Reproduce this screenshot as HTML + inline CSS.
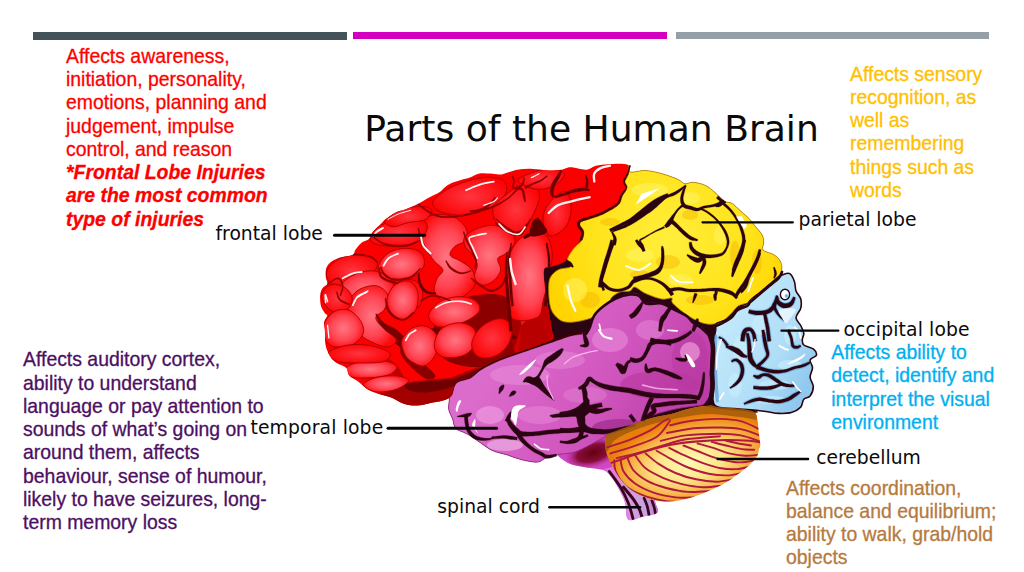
<!DOCTYPE html>
<html><head><meta charset="utf-8">
<style>
html,body{margin:0;padding:0;background:#fff;}
body{width:1024px;height:572px;position:relative;overflow:hidden;font-family:"Liberation Sans",sans-serif;}
.bar{position:absolute;}
.t{position:absolute;font-size:19.42px;line-height:23.25px;white-space:nowrap;-webkit-text-stroke:0.3px currentColor;}
.t div{height:23.25px;}
.lb{position:absolute;font-family:"DejaVu Sans","Liberation Sans",sans-serif;color:#0a0a0a;white-space:nowrap;font-size:18.75px;line-height:22px;}
#brain{position:absolute;left:0;top:0;}
</style></head><body>
<div class="bar" style="left:33px;top:32px;width:313.5px;height:8px;background:#44525a"></div>
<div class="bar" style="left:353px;top:32px;width:314px;height:7px;background:#d400c0"></div>
<div class="bar" style="left:675.5px;top:31.5px;width:313.5px;height:7.5px;background:#959fa8"></div>

<div class="t" id="red" style="left:66px;top:44.8px;color:#ff0000">
<div><span id="r1">Affects awareness,</span></div>
<div><span id="r2">initiation, personality,</span></div>
<div><span id="r3">emotions, planning and</span></div>
<div><span id="r4">judgement, impulse</span></div>
<div><span id="r5">control, and reason</span></div>
<div style="font-weight:bold;font-style:italic"><span id="r6">*Frontal Lobe Injuries</span></div>
<div style="font-weight:bold;font-style:italic"><span id="r7">are the most common</span></div>
<div style="font-weight:bold;font-style:italic"><span id="r8">type of injuries</span></div>
</div>

<div class="t" id="yel" style="left:850px;top:62.5px;color:#ffc000">
<div><span id="y1">Affects sensory</span></div>
<div><span id="y2">recognition, as</span></div>
<div><span id="y3">well as</span></div>
<div><span id="y4">remembering</span></div>
<div><span id="y5">things such as</span></div>
<div><span id="y6">words</span></div>
</div>

<div class="t" id="pur" style="left:23px;top:348.3px;color:#4d0f63">
<div><span id="p1">Affects auditory cortex,</span></div>
<div><span id="p2">ability to understand</span></div>
<div><span id="p3">language or pay attention to</span></div>
<div><span id="p4">sounds of what’s going on</span></div>
<div><span id="p5">around them, affects</span></div>
<div><span id="p6">behaviour, sense of humour,</span></div>
<div><span id="p7">likely to have seizures, long-</span></div>
<div><span id="p8">term memory loss</span></div>
</div>

<div class="t" id="blu" style="left:831.3px;top:341.2px;color:#00b0f0">
<div><span id="b1">Affects ability to</span></div>
<div><span id="b2">detect, identify and</span></div>
<div><span id="b3">interpret the visual</span></div>
<div><span id="b4">environment</span></div>
</div>

<div class="t" id="brn" style="left:786px;top:476.6px;color:#b67a3f">
<div><span id="n1">Affects coordination,</span></div>
<div><span id="n2">balance and equilibrium;</span></div>
<div><span id="n3">ability to walk, grab/hold</span></div>
<div><span id="n4">objects</span></div>
</div>

<div class="lb" id="title" style="left:364.2px;top:106.6px;font-size:36.1px;line-height:44px;">Parts of the Human Brain</div>
<div class="lb" id="lfront" style="left:215.5px;top:223.3px;">frontal lobe</div>
<div class="lb" id="lpar" style="left:798.5px;top:208.7px;">parietal lobe</div>
<div class="lb" id="locc" style="left:843.4px;top:318.7px;letter-spacing:0.13px">occipital lobe</div>
<div class="lb" id="ltemp" style="left:250.4px;top:417.2px;letter-spacing:0.15px">temporal lobe</div>
<div class="lb" id="lcer" style="left:816.2px;top:446.7px;">cerebellum</div>
<div class="lb" id="lsp" style="left:437.3px;top:495.9px;">spinal cord</div>

<svg id="brain" width="1024" height="572" viewBox="0 0 1024 572">
<defs>
<radialGradient id="gr" cx="0.5" cy="0.5" r="0.55"><stop offset="0" stop-color="#ff7682"/><stop offset="0.6" stop-color="#ff4352"/><stop offset="1" stop-color="#ff0a0a"/></radialGradient>
<radialGradient id="gr2" cx="0.5" cy="0.5" r="0.6"><stop offset="0" stop-color="#ff3540"/><stop offset="1" stop-color="#fa0000"/></radialGradient>
<radialGradient id="gy" cx="0.5" cy="0.45" r="0.6"><stop offset="0" stop-color="#fff45a"/><stop offset="0.6" stop-color="#ffe61e"/><stop offset="1" stop-color="#ffd200"/></radialGradient>
<radialGradient id="gp" cx="0.5" cy="0.45" r="0.6"><stop offset="0" stop-color="#e88ad8"/><stop offset="0.6" stop-color="#d460c4"/><stop offset="1" stop-color="#c548b4"/></radialGradient>
<radialGradient id="gb" cx="0.5" cy="0.45" r="0.6"><stop offset="0" stop-color="#cdeafa"/><stop offset="0.6" stop-color="#a4d6f2"/><stop offset="1" stop-color="#6fb6e4"/></radialGradient>
<radialGradient id="gc" gradientUnits="userSpaceOnUse" cx="690" cy="462" r="88" gradientTransform="translate(690 462) rotate(-14) scale(1 0.5) translate(-690 -462)"><stop offset="0" stop-color="#fffab4"/><stop offset="0.4" stop-color="#fde58a"/><stop offset="0.7" stop-color="#f7b447"/><stop offset="0.9" stop-color="#ef901a"/><stop offset="1" stop-color="#e87e0c"/></radialGradient>
<linearGradient id="gst" x1="0" y1="0" x2="1" y2="0"><stop offset="0" stop-color="#e050d0"/><stop offset="0.5" stop-color="#d8a0dc"/><stop offset="1" stop-color="#c070c8"/></linearGradient>
<radialGradient id="gsd" gradientUnits="userSpaceOnUse" cx="593" cy="453" r="30" gradientTransform="translate(593 453) rotate(-8) scale(1 0.5) translate(-593 -453)"><stop offset="0" stop-color="#640010" stop-opacity="1"/><stop offset="0.55" stop-color="#80062a" stop-opacity="0.9"/><stop offset="1" stop-color="#c030a8" stop-opacity="0"/></radialGradient>
<linearGradient id="gsl" gradientUnits="userSpaceOnUse" x1="612" y1="500" x2="655" y2="488"><stop offset="0" stop-color="#ea58dc"/><stop offset="0.35" stop-color="#d89ae0"/><stop offset="0.7" stop-color="#c4a4dc"/><stop offset="1" stop-color="#c060c4"/></linearGradient>
<clipPath id="scl"><path d="M556 452C556.5 455.8 563.3 460.4 567.9 462.9C572.5 465.4 578.4 465.8 583.6 466.9C588.8 467.9 595.5 468.4 599.3 469.2C603.1 470 603.8 469.6 606.3 471.5C608.8 473.4 611.8 477.5 614.2 480.9C616.6 484.3 618.7 488.2 620.5 491.9C622.3 495.6 623.9 498.3 625.2 502.9C626.5 507.5 625.3 517.2 628.3 519.5C631.3 521.8 638.1 517.7 643 516.5C647.9 515.3 655.4 514.9 657.4 512.4C659.4 509.9 656.2 506.8 655 501.4C653.8 496 652.5 488.6 650 480C647.5 471.4 645 458.3 640 450C635 441.7 628.3 433.3 620 430C611.7 426.7 599.2 428.3 590 430C580.8 431.7 570.7 436.3 565 440C559.3 443.7 555.5 448.2 556 452Z"/></clipPath>
<radialGradient id="gyl" gradientUnits="userSpaceOnUse" cx="670" cy="240" r="130"><stop offset="0" stop-color="#ffee3c"/><stop offset="0.6" stop-color="#ffe31a"/><stop offset="1" stop-color="#ffd400"/></radialGradient>
<linearGradient id="gpl" gradientUnits="userSpaceOnUse" x1="500" y1="340" x2="680" y2="440"><stop offset="0" stop-color="#dc6ccc"/><stop offset="0.5" stop-color="#d258c0"/><stop offset="1" stop-color="#bc3ca6"/></linearGradient>
<clipPath id="pcl"><path d="M450 396C451.1 393 453 385 456.3 381.9C459.6 378.8 466.1 379.3 470 377.2C473.9 375.1 475.5 371.9 479.4 369.3C483.3 366.7 488.6 363.9 493.6 361.5C498.6 359.1 504.1 357.2 509.3 355.2C514.5 353.2 519.9 351.5 525.1 349.7C530.4 347.9 535.6 346 540.8 344.2C546 342.4 551.5 340.4 556.5 338.7C561.5 337 566.8 334.9 570.7 333.9C574.6 332.8 577.6 332.5 580.1 332.4C582.6 332.2 584.4 333.7 586 333C587.6 332.3 588.2 330.9 589.6 328C591 325.1 591.9 319.1 594.3 315.5C596.6 311.9 600 309 603.7 306.1C607.4 303.2 611.9 300.3 616.3 298.2C620.7 296.1 626.1 294 630 293.5C633.9 293 636.8 293.4 639.4 295C642 296.6 642 301.6 645.7 302.9C649.4 304.2 656.8 301.8 661.5 302.9C666.2 303.9 669.8 307.1 674 309.2C678.2 311.3 683.5 313.4 686.6 315.5C689.8 317.6 690.7 320.1 692.9 321.8C695.1 323.6 697.4 323.9 700 326C702.6 328.1 706.7 331.4 708.7 334.7C710.7 338 711.4 341.2 711.8 345.7C712.2 350.2 711.3 356.8 711 361.5C710.7 366.2 710.2 370.1 710.2 374C710.2 377.9 711.2 381.1 711 385C710.8 388.9 709.9 394.5 708.7 397.7C707.5 400.9 705.6 402.7 704 404C702.4 405.3 703.7 404.7 699.2 405.5C694.7 406.3 684.8 407.1 677.2 408.7C669.6 410.3 659.8 412.8 653.6 415C647.4 417.2 647.8 418.5 640 422C632.2 425.5 615.3 432.2 607 436C598.7 439.8 595.3 442.3 590 445C584.7 447.7 580.1 450.4 575 452C569.9 453.6 562.7 453.8 559.6 454.3C556.5 454.8 558.8 454.5 556.4 455.1C554 455.8 548.5 457 545.4 458.2C542.2 459.4 541.4 461.8 537.5 462.1C533.6 462.4 526.8 461 521.8 459.8C516.8 458.6 512.7 456.7 507.7 455.1C502.7 453.5 496.9 452.7 491.9 450.3C486.9 447.9 482 443.6 477.8 440.9C473.6 438.1 470.4 435.9 466.7 433.8C463 431.7 458 430.8 455.7 428.3C453.4 425.8 453.8 422 452.6 418.9C451.4 415.8 449.2 412.5 448.7 409.4C448.2 406.2 449.2 402.2 449.4 400C449.6 397.8 448.9 399 450 396Z"/></clipPath>
<linearGradient id="gbl" gradientUnits="userSpaceOnUse" x1="720" y1="330" x2="810" y2="380"><stop offset="0" stop-color="#c2e8fb"/><stop offset="0.6" stop-color="#b0def7"/><stop offset="1" stop-color="#90c8ee"/></linearGradient>
<clipPath id="bcl"><path d="M781.8 275C782.3 274.7 780.5 275.2 781.8 275C783.1 274.8 787.6 272.5 789.7 273.6C791.8 274.7 793.4 278.6 794.4 281.5C795.4 284.4 795 288 796 290.9C797 293.8 799.9 295.9 800.7 298.8C801.5 301.7 801.5 305.1 800.7 308.2C799.9 311.3 796 314.8 796 317.7C796 320.6 799.4 322.9 800.7 325.5C802 328.1 803.5 331.1 803.8 333.4C804.1 335.7 802.3 337.5 802.3 339.4C802.3 341.3 802 343.4 803.8 345C805.6 346.6 811.2 347.2 813.3 348.9C815.4 350.6 816.9 353.4 816.4 355.2C815.9 357 810.8 357.8 810.1 359.9C809.5 362 812.5 364.9 812.5 367.8C812.5 370.7 810 374.1 810.1 377.2C810.2 380.3 813.3 383.5 813.3 386.6C813.3 389.8 811.7 394 810.1 396.1C808.5 398.2 805.4 397.4 803.8 399.2C802.2 401 802.8 404.9 800.7 407.1C798.6 409.3 795 411.6 791.3 412.6C787.6 413.7 782.6 413.5 778.7 413.4C774.8 413.3 771.4 412.3 767.7 411.8C764 411.3 761.2 410.7 756.6 410.2C752 409.7 746.4 409.5 740 409C733.6 408.5 722.5 408.5 718 407C713.5 405.5 713.7 403.7 713 400C712.3 396.3 713.9 390 714 385C714.1 380 713.4 375 713.5 370C713.6 365 714.4 360 714.5 355C714.6 350 713.8 344.2 714 340C714.2 335.8 715.4 332.7 715.7 330C716 327.3 714.7 325.5 716 324C717.3 322.5 721 322.1 723.6 320.8C726.2 319.5 729.1 318.1 731.5 316C733.9 313.9 735.2 310.1 737.8 308.2C740.4 306.2 745.1 305.6 747.2 304.3C749.3 303 748.2 302.3 750.3 300.3C752.4 298.3 756.6 295.1 759.8 292.5C762.9 289.9 766.1 287.2 769.2 284.6C772.4 282 776.6 278.3 778.7 276.7C780.8 275.1 781.3 275.3 781.8 275Z"/></clipPath>
<clipPath id="ccl"><path d="M607.2 434.6C610.1 432.7 617.6 430.4 622.9 428.3C628.1 426.2 633.5 423.8 638.7 422C644 420.2 649.2 418.6 654.4 417.3C659.6 416 664.9 415.5 670.1 414.2C675.4 412.9 680.6 410.7 685.9 409.4C691.1 408.1 697.4 406.9 701.6 406.3C705.8 405.7 708.3 405.4 711 405.5C713.7 405.6 713.2 406.5 718 407C722.8 407.5 734 407.9 740 408.7C746 409.5 751.1 409.9 754 411.8C756.9 413.7 756.6 416.6 757.4 420C758.2 423.4 758.2 428 758.7 432.2C759.2 436.4 760.3 442.1 760.3 445C760.3 447.9 759.4 447.6 758.9 449.4C758.4 451.2 758.6 453.3 757.3 455.7C756 458.1 753.6 461 751 463.6C748.4 466.2 745.8 468.4 741.6 471.5C737.4 474.6 731.1 479.4 725.9 482.5C720.6 485.6 715.4 487.9 710.1 490.3C704.9 492.7 699.6 494.9 694.4 496.6C689.2 498.3 684 499.8 678.7 500.6C673.5 501.4 668.1 501.8 662.9 501.4C657.6 501 652.4 500 647.2 498.2C642 496.4 636 493.4 631.5 490.3C627 487.2 623.6 483.2 620.5 479.3C617.4 475.4 615 471.1 612.6 466.7C610.2 462.2 607.5 457.1 606.3 452.6C605.1 448.2 605.4 443 605.5 440C605.6 437 604.3 436.6 607.2 434.6Z"/></clipPath>
<clipPath id="rcl"><path d="M628.9 165.7C627.9 164.1 624.4 164.1 621 163.8C617.6 163.6 612.7 163.9 608.5 164.2C604.3 164.5 599.6 164.8 595.9 165.7C592.2 166.6 590.6 169.4 586.4 169.7C582.2 170 574.9 167.3 570.7 167.3C566.5 167.3 565 169.2 561.3 169.7C557.6 170.2 553.4 170.6 548.7 170.5C544 170.4 538.1 169 532.9 168.9C527.6 168.8 522.4 168.8 517.2 169.7C512 170.6 505.9 173.8 501.5 174.4C497.1 175.1 494.2 173.7 490.5 173.6C486.8 173.5 482.8 172.9 479.4 173.6C476 174.2 473.1 176.4 470 177.5C466.9 178.6 464.1 179 461 179.9C457.9 180.8 454.2 181.8 451.6 183C449 184.2 447.4 185.4 445.3 187C443.2 188.6 441.6 190.8 439 192.5C436.4 194.2 432.8 195.5 429.6 197.2C426.5 198.9 423 201.1 420.1 202.7C417.2 204.3 414.9 205.4 412.3 206.6C409.7 207.8 407.3 208.8 404.4 209.8C401.5 210.9 398.1 211.3 395 212.9C391.9 214.5 388.1 217.1 385.5 219.2C382.9 221.3 381.3 223.4 379.2 225.5C377.1 227.6 374.6 229.6 372.9 231.8C371.2 234.1 370.8 237.2 369 239C367.2 240.8 364.1 240.7 361.9 242.4C359.7 244.1 357.2 247.3 355.6 249.4C354 251.5 354.9 253.6 352.5 254.9C350.1 256.2 344.9 256.2 341.5 257.3C338.1 258.4 334.5 259.5 332 261.2C329.5 262.9 327.6 265 326.5 267.5C325.4 270 325.6 273.4 325.7 276.2C325.8 279 327.8 282.1 327.3 284.1C326.8 286.1 323.8 286.2 322.6 288C321.4 289.8 320.5 292.1 320.2 295.1C319.9 298.1 320.2 303.1 321 306.1C321.8 309.1 323.8 311.6 324.9 313.2C325.9 314.8 327.4 314.1 327.3 315.5C327.2 316.9 324.6 319.4 324.2 321.8C323.8 324.2 324.6 326 324.9 330C325.1 334 324.8 341.2 325.7 345.7C326.6 350.1 328.7 353.8 330.5 356.7C332.3 359.6 334.1 361.1 336.7 363C339.3 364.9 344.1 365.7 346.2 367.8C348.3 369.9 347.2 373.2 349.3 375.6C351.4 378 355.7 379.5 358.8 381.9C361.9 384.3 364.5 387.7 368.2 389.8C371.9 391.9 376.9 393.2 380.8 394.5C384.7 395.8 387.9 396.1 391.8 397.7C395.7 399.3 400.2 402.6 404.4 403.9C408.6 405.2 412.8 405.6 417 405.5C421.2 405.4 425.4 404 429.6 403.2C433.8 402.4 438.5 402 442.2 400.8C445.9 399.6 449.2 399.2 451.6 396.1C454 393 453.2 385 456.3 381.9C459.4 378.8 466.1 379.3 470 377.2C473.9 375.1 475.5 371.9 479.4 369.3C483.3 366.7 488.6 363.9 493.6 361.5C498.6 359.1 504.1 357.2 509.3 355.2C514.5 353.2 519.9 351.5 525.1 349.7C530.4 347.9 536.1 346 540.8 344.2C545.4 342.4 551.2 341.1 553 338.7C554.8 336.3 552.5 334.6 551.8 330C551.1 325.4 549.8 317.2 548.7 310.8C547.7 304.4 546.3 298.7 545.5 291.9C544.7 285.1 542.9 274.1 543.9 269.9C544.9 265.7 548.4 268 551.8 266.7C555.2 265.4 560.7 264.4 564.4 262C568.1 259.6 571.2 256.3 573.8 252.6C576.4 248.9 578.5 243.5 580.1 240C581.7 236.5 583.5 234.2 583.3 231.8C583 229.4 579.1 227.3 578.6 225.5C578.1 223.7 578.3 222.1 580.1 220.8C581.9 219.5 586.5 218.8 589.6 217.7C592.8 216.6 595.9 215.8 599 214.5C602.1 213.2 605.4 211.6 608.5 209.8C611.6 208 615.8 205.9 617.9 203.5C620 201.1 619.7 198.2 621 195.6C622.3 193 625.4 190.2 625.8 187.8C626.2 185.5 623.1 183.9 623.4 181.5C623.6 179.1 626.4 176.2 627.3 173.6C628.2 171 629.9 167.3 628.9 165.7Z"/></clipPath>
</defs>
<path d="M628.9 165.7C633.9 163.5 627.2 171.2 630 172C632.8 172.8 640.5 170.2 645.7 170.5C651 170.8 656.2 172.2 661.5 173.6C666.8 175 673.3 177.4 677.2 179.1C681.1 180.8 682.5 183.3 685.1 183.8C687.7 184.3 689.5 182 692.9 182.3C696.3 182.6 701.8 183.7 705.5 185.4C709.2 187.1 711.9 189.9 715 192.5C718.1 195.1 721.5 199.3 724.4 201.1C727.3 202.9 729.7 201.9 732.3 203.5C734.9 205.1 737.2 208 740.1 210.6C743 213.2 747 216.4 749.6 219.2C752.2 221.9 753.8 224.5 755.9 227.1C758 229.7 760.9 232.3 762.2 235C763.5 237.7 763.6 240.5 763.7 243C763.8 245.5 761.2 248.1 762.9 250C764.6 251.9 771 252.9 773.9 254.7C776.8 256.5 778.9 258.6 780.2 261C781.5 263.4 781.5 266.6 781.8 268.9C782.1 271.2 780.5 274.2 781.8 275C783.1 275.8 787.6 272.5 789.7 273.6C791.8 274.7 793.4 278.6 794.4 281.5C795.4 284.4 795 288 796 290.9C797 293.8 799.9 295.9 800.7 298.8C801.5 301.7 801.5 305.1 800.7 308.2C799.9 311.3 796 314.8 796 317.7C796 320.6 799.4 322.9 800.7 325.5C802 328.1 803.5 331.1 803.8 333.4C804.1 335.7 802.3 337.5 802.3 339.4C802.3 341.3 802 343.4 803.8 345C805.6 346.6 811.2 347.2 813.3 348.9C815.4 350.6 816.9 353.4 816.4 355.2C815.9 357 810.8 357.8 810.1 359.9C809.5 362 812.5 364.9 812.5 367.8C812.5 370.7 810 374.1 810.1 377.2C810.2 380.3 813.3 383.5 813.3 386.6C813.3 389.8 811.7 394 810.1 396.1C808.5 398.2 805.4 397.4 803.8 399.2C802.2 401 802.8 404.9 800.7 407.1C798.6 409.3 795 411.6 791.3 412.6C787.6 413.7 782.6 413.5 778.7 413.4C774.8 413.3 771.4 412.3 767.7 411.8C764 411.3 762.9 408.8 756.6 410.2C750.3 411.6 739.4 416.7 730 420C720.6 423.3 715 426.7 700 430C685 433.3 656.7 436.7 640 440C623.3 443.3 613.4 447.6 600 450C586.6 452.4 566.9 453.4 559.6 454.3C552.3 455.2 558.8 454.5 556.4 455.1C554 455.8 548.5 457 545.4 458.2C542.2 459.4 541.4 461.8 537.5 462.1C533.6 462.4 526.8 461 521.8 459.8C516.8 458.6 512.7 456.7 507.7 455.1C502.7 453.5 496.9 452.7 491.9 450.3C486.9 447.9 482 443.6 477.8 440.9C473.6 438.1 470.4 435.9 466.7 433.8C463 431.7 458 430.8 455.7 428.3C453.4 425.8 453.8 422 452.6 418.9C451.4 415.8 449.2 412.5 448.7 409.4C448.2 406.2 449.2 402.2 449.4 400C449.6 397.8 448.9 399 450 396C451.1 393 453 385 456.3 381.9C459.6 378.8 464.4 380.8 470 377.2C475.6 373.6 481.7 372.9 490 360C498.3 347.1 511.7 318.3 520 300C528.3 281.7 531.7 265 540 250C548.3 235 560 220.8 570 210C580 199.2 590.2 192.4 600 185C609.8 177.6 623.9 167.9 628.9 165.7Z" fill="#2a0410"/>
<path d="M628.9 165.7C627.9 164.1 624.4 164.1 621 163.8C617.6 163.6 612.7 163.9 608.5 164.2C604.3 164.5 599.6 164.8 595.9 165.7C592.2 166.6 590.6 169.4 586.4 169.7C582.2 170 574.9 167.3 570.7 167.3C566.5 167.3 565 169.2 561.3 169.7C557.6 170.2 553.4 170.6 548.7 170.5C544 170.4 538.1 169 532.9 168.9C527.6 168.8 522.4 168.8 517.2 169.7C512 170.6 505.9 173.8 501.5 174.4C497.1 175.1 494.2 173.7 490.5 173.6C486.8 173.5 482.8 172.9 479.4 173.6C476 174.2 473.1 176.4 470 177.5C466.9 178.6 464.1 179 461 179.9C457.9 180.8 454.2 181.8 451.6 183C449 184.2 447.4 185.4 445.3 187C443.2 188.6 441.6 190.8 439 192.5C436.4 194.2 432.8 195.5 429.6 197.2C426.5 198.9 423 201.1 420.1 202.7C417.2 204.3 414.9 205.4 412.3 206.6C409.7 207.8 407.3 208.8 404.4 209.8C401.5 210.9 398.1 211.3 395 212.9C391.9 214.5 388.1 217.1 385.5 219.2C382.9 221.3 381.3 223.4 379.2 225.5C377.1 227.6 374.6 229.6 372.9 231.8C371.2 234.1 370.8 237.2 369 239C367.2 240.8 364.1 240.7 361.9 242.4C359.7 244.1 357.2 247.3 355.6 249.4C354 251.5 354.9 253.6 352.5 254.9C350.1 256.2 344.9 256.2 341.5 257.3C338.1 258.4 334.5 259.5 332 261.2C329.5 262.9 327.6 265 326.5 267.5C325.4 270 325.6 273.4 325.7 276.2C325.8 279 327.8 282.1 327.3 284.1C326.8 286.1 323.8 286.2 322.6 288C321.4 289.8 320.5 292.1 320.2 295.1C319.9 298.1 320.2 303.1 321 306.1C321.8 309.1 323.8 311.6 324.9 313.2C325.9 314.8 327.4 314.1 327.3 315.5C327.2 316.9 324.6 319.4 324.2 321.8C323.8 324.2 324.6 326 324.9 330C325.1 334 324.8 341.2 325.7 345.7C326.6 350.1 328.7 353.8 330.5 356.7C332.3 359.6 334.1 361.1 336.7 363C339.3 364.9 344.1 365.7 346.2 367.8C348.3 369.9 347.2 373.2 349.3 375.6C351.4 378 355.7 379.5 358.8 381.9C361.9 384.3 364.5 387.7 368.2 389.8C371.9 391.9 376.9 393.2 380.8 394.5C384.7 395.8 387.9 396.1 391.8 397.7C395.7 399.3 400.2 402.6 404.4 403.9C408.6 405.2 412.8 405.6 417 405.5C421.2 405.4 425.4 404 429.6 403.2C433.8 402.4 438.5 402 442.2 400.8C445.9 399.6 449.2 399.2 451.6 396.1C454 393 453.2 385 456.3 381.9C459.4 378.8 466.1 379.3 470 377.2C473.9 375.1 475.5 371.9 479.4 369.3C483.3 366.7 488.6 363.9 493.6 361.5C498.6 359.1 504.1 357.2 509.3 355.2C514.5 353.2 519.9 351.5 525.1 349.7C530.4 347.9 536.1 346 540.8 344.2C545.4 342.4 551.2 341.1 553 338.7C554.8 336.3 552.5 334.6 551.8 330C551.1 325.4 549.8 317.2 548.7 310.8C547.7 304.4 546.3 298.7 545.5 291.9C544.7 285.1 542.9 274.1 543.9 269.9C544.9 265.7 548.4 268 551.8 266.7C555.2 265.4 560.7 264.4 564.4 262C568.1 259.6 571.2 256.3 573.8 252.6C576.4 248.9 578.5 243.5 580.1 240C581.7 236.5 583.5 234.2 583.3 231.8C583 229.4 579.1 227.3 578.6 225.5C578.1 223.7 578.3 222.1 580.1 220.8C581.9 219.5 586.5 218.8 589.6 217.7C592.8 216.6 595.9 215.8 599 214.5C602.1 213.2 605.4 211.6 608.5 209.8C611.6 208 615.8 205.9 617.9 203.5C620 201.1 619.7 198.2 621 195.6C622.3 193 625.4 190.2 625.8 187.8C626.2 185.5 623.1 183.9 623.4 181.5C623.6 179.1 626.4 176.2 627.3 173.6C628.2 171 629.9 167.3 628.9 165.7Z" fill="#fb0000"/>
<path d="M556 452C556.5 455.8 563.3 460.4 567.9 462.9C572.5 465.4 578.4 465.8 583.6 466.9C588.8 467.9 595.5 468.4 599.3 469.2C603.1 470 603.8 469.6 606.3 471.5C608.8 473.4 611.8 477.5 614.2 480.9C616.6 484.3 618.7 488.2 620.5 491.9C622.3 495.6 623.9 498.3 625.2 502.9C626.5 507.5 625.3 517.2 628.3 519.5C631.3 521.8 638.1 517.7 643 516.5C647.9 515.3 655.4 514.9 657.4 512.4C659.4 509.9 656.2 506.8 655 501.4C653.8 496 652.5 488.6 650 480C647.5 471.4 645 458.3 640 450C635 441.7 628.3 433.3 620 430C611.7 426.7 599.2 428.3 590 430C580.8 431.7 570.7 436.3 565 440C559.3 443.7 555.5 448.2 556 452Z" fill="#d048c4"/>
<g clip-path="url(#scl)">
<path d="M600 470L660 455L665 520L620 525Z" fill="url(#gsl)"/>
<ellipse cx="593" cy="453" rx="32" ry="17" transform="rotate(-8 593 453)" fill="url(#gsd)"/>
<path d="M609.4 471.5C611.3 474.1 617.3 482 620.5 487.2C623.6 492.4 626.2 497.7 628.3 502.9C630.4 508.2 632.3 516 633 518.7" fill="none" stroke="#3a0420" stroke-width="2.8" stroke-linecap="round" stroke-linejoin="round" />
<path d="M623.6 487.2C625.3 489.3 631.2 496.1 633.8 499.8C636.4 503.5 637.9 506.2 639.3 509.2C640.7 512.2 641.7 516.4 642.2 517.9" fill="none" stroke="#3a0420" stroke-width="3" stroke-linecap="round" stroke-linejoin="round" />
<path d="M644.1 498.2C644.6 499.5 646.4 503.2 647.2 506.1C648 509 648.8 513.9 649.1 515.5" fill="none" stroke="#3a0420" stroke-width="2.8" stroke-linecap="round" stroke-linejoin="round" />
<path d="M651.9 500.6C652.3 501.8 653.7 505.4 654.3 507.6C654.9 509.9 655.2 512.9 655.4 513.9" fill="none" stroke="#3a0420" stroke-width="2.6" stroke-linecap="round" stroke-linejoin="round" />
</g>
<path id="cerpath" d="M607.2 434.6C610.1 432.7 617.6 430.4 622.9 428.3C628.1 426.2 633.5 423.8 638.7 422C644 420.2 649.2 418.6 654.4 417.3C659.6 416 664.9 415.5 670.1 414.2C675.4 412.9 680.6 410.7 685.9 409.4C691.1 408.1 697.4 406.9 701.6 406.3C705.8 405.7 708.3 405.4 711 405.5C713.7 405.6 713.2 406.5 718 407C722.8 407.5 734 407.9 740 408.7C746 409.5 751.1 409.9 754 411.8C756.9 413.7 756.6 416.6 757.4 420C758.2 423.4 758.2 428 758.7 432.2C759.2 436.4 760.3 442.1 760.3 445C760.3 447.9 759.4 447.6 758.9 449.4C758.4 451.2 758.6 453.3 757.3 455.7C756 458.1 753.6 461 751 463.6C748.4 466.2 745.8 468.4 741.6 471.5C737.4 474.6 731.1 479.4 725.9 482.5C720.6 485.6 715.4 487.9 710.1 490.3C704.9 492.7 699.6 494.9 694.4 496.6C689.2 498.3 684 499.8 678.7 500.6C673.5 501.4 668.1 501.8 662.9 501.4C657.6 501 652.4 500 647.2 498.2C642 496.4 636 493.4 631.5 490.3C627 487.2 623.6 483.2 620.5 479.3C617.4 475.4 615 471.1 612.6 466.7C610.2 462.2 607.5 457.1 606.3 452.6C605.1 448.2 605.4 443 605.5 440C605.6 437 604.3 436.6 607.2 434.6Z" fill="url(#gc)"/>
<path d="M628.9 165.7C629.4 165.4 627.2 171.2 630 172C632.8 172.8 640.5 170.2 645.7 170.5C651 170.8 656.2 172.2 661.5 173.6C666.8 175 673.3 177.4 677.2 179.1C681.1 180.8 682.5 183.3 685.1 183.8C687.7 184.3 689.5 182 692.9 182.3C696.3 182.6 701.8 183.7 705.5 185.4C709.2 187.1 711.9 189.9 715 192.5C718.1 195.1 721.5 199.3 724.4 201.1C727.3 202.9 729.7 201.9 732.3 203.5C734.9 205.1 737.2 208 740.1 210.6C743 213.2 747 216.4 749.6 219.2C752.2 221.9 753.8 224.5 755.9 227.1C758 229.7 760.9 232.3 762.2 235C763.5 237.7 763.6 240.5 763.7 243C763.8 245.5 761.2 248.1 762.9 250C764.6 251.9 771 252.9 773.9 254.7C776.8 256.5 778.9 258.6 780.2 261C781.5 263.4 782 266.3 781.8 268.9C781.5 271.5 780.8 274.1 778.7 276.7C776.6 279.3 772.4 282 769.2 284.6C766.1 287.2 762.9 289.9 759.8 292.5C756.6 295.1 752.4 298.6 750.3 300.3C748.2 302.1 749 302.1 747 303C745 303.9 740.7 304.2 738 306C735.3 307.8 733.5 311.4 730.7 314C727.9 316.6 725 320.1 721.3 321.8C717.6 323.5 712.9 324.5 708.7 324.2C704.5 323.9 700.3 322.2 696.1 320.2C691.9 318.2 687.4 315.3 683.5 312.4C679.6 309.5 674.5 305.3 672.5 302.9C670.5 300.5 673.5 298.6 671.7 298C669.9 297.4 665.8 299.8 661.5 299C657.2 298.2 650.2 295.5 645.7 293.5C641.2 291.5 637.3 287.4 634.7 287C632.1 286.6 632.5 290.2 630 291C627.5 291.8 623 291 620 292C617 293 613.9 295.2 612 297C610.1 298.8 611.2 299.9 608.5 303C605.8 306.1 600.6 312.5 595.9 315.5C591.2 318.5 585.4 319.9 580.1 321C574.9 322.1 568.6 322.7 564.4 321.8C560.2 320.9 557.4 318.1 555 315.5C552.6 312.9 551.2 310.2 550.2 306C549.2 301.8 548.7 295 548.7 290.3C548.7 285.6 548.6 281.2 550.2 277.8C551.8 274.4 554.7 271.8 558.1 269.9C561.5 268 569.2 268.3 570.7 266.7C572.2 265.1 566.6 263.4 567 260.5C567.4 257.6 570.5 252.8 573 249.4C575.5 246 580.3 242.9 582 240C583.7 237.1 583.9 234.2 583.3 231.8C582.7 229.4 579.1 227.3 578.6 225.5C578.1 223.7 578.3 222.1 580.1 220.8C581.9 219.5 586.5 218.8 589.6 217.7C592.8 216.6 595.9 215.8 599 214.5C602.1 213.2 605.4 211.6 608.5 209.8C611.6 208 615.8 205.9 617.9 203.5C620 201.1 619.7 198.2 621 195.6C622.3 193 625.4 190.2 625.8 187.8C626.2 185.5 623.1 183.9 623.4 181.5C623.6 179.1 626.4 176.2 627.3 173.6C628.2 171 628.4 166 628.9 165.7Z" fill="url(#gyl)" stroke="#b88400" stroke-width="0.8"/>
<ellipse cx="668" cy="262" rx="12" ry="7" fill="#f6b400" opacity="0.45"/>
<ellipse cx="700" cy="300" rx="14" ry="5" fill="#f6b400" opacity="0.45"/>
<ellipse cx="640" cy="275" rx="10" ry="5" fill="#f6b400" opacity="0.45"/>
<ellipse cx="735" cy="255" rx="5" ry="14" fill="#f6b400" opacity="0.45"/>
<ellipse cx="590" cy="300" rx="10" ry="8" fill="#f6b400" opacity="0.45"/>
<ellipse cx="610" cy="222" rx="10" ry="4" fill="#f6b400" opacity="0.45"/>
<ellipse cx="690" cy="215" rx="8" ry="5" fill="#f6b400" opacity="0.45"/>
<ellipse cx="757" cy="262" rx="5" ry="12" fill="#f6b400" opacity="0.45"/>
<ellipse cx="650" cy="190" rx="18" ry="7" fill="#fff66a" opacity="0.5"/>
<ellipse cx="690" cy="198" rx="10" ry="6" fill="#fff66a" opacity="0.5"/>
<ellipse cx="640" cy="255" rx="14" ry="7" fill="#fff66a" opacity="0.5"/>
<ellipse cx="680" cy="280" rx="12" ry="6" fill="#fff66a" opacity="0.5"/>
<ellipse cx="575" cy="290" rx="12" ry="12" fill="#fff66a" opacity="0.5"/>
<ellipse cx="720" cy="235" rx="6" ry="10" fill="#fff66a" opacity="0.5"/>
<path d="M685.4 184.8L684.8 185.3L683.9 185.9L682.9 186.7L681.7 187.5L680.6 188.3L679.5 189L678.5 189.6L677.5 190.2L676.5 190.8L675.5 191.4L674.4 192L673.3 192.5L672.2 193.1L670.9 193.6L669.6 194.2L668.2 194.7L666.8 195.3L665.5 195.8L664.3 196.3L663.1 196.8L662 197.3L660.9 197.8L659.7 198.4L658.4 199L657.1 199.9L655.7 200.8L654.3 201.8L652.8 202.9L651.4 203.9L650.1 205L648.8 206L647.6 207.1L646.4 208.2L645.2 209.4L644 210.5L642.6 211.7L641.2 212.9L639.7 214.2L638.2 215.5L636.7 216.8L635.2 218L633.7 219.1L632.1 220.2L630.6 221.2L629 222.2L627.5 223.1L626 224L624.5 224.8L623.2 225.5L621.8 226.1L620.5 226.6L619.2 227.1L618 227.6L616.9 228.2L615.8 228.7L614.9 229.3L614.1 229.8L613.3 230.4L612.8 230.8L612.3 231.1L612.9 232.1L613.4 231.9L614 231.6L614.8 231.3L615.8 231L616.7 230.7L617.8 230.3L618.9 229.9L620.1 229.5L621.4 229.1L622.8 228.6L624.3 228L625.8 227.4L627.3 226.6L628.9 225.8L630.6 224.9L632.2 224L633.9 223L635.6 222L637.2 220.9L638.9 219.8L640.6 218.7L642.3 217.5L643.9 216.4L645.5 215.3L646.9 214.3L648.4 213.3L649.8 212.4L651.1 211.4L652.4 210.5L653.7 209.4L655 208.3L656.4 207.2L657.6 206L658.9 204.8L660 203.7L661.1 202.8L662.1 201.9L663 201L663.9 200.2L664.7 199.5L665.6 198.8L666.6 198.1L667.8 197.5L669.1 197.1L670.5 196.6L671.9 196.2L673.3 195.7L674.6 195.1L675.8 194.5L676.9 193.8L678 193.1L679 192.4L680 191.6L680.9 190.8L681.9 189.9L682.9 188.9L683.9 187.9L684.8 186.9L685.5 186.1L686 185.5Z" fill="#2a0410" stroke="#2a0410" stroke-width="0.3" stroke-linejoin="round" />
<path d="M685.2 185.7L684.9 186.3L684.4 187L683.9 187.9L683.3 188.9L682.8 190L682.3 191.1L681.9 192.3L681.4 193.6L681 195.1L680.7 196.5L680.4 198L680.4 199.4L680.4 200.7L680.6 202L680.9 203.3L681.4 204.6L682.1 205.8L683 206.9L684.3 207.8L685.6 208.4L687 208.8L688.4 209.1L689.7 209.4L690.8 209.6L691.8 209.9L692.9 210.3L694 210.6L695.1 210.9L696.4 211L697.6 211L698.9 210.7L700 210.3L701 209.7L702 209.2L703 208.7L704.1 208.3L705.5 208L707 207.8L708.7 207.5L710.4 207.3L712 207L713.5 206.7L714.9 206.4L716.1 206.1L717.2 205.8L718.3 205.4L719.3 205L720.3 204.5L721.2 203.9L722 203.2L722.7 202.4L723.3 201.7L723.7 201.2L724.1 200.8L722.9 199.5L722.5 199.8L721.9 200.2L721.2 200.7L720.4 201.1L719.6 201.6L718.9 202L718.1 202.4L717.2 202.9L716.3 203.3L715.3 203.7L714.2 204.1L713 204.5L711.6 204.8L710.1 205.1L708.4 205.3L706.7 205.5L705.1 205.8L703.5 206.1L702.2 206.5L701 207L699.9 207.4L699 207.8L698.2 208L697.4 208.1L696.6 208.1L695.8 207.8L694.9 207.5L693.9 207.2L692.9 206.7L691.7 206.3L690.5 206L689.2 205.7L687.9 205.4L686.8 205.1L685.9 204.7L685.3 204.3L684.8 203.8L684.4 203.1L684 202.3L683.6 201.3L683.4 200.3L683.2 199.3L683.2 198.2L683.3 197L683.6 195.6L683.9 194.3L684.2 193L684.5 191.8L684.8 190.7L685.1 189.6L685.4 188.6L685.8 187.6L686.1 186.8L686.3 186.2Z" fill="#2a0410" stroke="#2a0410" stroke-width="0.3" stroke-linejoin="round" />
<path d="M681.9 204.7L681.5 205L681 205.5L680.3 206L679.6 206.7L678.8 207.4L678 208.2L677.3 209.1L676.5 210L675.6 211.1L674.8 212.2L673.9 213.3L673 214.4L672 215.6L671 216.9L670 218.3L669 219.5L668.1 220.6L667.4 221.6L666.8 222.4L666.2 223.2L665.6 224L665.1 224.7L664.7 225.3L664.3 225.8L666.3 227.9L666.7 227.6L667.4 227.3L668.3 226.8L669.2 226.2L670.2 225.3L671.1 224.3L671.8 223L672.5 221.6L673.1 220L673.7 218.5L674.3 217L674.9 215.7L675.6 214.5L676.3 213.3L677.1 212.2L677.8 211.1L678.6 210.2L679.3 209.4L680 208.7L680.8 208.1L681.5 207.6L682.2 207.2L682.8 206.8L683.3 206.6Z" fill="#2a0410" stroke="#2a0410" stroke-width="0.3" stroke-linejoin="round" />
<path d="M669.5 222.1L670.2 222.7L671.2 223.4L672.3 224.3L673.6 225.3L674.8 226.4L675.9 227.3L676.9 228.3L677.9 229.3L679 230.4L680 231.5L681.1 232.6L682.2 233.7L683.4 234.7L684.5 235.7L685.8 236.8L687 237.7L688.3 238.6L689.6 239.4L691.1 240L692.6 240.4L694.1 240.6L695.4 240.8L696.5 240.9L697.3 241.1L697.8 239.4L697 239.1L696 238.7L694.8 238.2L693.6 237.6L692.4 237L691.3 236.4L690.2 235.7L689.1 234.9L688 234L686.8 233L685.7 232.1L684.5 231.1L683.5 230.1L682.4 229.1L681.4 228L680.4 227L679.3 225.9L678.3 224.8L677.1 223.7L676 222.6L674.8 221.5L673.7 220.5L672.8 219.7L672.1 219Z" fill="#2a0410" stroke="#2a0410" stroke-width="0.3" stroke-linejoin="round" />
<path d="M716.3 198L716.9 198.6L717.8 199.4L718.9 200.3L720 201.2L721.1 202L722.1 202.7L723 203L723.8 203.2L724.5 203.2L725.1 203.2L725.5 203.1L725.8 203L725.9 201.9L725.6 201.8L725.2 201.7L724.7 201.5L724.3 201.3L723.8 201.1L723.3 200.7L722.6 200.1L721.7 199.3L720.6 198.3L719.6 197.3L718.8 196.5L718.2 195.9Z" fill="#2a0410" stroke="#2a0410" stroke-width="0.3" stroke-linejoin="round" />
<path d="M611.3 231.8L611.6 232.7L612 233.8L612.5 235.2L613 236.6L613.4 237.9L613.5 238.9L613.5 239.8L613.5 240.9L613.3 242L613.1 243L612.9 244L612.7 244.7L615.6 245.2L615.7 244.6L615.9 243.7L616.2 242.5L616.4 241.2L616.5 239.8L616.4 238.4L615.9 237L615.2 235.6L614.3 234.3L613.5 233.1L612.8 232.1L612.3 231.3Z" fill="#2a0410" stroke="#2a0410" stroke-width="0.3" stroke-linejoin="round" />
<path d="M636.8 242.5L637.4 243.3L638.1 244.3L639 245.5L639.9 246.8L640.7 248L641.3 248.9L641.7 249.6L642 250.2L642.2 250.7L642.4 251.1L642.6 251.5L642.7 251.8L645.4 250.7L645.2 250.4L645.1 250L644.9 249.5L644.6 248.8L644.2 248.1L643.7 247.3L643 246.3L642 245.2L641 244L640.1 242.8L639.2 241.8L638.7 241.1Z" fill="#2a0410" stroke="#2a0410" stroke-width="0.3" stroke-linejoin="round" />
<path d="M610.7 239.7L610.4 240.7L610 242.1L609.6 243.7L609.1 245.5L608.6 247.3L608.1 249.1L607.5 250.8L607 252.6L606.4 254.4L605.8 256.3L605.2 258.1L604.6 260L604.1 261.8L603.5 263.7L603 265.6L602.5 267.4L602 269.3L601.5 271L601 272.7L600.6 274.4L600.1 276.1L599.8 277.6L599.4 279.2L599.1 280.6L598.9 281.9L598.7 283.3L598.5 284.5L598.4 285.5L598.4 286.4L598.3 287L601.7 287.4L601.8 286.7L601.9 285.8L602 284.8L602.1 283.7L602.3 282.5L602.5 281.2L602.8 279.9L603.1 278.5L603.5 276.9L603.9 275.3L604.4 273.6L604.8 271.9L605.3 270.2L605.8 268.4L606.3 266.5L606.9 264.7L607.4 262.8L608 260.9L608.5 259.1L609 257.2L609.5 255.3L609.9 253.4L610.4 251.6L610.8 249.8L611.2 248L611.7 246.2L612.1 244.3L612.4 242.7L612.7 241.3L612.9 240.3Z" fill="#2a0410" stroke="#2a0410" stroke-width="0.3" stroke-linejoin="round" />
<path d="M600.4 283.8L601.3 284.5L602.4 285.5L603.9 286.7L605.5 288L607.1 289.2L608.8 290.1L610.5 290.7L612.1 291.2L613.8 291.5L615.6 291.8L617.3 291.8L619 291.8L620.7 291.5L622.5 291.1L624.3 290.6L626 290L627.6 289.2L629.1 288.4L630.5 287.4L631.6 286.2L632.5 285L633.3 283.9L634.1 282.9L634.9 282.3L635.8 281.7L636.8 281.2L637.8 280.7L638.9 280.3L640.1 279.9L641.4 279.4L642.8 279L644.3 278.6L645.9 278.2L647.6 277.7L649.2 277.3L650.8 276.8L652.3 276.3L653.8 275.8L655.3 275.2L656.7 274.6L658.2 273.7L659.4 272.7L660.5 271.5L661.4 270.1L662.1 268.7L662.7 267.2L663.1 265.6L663.5 263.9L663.8 262.1L664 260.1L664.1 258.1L664.1 256.1L664.1 254.2L664.1 252.6L664 251.1L663.8 249.8L663.6 248.6L663.3 247.6L663.1 246.8L663 246.2L661.3 246.4L661.4 247.1L661.5 247.9L661.6 248.9L661.7 250L661.8 251.3L661.8 252.6L661.7 254.2L661.7 256L661.5 257.9L661.4 259.9L661.1 261.7L660.7 263.3L660.3 264.7L659.8 266L659.2 267.3L658.5 268.4L657.8 269.4L657 270.2L656.1 271L655.1 271.7L654 272.3L652.7 272.9L651.3 273.5L649.9 274L648.4 274.5L646.9 274.8L645.3 275.1L643.6 275.4L641.9 275.7L640.4 276.1L639 276.5L637.7 277L636.4 277.5L635.2 278L634 278.7L632.7 279.6L631.6 280.7L630.7 281.9L629.9 283.1L629.2 284.3L628.4 285.2L627.5 286L626.3 286.7L624.9 287.3L623.4 287.9L621.8 288.4L620.2 288.7L618.8 288.9L617.3 289L615.8 288.9L614.3 288.7L612.8 288.4L611.4 288L610.1 287.5L608.8 286.7L607.4 285.6L606 284.3L604.7 283.1L603.5 282L602.7 281.2Z" fill="#2a0410" stroke="#2a0410" stroke-width="0.3" stroke-linejoin="round" />
<path d="M635.2 240.6L635.5 241.2L635.9 241.9L636.4 242.8L636.9 243.8L637.5 244.8L638.2 245.6L639 246.4L639.9 247.1L640.8 247.7L641.6 248.3L642.4 248.7L642.9 249.1L643.7 248.2L643.3 247.7L642.8 247L642.2 246.2L641.6 245.4L641 244.6L640.4 243.8L639.9 243.1L639.3 242.2L638.6 241.4L638 240.6L637.5 239.9L637.2 239.4Z" fill="#2a0410" stroke="#2a0410" stroke-width="0.3" stroke-linejoin="round" />
<path d="M634.3 283L635.4 282.6L637 282L638.8 281.3L640.7 280.6L642.5 280L644.2 279.7L645.7 279.5L647.2 279.5L648.7 279.6L650.2 279.7L651.7 280L653.2 280.4L654.7 281L656.3 281.7L657.8 282.5L659.4 283.4L660.8 284.3L662.1 285.2L663.2 286.2L664.3 287.2L665.3 288.3L666.2 289.4L667.1 290.5L667.9 291.4L668.6 292.3L669.2 293.2L669.7 294L670.2 294.8L670.6 295.5L670.9 296L673.8 294.2L673.5 293.7L673.2 293L672.7 292.2L672.1 291.2L671.4 290.2L670.6 289.2L669.7 288.3L668.7 287.2L667.6 286.1L666.4 285L665.2 283.9L663.8 282.9L662.3 282L660.7 281.1L659 280.2L657.3 279.4L655.5 278.8L653.8 278.2L652.2 277.8L650.5 277.5L648.9 277.3L647.3 277.3L645.6 277.3L643.9 277.4L642 277.7L640 278.2L637.9 278.8L636 279.5L634.5 280L633.4 280.3Z" fill="#2a0410" stroke="#2a0410" stroke-width="0.3" stroke-linejoin="round" />
<path d="M669.6 292L670.6 291.8L672 291.4L673.7 291L675.4 290.6L677.1 290.3L678.7 290.2L680 290.3L681.4 290.5L682.9 290.8L684.4 291.2L686.1 291.6L688 291.8L690 291.9L692 291.9L694.2 291.9L696.4 291.9L698.6 291.8L700.7 291.8L702.9 291.7L705.1 291.5L707.3 291.3L709.4 291.1L711.4 291L713.3 291L715 291L716.6 291.1L718.1 291.3L719.5 291.5L720.9 291.7L722.4 292L723.9 292.4L725.6 292.9L727.2 293.4L728.7 293.9L730.1 294.5L731.3 295L732.3 295.5L733.2 296.2L734 297L734.8 297.8L735.5 298.5L736 299L737.7 297.5L737.4 296.9L736.9 296.1L736.2 295.1L735.3 294L734.3 292.9L733 292L731.6 291.2L730 290.6L728.3 290L726.5 289.5L724.8 289L723.1 288.7L721.4 288.4L719.9 288.2L718.3 288.1L716.7 288.1L715.1 288.1L713.3 288.1L711.3 288.2L709.2 288.3L707.1 288.5L704.9 288.7L702.7 288.8L700.6 288.9L698.5 289L696.3 289L694.2 289.1L692.1 289.1L690.1 289L688.2 288.9L686.6 288.7L685 288.4L683.5 288.1L682 287.7L680.4 287.5L678.7 287.3L676.8 287.4L674.9 287.6L673 287.9L671.3 288.2L669.9 288.5L668.9 288.7Z" fill="#2a0410" stroke="#2a0410" stroke-width="0.3" stroke-linejoin="round" />
<path d="M743.6 239.7L743.3 241.1L742.8 243L742.2 245.3L741.6 247.7L740.9 250.1L740.2 252.1L739.5 254L738.7 255.9L737.9 257.8L737.1 259.6L736.3 261.4L735.6 263L734.9 264.6L734.4 266.1L733.9 267.4L733.4 268.7L733 269.9L732.6 271.1L732.4 272.1L732.2 273.2L732 274.1L731.9 274.9L731.8 275.5L731.7 276L732.6 276.3L732.8 275.9L733.1 275.3L733.5 274.6L733.9 273.7L734.3 272.8L734.8 271.9L735.3 270.8L735.8 269.7L736.3 268.4L736.9 267.1L737.5 265.7L738.2 264.2L738.9 262.6L739.7 260.8L740.6 259L741.4 257.1L742.2 255.1L743 253L743.6 250.8L744.2 248.4L744.7 245.9L745.2 243.6L745.6 241.7L745.9 240.3Z" fill="#2a0410" stroke="#2a0410" stroke-width="0.3" stroke-linejoin="round" />
<path d="M758.9 249.2L758.6 250.2L758.2 251.5L757.8 253.1L757.3 254.8L756.7 256.6L756 258.3L755.2 260.2L754.2 262.3L753.1 264.4L752 266.6L750.9 268.7L749.8 270.8L748.7 272.7L747.7 274.6L746.7 276.5L745.6 278.3L744.6 280L743.5 281.7L742.4 283.4L741.2 285L740.1 286.6L738.9 288.2L737.9 289.6L737 291L736.3 292.3L735.7 293.5L735.2 294.6L734.8 295.5L734.5 296.3L734.3 296.9L736.3 298L736.7 297.5L737.2 296.8L737.8 296L738.4 295L739.1 294L739.9 292.8L740.7 291.5L741.7 290.1L742.7 288.5L743.8 286.7L744.9 285L746 283.2L747 281.5L748.1 279.7L749.1 277.9L750.2 276L751.2 274.1L752.3 272.1L753.4 270.1L754.5 267.9L755.7 265.7L756.8 263.5L757.8 261.4L758.7 259.4L759.3 257.5L759.9 255.5L760.3 253.7L760.6 252.1L760.9 250.7L761.1 249.7Z" fill="#2a0410" stroke="#2a0410" stroke-width="0.3" stroke-linejoin="round" />
<path d="M693.1 303L693.4 302.5L693.7 301.9L694.2 301.1L694.6 300.2L695.1 299.4L695.5 298.6L695.8 297.8L696.2 296.9L696.6 296L696.9 295.2L697.1 294.5L697.3 293.9L694.6 293L694.5 293.6L694.2 294.3L694 295.1L693.7 296.1L693.5 297L693.3 297.8L693.1 298.7L693 299.7L692.8 300.6L692.7 301.5L692.6 302.3L692.5 302.8Z" fill="#2a0410" stroke="#2a0410" stroke-width="0.3" stroke-linejoin="round" />
<path d="M715.1 300.6L715.3 300L715.6 299.2L715.9 298.2L716.2 297.1L716.5 296.1L716.8 295.3L717 294.5L717.2 293.7L717.4 293L717.6 292.4L717.7 291.8L717.8 291.4L715 290.8L715 291.2L714.9 291.8L714.8 292.5L714.7 293.2L714.6 294L714.5 294.9L714.5 295.8L714.5 296.9L714.5 298L714.5 299L714.5 299.9L714.6 300.5Z" fill="#2a0410" stroke="#2a0410" stroke-width="0.3" stroke-linejoin="round" />
<path d="M699.4 209L700.2 209.4L701.4 209.9L702.7 210.6L704.1 211.3L705.6 212.1L707.1 213L708.5 214.1L710.1 215.2L711.7 216.5L713.3 217.8L714.9 219.2L716.3 220.8L717.7 222.4L719.1 224.2L720.5 226.2L721.7 228.1L722.9 230L723.8 231.7L724.6 233.4L725.3 235L725.8 236.6L726.3 238.1L726.6 239.5L726.9 240.8L727 241.9L726.9 243.1L726.8 244.2L726.6 245.2L726.5 246.1L726.4 246.7L728.1 247.1L728.2 246.5L728.5 245.6L728.8 244.6L729.1 243.3L729.2 241.9L729.1 240.5L728.9 239L728.6 237.5L728.1 235.8L727.5 234.1L726.8 232.4L725.9 230.6L724.8 228.8L723.5 226.9L722.1 225L720.6 223.1L719.1 221.3L717.6 219.6L716.1 218L714.5 216.5L712.8 215.1L711.2 213.8L709.5 212.6L708 211.6L706.5 210.6L704.9 209.8L703.3 209.1L702 208.6L700.8 208.1L700 207.7Z" fill="#2a0410" stroke="#2a0410" stroke-width="0.3" stroke-linejoin="round" />
<path d="M719.4 202.2L720.5 203L721.9 204.1L723.6 205.4L725.4 206.9L727.2 208.4L728.7 209.9L730.1 211.5L731.5 213.3L732.9 215.1L734.2 217L735.4 218.9L736.4 220.7L737.4 222.6L738.2 224.4L739 226.3L739.7 228.1L740.3 229.9L740.8 231.6L741.3 233.2L741.7 234.7L742 236.2L742.2 237.6L742.3 239L742.3 240.5L742.1 242.1L741.7 243.8L741.2 245.6L740.6 247.4L739.9 249.3L739.2 251.1L738.5 253L737.7 254.8L736.9 256.7L736 258.6L735.2 260.4L734.5 262.1L733.9 263.7L733.4 265.3L732.9 266.8L732.5 268.2L732.2 269.4L731.9 270.2L733.5 270.8L733.9 270L734.4 269L735.1 267.7L735.8 266.3L736.5 264.8L737.2 263.2L737.9 261.6L738.7 259.8L739.6 257.9L740.4 256L741.2 254L741.9 252.1L742.6 250.3L743.3 248.4L743.9 246.5L744.5 244.5L744.9 242.6L745.2 240.7L745.2 239L745.1 237.3L744.9 235.6L744.5 234L744 232.4L743.5 230.8L742.9 229L742.2 227.1L741.4 225.3L740.5 223.4L739.5 221.5L738.4 219.6L737.3 217.7L736 215.8L734.7 213.8L733.3 211.9L731.9 210.1L730.4 208.4L728.8 206.7L726.9 205.1L725.1 203.6L723.3 202.3L721.9 201.2L720.8 200.4Z" fill="#2a0410" stroke="#2a0410" stroke-width="0.3" stroke-linejoin="round" />
<path d="M686.8 255.3L687.2 255.7L687.7 256.4L688.4 257.1L689.2 257.9L690.1 258.8L691 259.5L692 260.1L693 260.8L694.1 261.4L695.4 262L696.7 262.4L698.2 262.6L699.8 262.2L701.1 261.4L702 260.6L702.6 260L702.8 259.7L702.3 259.6L702.1 259.4L702.2 259.7L702.4 260.3L702.6 261L702.7 261.8L702.7 262.5L702.6 263.2L702.3 264.1L702 265.2L701.5 266.3L701.1 267.3L700.7 268.4L700.4 269.3L700.1 270.3L699.8 271.2L699.5 272.1L699.2 272.8L699.1 273.3L700.3 274L700.6 273.5L701.1 272.9L701.6 272.2L702.2 271.3L702.8 270.4L703.3 269.5L703.9 268.6L704.4 267.6L705 266.4L705.5 265.2L705.9 264L706.1 262.8L706.1 261.6L706 260.4L705.7 259.2L705.2 258.2L704.6 257.1L703.3 256.3L701.7 256.3L700.5 256.8L699.5 257.3L698.7 257.8L698.2 258L698 258L697.6 257.9L696.8 257.8L695.8 257.5L694.7 257.1L693.6 256.8L692.6 256.4L691.7 256.1L690.7 255.7L689.7 255.3L688.8 254.9L688 254.6L687.4 254.3Z" fill="#2a0410" stroke="#2a0410" stroke-width="0.3" stroke-linejoin="round" />
<path d="M661.3 248.6L661.4 249.6L661.5 251.1L661.6 252.8L661.6 254.6L661.6 256.4L661.6 257.9L661.4 259.3L661.3 260.6L661.1 261.9L660.8 263.2L660.5 264.3L660.1 265.3L659.6 266.2L659.1 266.9L658.5 267.6L657.8 268.2L657.1 268.8L656.3 269.4L655.5 269.9L654.7 270.4L653.8 270.9L652.7 271.3L651.6 271.8L650.4 272.3L649 272.9L647.5 273.4L645.8 274L644.2 274.5L642.6 275L641.1 275.4L639.6 275.8L638.2 276.1L636.7 276.4L635.3 276.6L634.2 276.8L633.3 277L633.9 279.8L634.7 279.6L635.8 279.4L637.2 279.2L638.7 278.9L640.3 278.6L641.8 278.2L643.4 277.8L645 277.2L646.7 276.7L648.4 276.1L650 275.6L651.4 275L652.7 274.5L653.9 274L655 273.5L656.1 273L657.1 272.4L658.1 271.7L658.9 270.9L659.7 270.1L660.4 269.3L661.1 268.4L661.7 267.4L662.2 266.3L662.6 265.1L663 263.8L663.4 262.4L663.6 261L663.8 259.5L663.9 258L663.8 256.3L663.6 254.5L663.3 252.6L662.9 250.9L662.7 249.5L662.5 248.4Z" fill="#2a0410" stroke="#2a0410" stroke-width="0.3" stroke-linejoin="round" />
<path d="M689.1 242.4L689.1 243.1L689.2 244L689.2 245.2L689.4 246.6L689.7 248L690.3 249.4L691.2 250.6L692.1 251.8L693.2 252.9L694.4 254L695.8 255L697.2 255.8L698.8 256.5L700.4 257L702.2 257.4L703.9 257.7L705.7 257.9L707.4 258.1L709.1 258.1L710.9 258L712.6 257.8L714.3 257.6L715.8 257.3L717.3 257L718.5 256.7L719.7 256.3L720.9 256L722 255.5L723 254.9L724 254.1L725 253L725.8 251.7L726.5 250.4L727.1 249.1L727.6 248.1L728 247.3L726.5 246.5L726 247.2L725.4 248.3L724.8 249.4L724 250.6L723.3 251.6L722.5 252.4L721.8 252.8L720.9 253.2L720.1 253.5L719.1 253.7L717.9 254L716.7 254.2L715.3 254.4L713.9 254.5L712.3 254.7L710.7 254.8L709.2 254.7L707.7 254.6L706.2 254.4L704.6 254.1L703.1 253.7L701.6 253.3L700.2 252.7L699 252.2L697.9 251.6L696.8 250.9L695.7 250.1L694.8 249.2L693.9 248.4L693.3 247.6L692.8 246.8L692.4 245.8L692 244.8L691.8 243.7L691.6 242.7L691.4 242Z" fill="#2a0410" stroke="#2a0410" stroke-width="0.3" stroke-linejoin="round" />
<path d="M663.9 226.5L662.8 227L661.3 227.7L659.5 228.6L657.5 229.6L655.6 230.5L653.8 231.5L652.1 232.4L650.4 233.4L648.7 234.4L647.1 235.3L645.6 236.2L644.3 237L643.2 237.6L642.1 238.1L641.2 238.5L640.3 238.9L639.6 239.5L639.1 240.4L639 241.5L639.3 242.6L639.8 243.6L640.3 244.5L640.9 245.3L641.2 245.9L641.6 246.5L642 247.1L642.4 247.6L642.8 248L643.2 248.4L643.4 248.7L644.2 248.3L644.2 247.9L644.1 247.4L643.9 246.8L643.8 246.2L643.5 245.5L643.3 244.8L642.8 244L642.2 243.2L641.6 242.4L641.1 241.7L640.8 241.2L640.7 240.8L640.8 240.5L641.2 240.2L641.8 239.7L642.7 239.2L643.8 238.7L644.9 238L646.2 237.2L647.7 236.3L649.3 235.3L650.9 234.3L652.6 233.4L654.3 232.5L656.1 231.6L658.1 230.8L660 229.9L661.9 229.2L663.5 228.5L664.6 228Z" fill="#2a0410" stroke="#2a0410" stroke-width="0.3" stroke-linejoin="round" />
<path d="M610.6 231.7L611.7 231.2L613 230.5L614.7 229.7L616.5 228.8L618.3 227.8L620.1 227L621.8 226.2L623.6 225.3L625.5 224.5L627.4 223.6L629.4 222.7L631.3 221.6L633.3 220.5L635.2 219.3L637.1 218L639 216.7L640.9 215.4L642.8 214.2L644.7 212.9L646.7 211.7L648.7 210.4L650.6 209.1L652.5 207.9L654.1 206.8L655.6 205.7L657 204.6L658.2 203.6L659.3 202.6L660.4 201.8L661.5 200.9L662.8 200.1L664.2 199.2L665.6 198.4L667 197.7L668.1 197L669 196.6L667.5 193.4L666.6 193.8L665.4 194.3L663.9 194.8L662.3 195.5L660.7 196.2L659.2 197L657.8 197.7L656.4 198.5L655.1 199.3L653.7 200.1L652.3 201.1L650.8 202.1L649.2 203.3L647.4 204.6L645.6 206.1L643.8 207.5L641.9 209L640.1 210.4L638.3 211.9L636.5 213.3L634.8 214.8L633 216.2L631.3 217.5L629.6 218.7L627.8 219.8L626 220.8L624.2 221.7L622.4 222.6L620.6 223.5L618.8 224.4L617 225.3L615.2 226.2L613.4 227.1L611.8 227.9L610.4 228.6L609.4 229.1Z" fill="#2a0410" stroke="#2a0410" stroke-width="0.3" stroke-linejoin="round" />
<path d="M741.5 249.5L740.9 250.5L740.1 251.8L739.2 253.4L738.2 255.2L737.3 257.1L736.4 258.9L735.7 260.7L734.9 262.7L734.2 264.6L733.5 266.6L732.9 268.4L732.5 270L732.1 271.5L731.9 272.8L731.8 274L731.7 275.1L731.6 275.9L731.6 276.6L732.9 276.9L733.2 276.3L733.5 275.5L733.8 274.5L734.2 273.4L734.7 272.2L735.2 270.9L735.7 269.3L736.4 267.6L737 265.6L737.7 263.7L738.4 261.8L739.1 260L739.8 258.3L740.7 256.4L741.5 254.6L742.3 253L743 251.6L743.5 250.5Z" fill="#2a0410" stroke="#2a0410" stroke-width="0.3" stroke-linejoin="round" />
<path d="M758.7 252.7L758.2 253.9L757.5 255.5L756.6 257.4L755.7 259.4L754.7 261.5L753.8 263.5L752.8 265.6L751.7 267.7L750.5 269.9L749.4 272.1L748.4 274.2L747.4 276.2L746.7 278.1L746.2 279.8L745.7 281.5L745.3 283L744.8 284.3L744.3 285.5L743.7 286.7L742.9 287.9L742.1 289.1L741.2 290.2L740.5 291.1L740 291.7L741.8 293.2L742.3 292.6L743.1 291.8L744.1 290.7L745.1 289.6L746.1 288.2L746.9 286.8L747.6 285.3L748.1 283.8L748.5 282.2L748.9 280.7L749.4 279L750.1 277.3L751 275.4L752 273.4L753.1 271.2L754.3 269L755.4 266.9L756.4 264.8L757.3 262.7L758.2 260.5L759 258.4L759.8 256.4L760.4 254.8L760.8 253.6Z" fill="#2a0410" stroke="#2a0410" stroke-width="0.3" stroke-linejoin="round" />
<path d="M773.4 267.5L773.5 268.2L773.7 269.2L774 270.4L774.2 271.6L774.3 272.7L774.4 273.6L774.3 274.3L774.2 275.2L774.1 276L773.8 276.9L773.6 277.6L773.5 278.1L774.4 278.5L774.7 278L775.1 277.4L775.6 276.7L776.1 275.8L776.5 274.7L776.7 273.6L776.5 272.4L776.2 271.1L775.7 269.9L775.2 268.8L774.8 267.8L774.5 267.1Z" fill="#2a0410" stroke="#2a0410" stroke-width="0.3" stroke-linejoin="round" />
<path d="M713.7 294.2L713.7 294.5L713.6 295.1L713.5 295.7L713.5 296.3L713.5 297L713.6 297.5L713.7 298.1L714 298.7L714.4 299.2L714.7 299.7L715 300.2L715.2 300.5L716.3 300.2L716.3 299.8L716.4 299.3L716.4 298.7L716.5 298.1L716.4 297.4L716.3 296.8L716.1 296.3L715.8 295.7L715.5 295.2L715.1 294.7L714.8 294.3L714.6 293.9Z" fill="#2a0410" stroke="#2a0410" stroke-width="0.3" stroke-linejoin="round" />
<path d="M723.8 200.5L723.2 200.9L722.4 201.5L721.5 202.2L720.5 202.8L719.7 203.4L719 203.8L718.5 204L717.9 204.2L717.3 204.4L716.6 204.5L716.1 204.6L715.6 204.7L715.9 207L716.3 207L716.8 207L717.6 207L718.4 207L719.4 206.7L720.4 206.3L721.3 205.7L722.2 204.8L723.1 203.9L723.8 203L724.5 202.3L725 201.8Z" fill="#2a0410" stroke="#2a0410" stroke-width="0.3" stroke-linejoin="round" />
<path d="M613.7 239.6L613.2 240.5L612.6 241.9L611.8 243.5L611 245.3L610.2 247.1L609.5 248.9L608.7 250.7L608 252.5L607.3 254.3L606.5 256.2L605.9 258.1L605.2 259.9L604.7 261.8L604.1 263.7L603.6 265.6L603.2 267.5L602.8 269.3L602.3 271.1L601.9 272.7L601.4 274.3L601 275.9L600.6 277.5L600.3 279.2L600.2 280.9L600.4 282.8L600.8 284.7L601.3 286.5L601.9 288.3L602.3 289.7L602.6 290.7L604.8 290L604.5 289L604 287.5L603.5 285.9L603 284.1L602.6 282.4L602.5 280.9L602.6 279.5L603 278.1L603.4 276.7L604 275.1L604.6 273.5L605.1 271.9L605.6 270.1L606.2 268.3L606.8 266.5L607.3 264.6L607.9 262.8L608.5 261L609.1 259.1L609.7 257.3L610.3 255.4L610.9 253.5L611.5 251.7L612.1 250L612.8 248.2L613.5 246.3L614.2 244.5L614.8 242.9L615.4 241.5L615.8 240.4Z" fill="#2a0410" stroke="#2a0410" stroke-width="0.3" stroke-linejoin="round" />
<path d="M565.8 259.9L566.1 260.4L566.5 261.2L567 262.2L567.5 263.2L568.1 264.1L568.7 264.8L569.3 265.4L570 265.9L570.8 266.4L571.5 266.8L572.2 267.2L572.6 267.4L573.5 266.7L573.3 266.2L573 265.5L572.6 264.7L572.2 263.9L571.7 263.1L571.1 262.4L570.4 261.8L569.5 261.2L568.5 260.7L567.5 260.2L566.7 259.8L566.2 259.5Z" fill="#2a0410" stroke="#2a0410" stroke-width="0.3" stroke-linejoin="round" />
<path d="M635.4 204.8L641.7 193.8L659.8 188.3L651.9 193.8L644.1 199.3Z" fill="#fff"/>
<path d="M736.1 216.6L741.6 215.9L747.1 226.1L744 229.2L740 222.9Z" fill="#fff"/>
<path d="M626 266C628.2 266.6 635.3 270.3 639.3 269.9C643.4 269.5 648.5 264.6 650.3 263.6" fill="none" stroke="#ffffff" stroke-width="2" stroke-linecap="round" stroke-linejoin="round" />
<path d="M670.8 275.4C672.1 276.4 675 280.5 678.7 281.7C682.3 282.9 690.5 282.3 692.8 282.5" fill="none" stroke="#ffffff" stroke-width="1.8" stroke-linecap="round" stroke-linejoin="round" />
<path d="M747.9 291.9C748.5 290.1 750.9 283.3 751.8 280.9C752.7 278.5 753.1 278.3 753.4 277.8" fill="none" stroke="#ffffff" stroke-width="1.4" stroke-linecap="round" stroke-linejoin="round" />
<path d="M752.7 278.3C752 280.4 749.4 288.8 748.8 290.9" fill="none" stroke="#ffffff" stroke-width="1.4" stroke-linecap="round" stroke-linejoin="round" />
<path d="M567.5 285.6C568.1 288 569.4 295.6 570.7 299.8C572 304 574.6 309 575.4 310.8" fill="none" stroke="#ffffff" stroke-width="2.2" stroke-linecap="round" stroke-linejoin="round" />
<path d="M450 396C451.1 393 453 385 456.3 381.9C459.6 378.8 466.1 379.3 470 377.2C473.9 375.1 475.5 371.9 479.4 369.3C483.3 366.7 488.6 363.9 493.6 361.5C498.6 359.1 504.1 357.2 509.3 355.2C514.5 353.2 519.9 351.5 525.1 349.7C530.4 347.9 535.6 346 540.8 344.2C546 342.4 551.5 340.4 556.5 338.7C561.5 337 566.8 334.9 570.7 333.9C574.6 332.8 577.6 332.5 580.1 332.4C582.6 332.2 584.4 333.7 586 333C587.6 332.3 588.2 330.9 589.6 328C591 325.1 591.9 319.1 594.3 315.5C596.6 311.9 600 309 603.7 306.1C607.4 303.2 611.9 300.3 616.3 298.2C620.7 296.1 626.1 294 630 293.5C633.9 293 636.8 293.4 639.4 295C642 296.6 642 301.6 645.7 302.9C649.4 304.2 656.8 301.8 661.5 302.9C666.2 303.9 669.8 307.1 674 309.2C678.2 311.3 683.5 313.4 686.6 315.5C689.8 317.6 690.7 320.1 692.9 321.8C695.1 323.6 697.4 323.9 700 326C702.6 328.1 706.7 331.4 708.7 334.7C710.7 338 711.4 341.2 711.8 345.7C712.2 350.2 711.3 356.8 711 361.5C710.7 366.2 710.2 370.1 710.2 374C710.2 377.9 711.2 381.1 711 385C710.8 388.9 709.9 394.5 708.7 397.7C707.5 400.9 705.6 402.7 704 404C702.4 405.3 703.7 404.7 699.2 405.5C694.7 406.3 684.8 407.1 677.2 408.7C669.6 410.3 659.8 412.8 653.6 415C647.4 417.2 647.8 418.5 640 422C632.2 425.5 615.3 432.2 607 436C598.7 439.8 595.3 442.3 590 445C584.7 447.7 580.1 450.4 575 452C569.9 453.6 562.7 453.8 559.6 454.3C556.5 454.8 558.8 454.5 556.4 455.1C554 455.8 548.5 457 545.4 458.2C542.2 459.4 541.4 461.8 537.5 462.1C533.6 462.4 526.8 461 521.8 459.8C516.8 458.6 512.7 456.7 507.7 455.1C502.7 453.5 496.9 452.7 491.9 450.3C486.9 447.9 482 443.6 477.8 440.9C473.6 438.1 470.4 435.9 466.7 433.8C463 431.7 458 430.8 455.7 428.3C453.4 425.8 453.8 422 452.6 418.9C451.4 415.8 449.2 412.5 448.7 409.4C448.2 406.2 449.2 402.2 449.4 400C449.6 397.8 448.9 399 450 396Z" fill="url(#gpl)" stroke="#8c2080" stroke-width="0.8"/>
<g clip-path="url(#pcl)">
<ellipse cx="620" cy="428" rx="28" ry="9" fill="#9c2c8c" opacity="0.7"/>
<ellipse cx="660" cy="385" rx="40" ry="14" fill="#b8389f" opacity="0.6"/>
<ellipse cx="690" cy="360" rx="18" ry="30" fill="#b8389f" opacity="0.5"/>
<ellipse cx="505" cy="445" rx="18" ry="6" fill="#eaa6de" opacity="0.8"/>
<ellipse cx="520" cy="375" rx="30" ry="10" fill="#e88ad8" opacity="0.6"/>
<ellipse cx="560" cy="360" rx="25" ry="9" fill="#e88ad8" opacity="0.5"/>
<ellipse cx="490" cy="415" rx="14" ry="9" fill="#ee9ae0" opacity="0.7"/>
<ellipse cx="540" cy="415" rx="22" ry="9" fill="#e484d4" opacity="0.6"/>
<ellipse cx="610" cy="340" rx="18" ry="12" fill="#e88ad8" opacity="0.6"/>
<ellipse cx="650" cy="330" rx="14" ry="10" fill="#e88ad8" opacity="0.5"/>
<ellipse cx="585" cy="395" rx="22" ry="8" fill="#e080d0" opacity="0.5"/>
<ellipse cx="690" cy="352" rx="10" ry="10" fill="#f09ad8" opacity="0.7"/>
</g>
<path d="M499.4 393.8L499.9 393.3L500.5 392.5L501.3 391.6L502.1 390.7L502.8 389.9L503.2 389.2L503.5 388.6L503.7 387.9L503.9 387.2L504 386.5L504.1 385.9L504.2 385.4L503.4 384.7L503 384.9L502.4 385.1L501.7 385.4L501 385.9L500.3 386.5L499.7 387.2L499.3 388.2L499.1 389.4L499 390.7L498.9 391.9L498.8 392.9L498.8 393.6Z" fill="#2a0410" stroke="#2a0410" stroke-width="0.3" stroke-linejoin="round" />
<path d="M509.6 396.6L510.2 396.4L511 396.1L512 395.7L513 395.3L513.8 394.9L514.4 394.6L514.7 394.3L515 393.9L515.3 393.5L515.6 393L515.9 392.6L516.1 392.3L515.8 391.3L515.4 391.2L515 391L514.4 390.8L513.7 390.8L512.9 390.9L512.1 391.3L511.4 391.9L510.8 392.8L510.3 393.8L509.8 394.8L509.4 395.6L509.1 396.1Z" fill="#2a0410" stroke="#2a0410" stroke-width="0.3" stroke-linejoin="round" />
<path d="M523.9 382.5L524.6 382.2L525.5 381.8L526.5 381.4L527.5 381.1L528.3 381L528.6 381.1L528.5 381.3L528.7 381.5L529.2 381.9L530.2 382.5L531.5 383L533.2 383L534.5 382.6L535.5 381.9L536.4 381.1L537.2 380.1L537.9 379.1L538.7 378.1L539.5 376.8L540.3 375.3L541.1 373.8L541.9 372.3L542.7 370.9L543.3 369.8L543.7 369L544 368.4L544.2 368L544.5 367.6L544.7 367.3L545.1 366.9L545.7 366.2L546.3 365.6L547 364.9L547.7 364.3L548.4 363.8L549 363.4L549.5 363.1L550.1 362.8L550.8 362.5L551.6 362L552.5 361.5L553.5 360.8L554.5 360.1L555.6 359.3L556.7 358.5L557.8 357.6L558.9 356.6L559.9 355.6L560.7 354.6L561.5 353.4L562.2 352.2L562.7 351.1L563.2 350.2L563.6 349.6L562.1 348.2L561.4 348.6L560.6 349.1L559.5 349.7L558.4 350.3L557.3 351L556.3 351.6L555.4 352.2L554.3 352.9L553.2 353.6L552.1 354.4L551 355.2L550.1 355.8L549.3 356.4L548.5 356.8L547.7 357.3L546.9 357.9L546 358.7L545.2 359.6L544.5 360.6L544 361.7L543.6 362.8L543.3 363.8L543 364.7L542.8 365.5L542.5 366.2L542.4 366.7L542.3 367.1L542.1 367.6L541.9 368.1L541.5 368.8L540.9 369.9L540.1 371.3L539.3 372.7L538.4 374.2L537.5 375.4L536.6 376.3L535.8 377L534.9 377.4L534.1 377.6L533.5 377.7L532.9 377.7L532.7 377.7L532.7 377.6L532.5 377.5L531.9 377.2L530.9 376.7L529.5 376.4L527.9 376.4L526.5 377.1L525.5 378L524.6 379.1L524 380L523.5 380.8L523.1 381.4Z" fill="#2a0410" stroke="#2a0410" stroke-width="0.3" stroke-linejoin="round" />
<path d="M524.3 381.1C524.8 380.2 530.4 378.6 532.9 378C535.4 377.3 537.4 376 539.2 377.2C541.1 378.4 542.4 382.6 543.9 385.1C545.5 387.6 547 389.7 548.7 392.1C550.4 394.6 553.6 398.8 554.2 400C554.7 401.2 553.5 400.4 551.8 399.2C550.1 398 546.6 395 543.9 392.9C541.3 390.8 538.4 388.2 536.1 386.6C533.7 385.1 531.8 384.4 529.8 383.5C527.8 382.6 523.8 382 524.3 381.1Z" fill="#2a0410"/>
<path d="M582.6 332.6L582.8 333.4L582.9 334.6L583.1 336L583.3 337.4L583.5 338.8L583.7 340L583.9 341.1L584.2 342.2L584.4 343.1L584.6 343.7L584.6 343.9L585 343.5L585.1 343.6L584.4 344L583.3 344.4L582 344.7L580.9 345L580.1 345.2L580.1 346.3L580.9 346.4L582 346.7L583.4 347L584.8 347.2L586.3 347.1L587.9 346.4L588.8 344.8L588.9 343.3L588.7 342.1L588.4 340.9L588 339.9L587.6 338.9L587.1 337.7L586.4 336.4L585.7 335.1L585 333.9L584.3 332.9L583.9 332.1Z" fill="#2a0410" stroke="#2a0410" stroke-width="0.3" stroke-linejoin="round" />
<path d="M615.5 364.9L615.9 365.5L616.5 366.3L617.1 367.3L617.8 368.3L618.4 369.2L618.7 369.7L618.8 369.9L619.1 370.6L619.6 371.5L620.2 372.6L621.9 374.1L624.9 373.5L625.9 372L626.5 370.3L627 368.4L627.6 366.5L628.1 364.8L628.5 363.7L628.8 363.3L629.1 363L629.3 362.9L629.6 362.9L630 362.9L630.4 362.7L629.6 360.2L629.4 360.2L629.1 360.3L628.5 360.5L627.7 360.8L627 361.4L626.2 362.3L625.4 363.6L624.5 365.3L623.7 367L622.8 368.7L622.1 369.8L621.9 369.9L624 369.5L625 370L625 369.5L624.8 368.5L624.3 367.2L623.4 365.8L622.3 364.9L621.1 364.3L619.9 363.8L618.8 363.4L617.8 363L617.2 362.8Z" fill="#2a0410" stroke="#2a0410" stroke-width="0.3" stroke-linejoin="round" />
<path d="M578.9 389.5L579.5 389.4L580.3 389.3L581.2 389.2L582.3 389L583.4 388.8L584.3 388.4L585.2 387.9L585.9 387.3L586.5 386.7L587 386.1L587.5 385.4L588.1 384.7L588.7 383.7L589.2 382.6L589.7 381.7L590.1 380.9L590.3 380.6L590 380.7L589.6 380.7L589.9 380.8L590.5 381.2L591.4 381.9L592.4 382.7L593.4 383.3L594.4 383.9L595.4 384.5L596.4 385.2L597.5 385.8L598.6 386.4L599.8 386.9L601.1 387.5L602.4 388L603.7 388.5L605 388.9L606.5 389.3L607.9 389.7L609.4 390.1L611 390.4L612.5 390.6L614.1 390.9L615.8 391.1L617.6 391.3L619.6 391.6L621.9 391.9L624.2 392.2L626.5 392.5L628.4 392.7L629.7 392.9L630.3 388.2L628.9 388.1L627.1 387.8L624.8 387.5L622.5 387.2L620.2 386.9L618.2 386.7L616.5 386.4L614.8 386.2L613.3 385.9L611.8 385.7L610.4 385.4L609 385.1L607.6 384.8L606.3 384.5L605 384.2L603.7 383.9L602.5 383.5L601.3 383.2L600.2 382.8L599.1 382.4L598.1 381.9L597 381.5L596.1 381L595.2 380.5L594.4 379.9L593.7 379.2L592.9 378.5L592 377.7L590.9 377L589.1 376.8L587.6 377.6L586.7 378.7L586.1 379.8L585.6 380.8L585.2 381.7L584.8 382.3L584.3 382.8L583.9 383.4L583.4 383.8L583 384.2L582.6 384.6L582.2 384.9L581.7 385.3L581 385.8L580.2 386.3L579.4 386.8L578.7 387.3L578.2 387.6Z" fill="#2a0410" stroke="#2a0410" stroke-width="0.3" stroke-linejoin="round" />
<path d="M581.3 387.2L581.5 387.9L581.7 388.8L581.9 389.9L582.1 391L582.3 392.2L582.5 393.3L582.7 394.3L582.8 395.5L582.9 396.9L583.1 398.3L583.3 399.8L583.7 401.3L584.1 402.8L584.7 404.4L585.3 406L586 407.5L586.8 409L587.8 410.3L589 411.3L590.2 412.2L591.5 412.8L592.8 413.3L594.2 413.6L595.6 413.8L597.2 413.8L598.8 413.4L600.4 413L601.8 412.5L603 412.1L603.8 411.8L603.6 410.2L602.7 410.2L601.4 410.2L600 410.2L598.5 410.2L597.2 410L596.1 409.8L595.2 409.5L594.3 409.1L593.5 408.7L592.7 408.2L592 407.7L591.3 407.1L590.6 406.3L589.9 405.3L589.2 404.1L588.6 402.8L588 401.5L587.6 400.3L587.3 399.1L587.3 397.9L587.3 396.7L587.3 395.3L587.3 394L587.2 392.6L586.9 391.2L586.5 389.9L586.2 388.7L585.8 387.6L585.4 386.7L585.2 386.1Z" fill="#2a0410" stroke="#2a0410" stroke-width="0.3" stroke-linejoin="round" />
<path d="M579.7 422L580.2 421.4L581 420.5L581.9 419.4L582.8 418.3L583.8 417.3L584.8 416.3L585.8 415.5L586.9 414.5L588.2 413.5L589.3 412.6L590.3 411.8L591.1 411.3L588 407.6L587.4 408.2L586.4 409.1L585.3 410.1L584.1 411.2L582.9 412.4L581.8 413.6L580.9 414.8L580 416.1L579.2 417.5L578.5 418.7L577.9 419.7L577.5 420.5Z" fill="#2a0410" stroke="#2a0410" stroke-width="0.3" stroke-linejoin="round" />
<path d="M551.9 417.5L553.2 417.5L555.1 417.4L557.4 417.3L559.8 417.3L562.2 417.2L564.5 417.1L566.7 417L569.1 416.8L571.4 416.6L573.6 416.5L575.4 416.5L576.7 416.6L577.4 416.8L577.7 417.1L577.9 417.4L578.1 417.8L578.4 418.5L578.7 419L581.6 417.2L581.4 417L581.2 416.4L580.8 415.6L580 414.6L578.8 413.7L577.3 413.3L575.4 413.2L573.4 413.3L571.1 413.6L568.8 413.9L566.5 414.2L564.3 414.4L562.1 414.6L559.7 414.8L557.2 415L555 415.2L553.1 415.4L551.7 415.5Z" fill="#2a0410" stroke="#2a0410" stroke-width="0.3" stroke-linejoin="round" />
<path d="M507.4 421.9L507.8 421.3L508.3 420.5L509 419.5L509.7 418.5L510.4 417.5L510.8 416.5L511.1 415.6L511.3 414.7L511.4 413.8L511.4 413.1L511.4 412.5L511.4 412L510.4 411.6L510.1 412L509.7 412.5L509.3 413L508.8 413.7L508.3 414.3L507.8 415L507.4 415.8L506.8 416.8L506.3 417.9L505.8 419L505.3 419.9L505 420.6Z" fill="#2a0410" stroke="#2a0410" stroke-width="0.3" stroke-linejoin="round" />
<path d="M629.4 361L630 361.2L631 361.6L632.1 362L633.5 362.4L634.9 362.7L636.3 362.7L637.6 362.5L638.9 362.3L640.1 361.8L641.4 361.3L642.6 360.5L643.8 359.5L644.8 358.3L645.7 356.9L646.6 355.4L647.4 353.9L648.1 352.5L648.8 351.2L649.5 350L650 348.7L650.5 347.7L651 346.8L651.4 346.1L651.9 345.6L652.4 345.2L653.1 344.8L653.9 344.5L654.8 344.2L655.8 344L656.9 343.8L658.2 343.7L659.7 343.7L661.4 343.8L663 343.9L664.6 344.1L665.8 344.2L666.8 344.4L667.6 344.7L668.5 345L669.2 345.3L669.9 345.6L670.4 345.8L671.4 344.1L671 343.8L670.5 343.3L669.8 342.7L668.9 342L667.8 341.4L666.6 340.9L665.1 340.6L663.5 340.3L661.7 340L659.9 339.8L658.2 339.7L656.6 339.8L655.1 339.9L653.8 340.2L652.5 340.6L651.3 341.1L650.1 341.8L649 342.7L648.1 343.8L647.5 345.1L647.1 346.3L646.7 347.4L646.3 348.6L645.8 349.7L645.1 351L644.4 352.4L643.7 353.8L642.9 355.2L642.2 356.3L641.4 357.1L640.7 357.6L639.8 358.1L638.9 358.3L638 358.5L637.1 358.6L636.2 358.7L635.4 358.6L634.4 358.4L633.4 358.1L632.3 357.7L631.3 357.4L630.6 357.2Z" fill="#2a0410" stroke="#2a0410" stroke-width="0.3" stroke-linejoin="round" />
<path d="M650 341.1L651.2 341.4L652.8 341.9L654.7 342.5L656.9 343L659.1 343.5L661.3 343.8L663.4 343.9L665.6 344L667.9 343.9L670.1 343.7L672.4 343.4L674.5 343L676.6 342.3L678.7 341.5L680.7 340.6L682.6 339.6L684.3 338.7L685.9 337.8L687.3 336.8L688.7 335.8L689.8 334.8L690.8 333.9L691.6 333.1L692.2 332.6L690.5 330.5L689.8 331L689 331.7L688 332.5L686.8 333.3L685.6 334.1L684.2 334.8L682.7 335.6L681 336.4L679.2 337.2L677.3 337.9L675.4 338.6L673.6 339L671.7 339.4L669.7 339.6L667.6 339.8L665.6 339.9L663.5 339.8L661.6 339.8L659.7 339.6L657.7 339.3L655.6 338.9L653.7 338.4L652.1 338.1L650.9 337.8Z" fill="#2a0410" stroke="#2a0410" stroke-width="0.3" stroke-linejoin="round" />
<path d="M645.1 363.9L645 364.8L644.8 366.1L644.7 367.6L644.7 369.3L645 371L646.3 372.6L648.3 373.1L649.9 372.8L651.3 372.2L652.6 371.6L653.9 371.1L655.1 371L656.5 371.3L658.2 371.7L660 372.3L661.9 373L663.8 373.7L665.5 374.4L667.1 375L668.8 375.7L670.4 376.4L671.9 377.1L673.4 377.8L674.9 378.3L676.3 378.7L677.6 379L678.9 379.2L680 379.3L680.9 379.4L681.6 379.5L682.2 378L681.6 377.6L680.8 377.1L679.9 376.5L678.8 375.8L677.6 375.2L676.4 374.5L675.1 373.9L673.6 373.2L672 372.5L670.4 371.9L668.6 371.2L666.9 370.6L665.1 370L663.1 369.4L661.1 368.8L659.1 368.3L657.2 367.9L655.3 367.6L653.3 367.7L651.5 368.1L650 368.6L648.8 368.9L648.2 369L648.4 369.2L648.3 369.3L647.9 368.5L647.4 367.3L647 365.9L646.7 364.6L646.4 363.7Z" fill="#2a0410" stroke="#2a0410" stroke-width="0.3" stroke-linejoin="round" />
<path d="M675.4 359L676.1 359.3L677 359.8L678.2 360.3L679.4 360.9L680.6 361.3L681.8 361.6L682.8 361.6L683.9 361.6L685 361.5L686 361.2L686.9 360.7L687.8 359.8L687.9 358.5L687.5 357.5L687 356.7L686.4 355.9L685.9 355.3L685.5 354.9L684.6 355.4L684.8 355.9L685 356.7L685.3 357.5L685.5 358.3L685.5 358.7L685.5 358.4L685.5 358.2L685.2 358.2L684.6 358.2L683.8 358.2L682.9 358.2L682.1 358.2L681.2 358.2L680 358.1L678.8 358L677.6 357.9L676.6 357.7L675.8 357.7Z" fill="#2a0410" stroke="#2a0410" stroke-width="0.3" stroke-linejoin="round" />
<path d="M629.4 392.9L630.4 393.1L631.7 393.5L633.3 393.9L635.1 394.3L637 394.8L638.9 395.2L640.8 395.7L642.9 396.1L645 396.5L647.2 397L649.4 397.3L651.7 397.6L654.1 397.8L656.5 398L658.9 398L661.3 398.1L663.7 398.1L666.1 398.1L668.6 398.1L671 398.1L673.4 398.1L675.8 398.1L678.1 398.1L680.3 398.1L682.5 398.2L684.8 398.3L687 398.4L689.1 398.6L691 398.7L692.7 398.9L694.1 399L695.3 399.3L696.3 399.5L697.3 399.7L698.1 399.9L698.7 400.1L699.7 396.8L699.1 396.6L698.4 396.3L697.4 395.9L696.2 395.5L694.8 395.1L693.2 394.9L691.4 394.6L689.4 394.5L687.3 394.3L685 394.2L682.7 394.1L680.4 394.1L678.1 394L675.7 394L673.3 394.1L670.9 394.1L668.6 394.1L666.2 394.1L663.9 393.9L661.5 393.8L659.1 393.6L656.8 393.4L654.5 393.2L652.3 392.9L650.2 392.6L648 392.3L645.9 391.9L643.8 391.5L641.8 391L639.9 390.6L638.1 390.2L636.3 389.8L634.5 389.3L632.9 388.9L631.6 388.5L630.6 388.3Z" fill="#2a0410" stroke="#2a0410" stroke-width="0.3" stroke-linejoin="round" />
<path d="M650.2 396.7L649.9 397.4L649.4 398.3L648.8 399.4L648.2 400.6L647.6 401.9L647 403.1L646.5 404.3L646 405.6L645.4 406.9L644.9 408.3L644.4 409.7L643.8 411.1L643.3 412.7L642.6 414.5L642 416.4L641.5 418.1L641 419.6L640.7 420.6L644.5 421.9L644.9 420.8L645.3 419.4L645.9 417.7L646.5 415.8L647.1 414.1L647.6 412.5L648.2 411.1L648.7 409.7L649.2 408.4L649.7 407.2L650.2 405.9L650.7 404.8L651.3 403.6L651.9 402.4L652.5 401.2L653 400.2L653.5 399.2L653.8 398.6Z" fill="#2a0410" stroke="#2a0410" stroke-width="0.3" stroke-linejoin="round" />
<path d="M703.1 372.4L703 373.4L702.8 374.8L702.6 376.4L702.4 378.2L702.1 380L701.8 381.7L701.5 383.5L701.1 385.4L700.6 387.3L700.1 389.2L699.7 390.9L699.2 392.4L698.7 393.7L698.2 394.9L697.6 395.9L697 396.9L696.5 397.7L696.2 398.4L699.1 400L699.5 399.4L700 398.6L700.6 397.6L701.2 396.4L701.9 395L702.4 393.5L702.9 391.8L703.3 389.9L703.6 387.9L704 385.9L704.3 384L704.5 382.1L704.6 380.3L704.7 378.4L704.8 376.6L704.8 374.9L704.7 373.5L704.8 372.5Z" fill="#2a0410" stroke="#2a0410" stroke-width="0.3" stroke-linejoin="round" />
<path d="M628.6 416L629.2 416.7L630 417.8L631 419.1L632 420.4L632.8 421.5L633.4 422.3L636.1 420.2L635.5 419.5L634.7 418.4L633.7 417.1L632.7 415.8L631.9 414.7L631.4 413.9Z" fill="#2a0410" stroke="#2a0410" stroke-width="0.3" stroke-linejoin="round" />
<path d="M457.3 416.9L458.1 416.9L459.1 416.9L460.3 417L461.5 417L462.7 417.1L463.8 417.1L464.7 417.1L465.6 417.1L466.4 417L467.2 416.9L468 416.8L468.8 416.6L469.6 416.2L470.2 415.7L470.7 415.1L471.2 414.6L471.5 414.1L471.7 413.8L471.2 412.9L470.8 413L470.3 413L469.6 413.1L469 413.2L468.4 413.3L467.8 413.3L467.3 413.4L466.6 413.6L465.9 413.8L465.1 413.9L464.3 414.2L463.4 414.4L462.4 414.7L461.3 415L460.1 415.4L458.9 415.7L458 416L457.3 416.2Z" fill="#2a0410" stroke="#2a0410" stroke-width="0.3" stroke-linejoin="round" />
<path d="M464.3 415.9L464.3 416.7L464.4 417.9L464.5 419.3L464.7 420.9L464.8 422.4L465.1 423.9L465.3 425.2L465.6 426.6L465.9 428L466.3 429.5L466.9 431L467.7 432.4L468.6 433.7L469.7 435L470.9 436.3L472.3 437.5L473.8 438.5L475.5 439.3L477.4 439.9L479.5 440.2L481.6 440.4L483.6 440.5L485.6 440.4L487.2 440.3L488.7 440.1L490.1 439.8L491.3 439.3L492.3 438.9L493.1 438.5L493.7 438.3L493.3 437.2L492.7 437.4L491.8 437.7L490.8 437.9L489.7 438.2L488.5 438.3L487.2 438.3L485.6 438.2L483.8 438L481.9 437.7L480 437.3L478.3 436.8L476.8 436.2L475.6 435.5L474.4 434.7L473.3 433.7L472.2 432.7L471.3 431.6L470.5 430.6L469.9 429.5L469.5 428.4L469.2 427.2L468.9 425.9L468.7 424.6L468.4 423.3L468.2 422L468 420.5L467.9 419L467.8 417.7L467.7 416.5L467.6 415.6Z" fill="#2a0410" stroke="#2a0410" stroke-width="0.3" stroke-linejoin="round" />
<path d="M507.8 417.4L507.7 417.9L507.5 418.6L507.3 419.5L507.2 420.5L507.2 421.7L507.3 422.8L507.7 423.8L508.1 424.7L508.7 425.7L509.3 426.5L509.9 427.4L510.6 428.3L511.2 429.2L512 430.1L512.8 431.1L513.6 432L514.5 432.9L515.4 433.6L516.1 434.1L516.7 434.6L517.6 435.1L518.7 435.6L520 436L521.5 436.2L523.3 436.3L525.4 436.3L527.6 436.2L530 436.1L532.3 436L534.5 435.8L536.7 435.6L539 435.4L541.2 435.1L543.3 434.8L545.3 434.5L547.2 434.3L548.9 434.1L550.5 433.9L552.1 433.8L553.5 433.7L555 433.6L556.6 433.5L558.1 433.4L559.6 433.2L561.1 433.1L562.6 433L564.3 432.8L566 432.7L568 432.6L570.1 432.4L572.4 432.2L574.6 432.1L576.7 432L578.5 431.9L580.1 431.9L581.5 431.9L582.8 431.9L583.9 432L585 432.1L586 432.2L586.9 432.4L587.7 432.7L588.6 433L589.7 433.3L590.9 433.6L592.4 433.8L594 433.9L595.9 433.8L597.8 433.8L599.5 433.6L601 433.5L602.1 433.5L602 429.4L600.9 429.4L599.4 429.4L597.7 429.4L595.9 429.3L594.2 429.2L592.8 429.1L591.9 428.9L591 428.7L590.1 428.4L589.1 428.1L587.9 427.8L586.6 427.5L585.3 427.5L584 427.5L582.7 427.6L581.4 427.7L580 427.8L578.4 427.9L576.5 428L574.4 428.1L572.1 428.2L569.9 428.4L567.7 428.5L565.7 428.7L563.9 428.8L562.3 428.9L560.8 429.1L559.3 429.2L557.8 429.3L556.3 429.4L554.7 429.6L553.2 429.7L551.7 429.8L550.2 429.9L548.5 430.1L546.8 430.2L544.8 430.5L542.7 430.8L540.6 431.1L538.5 431.4L536.3 431.6L534.3 431.8L532.1 431.9L529.9 431.9L527.6 431.9L525.5 431.8L523.6 431.7L522.1 431.5L521.1 431.2L520.6 431L520.3 430.7L520 430.4L519.5 429.9L518.8 429.4L518 428.8L517.3 428.1L516.5 427.4L515.7 426.7L514.9 426L514.2 425.2L513.5 424.5L512.9 423.8L512.4 423.1L511.9 422.4L511.5 421.8L511.1 421.3L510.7 420.7L510.3 420L510 419.2L509.6 418.4L509.3 417.7L509.1 417.2Z" fill="#2a0410" stroke="#2a0410" stroke-width="0.3" stroke-linejoin="round" />
<path d="M515.3 432.5L515.8 433.3L516.5 434.5L517.3 436L518.2 437.6L519.2 439.2L520.2 440.6L521.3 441.8L522.4 442.9L523.6 444L524.7 445L525.9 446L527 446.9L528.1 447.8L529.2 448.7L530.2 449.5L531.3 450.3L532.4 451.1L533.5 451.8L534.6 452.4L535.7 453L536.8 453.5L537.9 454L538.9 454.5L539.9 455L540.8 455.5L541.7 456.1L542.7 456.8L543.9 457.5L545.3 458L546.8 458.3L548.6 458.2L550.5 457.9L552.4 457.4L554.1 456.8L555.6 456.4L556.6 456.1L556.2 454.1L555.1 454.2L553.6 454.5L551.8 454.7L550 454.9L548.4 455L547.1 455L546.2 454.7L545.4 454.4L544.5 453.9L543.6 453.3L542.6 452.6L541.5 452L540.4 451.5L539.3 451L538.3 450.5L537.3 450L536.3 449.5L535.3 448.9L534.3 448.3L533.3 447.6L532.2 446.8L531.2 446.1L530.2 445.2L529.2 444.3L528.2 443.4L527.2 442.4L526.2 441.3L525.2 440.3L524.3 439.2L523.4 438.1L522.6 436.9L521.7 435.5L520.8 434L520 432.6L519.4 431.4L518.9 430.5Z" fill="#2a0410" stroke="#2a0410" stroke-width="0.3" stroke-linejoin="round" />
<path d="M550.2 416.4L551.2 416.4L552.6 416.4L554.3 416.4L556.2 416.4L558 416.3L559.7 416.3L561.3 416.2L562.9 416.2L564.5 416.1L566.1 416.1L567.7 416L569.3 415.8L570.8 415.6L572.3 415.2L573.7 414.9L574.9 414.6L575.9 414.5L576.7 414.6L577.3 414.8L577.9 415.2L578.4 415.6L578.7 416L579 416.4L579.2 416.9L579.3 417.5L579.5 418.4L579.6 419.6L579.6 421L579.7 422.3L579.7 423.5L579.7 424.6L579.6 425.7L579.5 426.9L579.4 427.9L579.3 428.8L579.3 429.5L583.9 430.3L584.1 429.6L584.3 428.7L584.5 427.6L584.8 426.4L585 425L585.1 423.7L585.1 422.3L585.1 420.9L585.1 419.3L584.9 417.7L584.6 416.1L584 414.6L583.2 413.3L582.1 412.3L581 411.6L579.7 411.1L578.4 410.7L577.1 410.6L575.6 410.6L574.1 410.9L572.8 411.4L571.4 411.8L570.1 412.2L568.8 412.5L567.4 412.7L565.8 412.9L564.3 413.1L562.7 413.2L561.1 413.4L559.5 413.6L557.8 413.8L556 414.1L554.2 414.4L552.5 414.7L551.1 414.9L550.1 415.1Z" fill="#2a0410" stroke="#2a0410" stroke-width="0.3" stroke-linejoin="round" />
<path d="M583.5 417.1L584.1 416.3L584.8 415.3L585.6 414.1L586.5 412.9L587.3 411.9L588 411.1L588.5 410.6L588.9 410.3L589.2 410L589.7 409.7L590.5 409.4L591.6 409L593.1 408.6L595.1 408.2L597.2 407.7L599.3 407.3L601.2 407L602.4 406.7L601.6 402.7L600.4 403L598.6 403.4L596.4 403.8L594.2 404.3L592.2 404.7L590.5 405.1L589.3 405.5L588.3 405.7L587.3 406L586.4 406.5L585.6 407L584.7 407.7L583.7 408.8L582.7 410L581.7 411.4L580.9 412.6L580.2 413.7L579.7 414.4Z" fill="#2a0410" stroke="#2a0410" stroke-width="0.3" stroke-linejoin="round" />
<path d="M492 438.8L493.2 438.7L495 438.6L497 438.5L499.2 438.4L501.2 438.3L502.9 438.3L504.4 438.4L505.7 438.6L507 438.8L508.2 439L509.4 439.3L510.6 439.4L511.8 439.6L513 439.6L514.2 439.7L515.3 439.8L516.2 439.8L516.9 439.9L517.3 437.2L516.6 437.1L515.7 436.9L514.6 436.7L513.4 436.4L512.2 436.2L511 436.1L509.8 436L508.6 435.8L507.4 435.7L506 435.6L504.5 435.6L502.9 435.6L501.1 435.7L499 435.9L496.8 436.2L494.8 436.4L493.1 436.6L491.8 436.7Z" fill="#2a0410" stroke="#2a0410" stroke-width="0.3" stroke-linejoin="round" />
<path d="M566.1 443.1L566.9 442.9L568.2 442.7L569.6 442.4L571.1 442.1L572.7 441.8L574.1 441.4L575.4 441.1L576.8 440.7L578.2 440.3L579.5 439.9L580.8 439.5L582 439L583.2 438.5L584.5 438L585.6 437.4L586.7 436.9L587.5 436.5L588.2 436.2L587.6 434.6L586.9 434.8L586 435.1L584.8 435.4L583.6 435.8L582.4 436.1L581.2 436.5L580 436.8L578.7 437.2L577.4 437.6L576 438L574.7 438.4L573.3 438.8L572 439.3L570.5 439.9L569 440.5L567.6 441L566.5 441.5L565.7 441.8Z" fill="#2a0410" stroke="#2a0410" stroke-width="0.3" stroke-linejoin="round" />
<path d="M560.3 416.2L561.3 416L562.8 415.8L564.5 415.5L566.4 415.2L568.2 414.9L569.9 414.6L571.3 414.3L572.8 414L574.2 413.8L575.6 413.5L577 413.1L578.4 412.7L579.7 412.2L581.1 411.7L582.4 411.1L583.6 410.4L584.8 409.6L585.9 408.8L586.8 407.8L587.6 406.7L588.3 405.6L588.8 404.5L589.2 403.3L589.4 402L589.3 400.5L588.7 399.2L588.1 398.4L587.5 397.8L587.1 397.5L586.8 397.3L583.5 399.6L583.7 400L584 400.6L584.2 401L584.3 401.3L584.2 401.4L584.1 401.2L583.9 401.2L583.5 401.6L583.1 402.2L582.5 402.7L581.9 403.3L581.3 403.8L580.7 404.4L579.9 405.1L579.1 405.8L578.2 406.5L577.2 407.1L576.2 407.8L575.2 408.3L574.1 408.8L572.9 409.3L571.7 409.8L570.4 410.2L569 410.6L567.5 411L565.7 411.3L563.9 411.6L562.2 411.8L560.7 412L559.7 412.2Z" fill="#2a0410" stroke="#2a0410" stroke-width="0.3" stroke-linejoin="round" />
<path d="M582.4 409.1L583.3 409.5L584.4 410L585.8 410.6L587.4 411.3L589 411.9L590.5 412.3L592 412.6L593.4 412.9L594.8 413L596.3 413.1L597.8 413.1L599.4 413L600.9 412.8L602.4 412.4L603.9 412L605.2 411.5L606.4 411.1L607.5 410.8L608.4 410.4L609.4 410.1L610.2 409.8L610.9 409.6L611.5 409.4L612 409.2L611.8 408.1L611.3 408.1L610.7 408.1L609.9 408.1L609 408L608 408.1L606.9 408.1L605.7 408.3L604.4 408.5L603.1 408.7L601.7 408.9L600.5 409L599.3 409L598.2 408.8L597.1 408.4L596 408L594.8 407.5L593.6 407L592.4 406.5L591.1 406.1L589.7 405.5L588.2 404.9L586.9 404.3L585.7 403.9L584.8 403.5Z" fill="#2a0410" stroke="#2a0410" stroke-width="0.3" stroke-linejoin="round" />
<path d="M574.7 411.1L575 411.9L575.3 412.9L575.6 414.2L576 415.5L576.4 416.9L576.8 418.2L577 419.3L577.2 420.6L577.4 422.1L577.8 423.7L578.3 425.4L579.2 427L580.3 428.4L581.6 429.5L582.9 430.4L584.3 431.2L585.8 431.8L587.3 432.4L589 432.9L590.7 433.2L592.5 433.5L594.2 433.6L595.9 433.7L597.6 433.8L599.2 433.9L600.8 433.9L602.5 433.9L604.1 433.8L605.7 433.7L607.4 433.5L609 433.3L610.6 433L612.2 432.7L613.8 432.3L615.4 431.9L617 431.5L618.6 431.1L620.2 430.7L621.7 430.2L623.3 429.8L624.9 429.3L626.4 428.8L628.1 428.3L629.9 427.8L631.6 427.2L633.3 426.7L634.7 426.3L635.7 426L635.3 424.4L634.3 424.6L632.8 424.9L631.1 425.2L629.3 425.5L627.5 425.9L625.7 426.2L624.1 426.6L622.6 426.9L621 427.3L619.4 427.6L617.8 428L616.3 428.2L614.7 428.5L613.1 428.8L611.6 429L610.1 429.2L608.5 429.3L607 429.4L605.5 429.5L604 429.5L602.5 429.5L601 429.4L599.5 429.3L597.9 429.1L596.4 428.9L594.8 428.7L593.2 428.5L591.7 428.2L590.4 427.8L589.3 427.4L588.3 426.8L587.4 426.2L586.6 425.4L585.9 424.7L585.3 424L584.8 423.3L584.5 422.7L584.1 421.8L583.8 420.6L583.4 419.3L583 417.9L582.6 416.4L582.1 415.1L581.6 413.7L581 412.4L580.6 411.1L580.2 410.1L579.9 409.4Z" fill="#2a0410" stroke="#2a0410" stroke-width="0.3" stroke-linejoin="round" />
<path d="M559.8 431.9L560.7 432L562.1 432.2L563.7 432.4L565.6 432.5L567.5 432.7L569.5 432.7L571.7 432.6L574.1 432.5L576.7 432.3L579 432.1L581 431.9L582.4 431.8L581.6 426.4L580.2 426.7L578.3 427.1L576 427.6L573.6 428.1L571.3 428.4L569.4 428.7L567.6 428.7L565.9 428.6L564.2 428.4L562.6 428.2L561.2 428L560.2 427.9Z" fill="#2a0410" stroke="#2a0410" stroke-width="0.3" stroke-linejoin="round" />
<path d="M580 428.8L579.9 429.6L579.7 430.7L579.5 432L579.3 433.3L579 434.4L578.6 435.3L578.2 436.1L577.7 436.8L577.1 437.6L576.5 438.3L575.8 438.9L575 439.4L574.1 439.8L573 440.2L571.7 440.5L570.4 440.8L569.1 441L567.8 441.1L566.5 441.2L565.1 441.1L563.6 441L562.2 440.9L561 440.8L560.1 440.7L559.9 442.7L560.7 442.8L561.9 443.1L563.3 443.3L564.8 443.6L566.4 443.8L567.9 443.8L569.3 443.8L570.8 443.7L572.3 443.5L573.7 443.3L575.1 442.9L576.5 442.4L577.7 441.8L578.8 441.1L579.8 440.2L580.7 439.3L581.5 438.2L582.3 437.1L582.9 435.7L583.3 434.2L583.6 432.7L583.8 431.3L583.9 430.2L584 429.4Z" fill="#2a0410" stroke="#2a0410" stroke-width="0.3" stroke-linejoin="round" />
<path d="M645.7 419.2L646.2 419L647 418.6L647.9 418.2L648.9 417.7L649.9 417.1L650.8 416.6L651.7 416.1L652.6 415.4L653.6 414.8L654.6 414L655.6 413L656.3 411.6L656.4 409.7L655.8 408.4L655.1 407.4L654.7 406.8L654.6 406.8L654.3 407.6L654.3 407.7L655 407.5L656.2 407.3L657.6 407.1L659.2 407L661 406.7L662.8 406.5L664.8 406.2L666.9 405.9L669.1 405.6L671.3 405.4L673.5 405.2L675.5 404.9L677.6 404.7L679.8 404.6L681.9 404.4L684 404.2L686 404L688 403.9L690.2 403.7L692.3 403.6L694.2 403.4L695.8 403.3L697 403.3L696.8 399.9L695.6 400L694 400.1L692 400.3L689.9 400.4L687.8 400.6L685.8 400.7L683.8 400.8L681.7 400.8L679.6 400.9L677.4 400.9L675.2 401L673.1 401.1L670.9 401.3L668.7 401.6L666.4 401.9L664.3 402.1L662.2 402.4L660.4 402.7L658.7 402.9L657.1 403.1L655.6 403.3L654.1 403.6L652.7 404L651.3 405L650.6 407L651.1 408.6L651.7 409.6L652.2 410.4L652.4 410.7L652.4 410.5L652.4 410.5L651.9 410.9L651.2 411.4L650.3 412L649.4 412.6L648.5 413.3L647.7 414L646.9 414.7L646.1 415.4L645.3 416L644.7 416.6L644.2 417Z" fill="#2a0410" stroke="#2a0410" stroke-width="0.3" stroke-linejoin="round" />
<path d="M642 301.8L641.5 302.3L640.9 303L640.1 303.9L639.3 304.8L638.5 305.7L637.7 306.5L637 307.5L636.1 308.5L635.3 309.6L634.5 310.6L633.7 311.5L633.1 312.3L632.4 312.9L631.7 313.4L630.9 314L630.2 314.5L629.5 315L629 315.3L631 318.8L631.5 318.6L632.3 318.3L633.2 317.8L634.3 317.2L635.3 316.5L636.4 315.6L637.3 314.6L638.2 313.5L639 312.3L639.8 311.1L640.5 309.9L641.1 308.8L641.7 307.6L642.1 306.3L642.5 305.1L642.8 304L643 303.1L643.2 302.5Z" fill="#2a0410" stroke="#2a0410" stroke-width="0.3" stroke-linejoin="round" />
<path d="M661.2 331.4L661.5 330.4L661.8 328.8L662.2 327.1L662.6 325.3L663 323.6L663.4 322.3L663.8 321.4L664.2 320.7L664.6 320.2L665 319.6L665.4 319.1L665.7 318.5L666 317.9L666.3 317.2L666.6 316.4L667 315.7L667.3 315L667.5 314.5L666.4 313.3L666 313.5L665.3 313.7L664.5 314L663.6 314.5L662.7 315L661.9 315.7L661.4 316.4L660.9 317.1L660.5 317.9L660.1 318.9L659.8 320L659.5 321.3L659.3 322.8L659 324.7L658.9 326.6L658.7 328.4L658.6 330L658.6 331Z" fill="#2a0410" stroke="#2a0410" stroke-width="0.3" stroke-linejoin="round" />
<path d="M665.6 318.9L666.1 317.9L667 316.4L667.9 314.7L668.9 313L669.9 311.5L670.6 310.3L671.2 309.5L671.9 308.7L672.6 308.1L673.2 307.5L673.9 307L674.3 306.5L673.8 305.6L673.2 305.8L672.5 305.9L671.5 306.2L670.4 306.6L669.2 307.2L668.1 308.1L666.9 309.4L665.8 311L664.6 312.7L663.6 314.4L662.7 315.8L662.1 316.8Z" fill="#2a0410" stroke="#2a0410" stroke-width="0.3" stroke-linejoin="round" />
<path d="M694.2 331.8L694.6 330.9L695.3 329.7L696 328.3L696.8 326.8L697.5 325.3L698 324.1L698.3 323L698.4 321.9L698.4 321L698.4 320.1L698.4 319.4L698.4 318.9L696.9 318.4L696.6 318.8L696.2 319.4L695.7 320.1L695.1 320.9L694.6 321.7L694.2 322.7L693.7 323.9L693.2 325.4L692.8 327L692.3 328.5L692 329.8L691.7 330.7Z" fill="#2a0410" stroke="#2a0410" stroke-width="0.3" stroke-linejoin="round" />
<path d="M519.6 374.1C520.6 372.5 527 366.2 529.8 363.8C532.5 361.4 535.7 359.3 536.1 359.6C536.5 359.8 534.2 363.1 532.1 365.4C530 367.7 525.6 371.8 523.5 373.3C521.4 374.7 518.5 375.6 519.6 374.1Z" fill="#fff"/>
<path d="M511.2 418.9C510.6 417 511.5 410.9 512.5 408.7C513.5 406.4 515.2 405.9 517.2 405.5C519.2 405.1 524 405.5 524.3 406.3C524.5 407.1 520.1 408 518.8 410.2C517.5 412.5 517.7 418.5 516.4 420C515.2 421.4 511.9 420.8 511.2 418.9Z" fill="#fff"/>
<path d="M599 330C599.8 331 601.6 334.9 603.7 336.3C605.8 337.7 610.3 338.3 611.6 338.7" fill="none" stroke="#fff" stroke-width="2.2" stroke-linecap="round" stroke-linejoin="round" />
<path d="M564.4 363.8C565.7 362.8 568.6 359.4 572.3 357.5C575.9 355.7 582.2 354 586.4 352.8C590.6 351.6 595.6 350.8 597.4 350.5" fill="none" stroke="#f6b8ea" stroke-width="1.2" stroke-linecap="round" stroke-linejoin="round" />
<path d="M547.1 375.6C547.2 377.5 546.8 382.7 547.9 386.6C548.9 390.6 552.5 397.1 553.4 399.2" fill="none" stroke="#f6b8ea" stroke-width="1.1" stroke-linecap="round" stroke-linejoin="round" />
<path d="M685.9 353.6C686.2 353.1 689 355.6 690.6 357.5C692.1 359.5 695 363.8 695.3 365.4C695.6 367 693.3 367.8 692.1 367C691 366.2 689.3 362.9 688.2 360.7C687.2 358.4 685.5 354.1 685.9 353.6Z" fill="#fff"/>
<path d="M667.8 330.3C669.3 330.4 675.6 330.8 677.2 330.9" fill="none" stroke="#fff" stroke-width="1.6" stroke-linecap="round" stroke-linejoin="round" />
<path d="M455.7 409.4C455.9 407.7 457.2 403 458.1 401.6C459 400.1 461.1 400 461.2 400.8C461.4 401.6 459.5 404.5 458.9 406.3C458.2 408.1 457.8 411.3 457.3 411.8C456.8 412.3 455.6 411.1 455.7 409.4Z" fill="#fff"/>
<path d="M511.6 415.7C511.3 413 512.2 410.4 513.9 408.7C515.6 406.9 519.8 405.9 521.8 405.5C523.8 405.1 526.3 405.4 525.7 406.3C525.2 407.2 520.1 408.9 518.7 411C517.2 413.1 517.6 416.5 517.1 418.9C516.6 421.2 516.4 425.7 515.5 425.2C514.6 424.6 511.8 418.5 511.6 415.7Z" fill="#fff"/>
<path d="M472.3 426C471.5 423.7 473.3 421.5 473.8 420.5C474.3 419.4 475.1 418.4 475.4 419.7C475.7 421 474.9 426 475.4 428.3C475.9 430.7 479.1 434.2 478.5 433.8C478 433.4 473 428.2 472.3 426Z" fill="#fff"/>
<path d="M534.4 444.1C535.4 444.8 538.3 447.9 540.7 448.8C543 449.7 547.2 449.4 548.6 449.6" fill="none" stroke="#fff" stroke-width="1.6" stroke-linecap="round" stroke-linejoin="round" />
<path d="M599.3 324.2C599.5 325.1 600.4 329 600.6 330" fill="none" stroke="#fff" stroke-width="1.6" stroke-linecap="round" stroke-linejoin="round" />
<path d="M642.6 385.1C645.2 385.6 652.5 387.7 658.3 388.5C664.1 389.3 674.1 389.6 677.2 389.8" fill="none" stroke="#f0a0e0" stroke-width="1.6" stroke-linecap="round" stroke-linejoin="round" />
<path d="M781.8 275C782.3 274.7 780.5 275.2 781.8 275C783.1 274.8 787.6 272.5 789.7 273.6C791.8 274.7 793.4 278.6 794.4 281.5C795.4 284.4 795 288 796 290.9C797 293.8 799.9 295.9 800.7 298.8C801.5 301.7 801.5 305.1 800.7 308.2C799.9 311.3 796 314.8 796 317.7C796 320.6 799.4 322.9 800.7 325.5C802 328.1 803.5 331.1 803.8 333.4C804.1 335.7 802.3 337.5 802.3 339.4C802.3 341.3 802 343.4 803.8 345C805.6 346.6 811.2 347.2 813.3 348.9C815.4 350.6 816.9 353.4 816.4 355.2C815.9 357 810.8 357.8 810.1 359.9C809.5 362 812.5 364.9 812.5 367.8C812.5 370.7 810 374.1 810.1 377.2C810.2 380.3 813.3 383.5 813.3 386.6C813.3 389.8 811.7 394 810.1 396.1C808.5 398.2 805.4 397.4 803.8 399.2C802.2 401 802.8 404.9 800.7 407.1C798.6 409.3 795 411.6 791.3 412.6C787.6 413.7 782.6 413.5 778.7 413.4C774.8 413.3 771.4 412.3 767.7 411.8C764 411.3 761.2 410.7 756.6 410.2C752 409.7 746.4 409.5 740 409C733.6 408.5 722.5 408.5 718 407C713.5 405.5 713.7 403.7 713 400C712.3 396.3 713.9 390 714 385C714.1 380 713.4 375 713.5 370C713.6 365 714.4 360 714.5 355C714.6 350 713.8 344.2 714 340C714.2 335.8 715.4 332.7 715.7 330C716 327.3 714.7 325.5 716 324C717.3 322.5 721 322.1 723.6 320.8C726.2 319.5 729.1 318.1 731.5 316C733.9 313.9 735.2 310.1 737.8 308.2C740.4 306.2 745.1 305.6 747.2 304.3C749.3 303 748.2 302.3 750.3 300.3C752.4 298.3 756.6 295.1 759.8 292.5C762.9 289.9 766.1 287.2 769.2 284.6C772.4 282 776.6 278.3 778.7 276.7C780.8 275.1 781.3 275.3 781.8 275Z" fill="url(#gbl)" stroke="#2a0410" stroke-width="1.6"/>
<g clip-path="url(#bcl)">
<path d="M715.7 336.3C715.6 339.2 714.9 346.8 714.9 353.6C714.9 360.4 715.3 369.3 715.7 377.2C716.1 385.1 717 396.9 717.3 400.8" fill="none" stroke="#5a9edc" stroke-width="3.5" stroke-linecap="round" stroke-linejoin="round" opacity="0.7"/>
<path d="M725.5 348.3L726.1 348.5L726.9 348.9L727.7 349.3L728.7 349.8L729.6 350.2L730.5 350.7L731.3 351.2L732.3 351.8L733.3 352.3L734.2 352.9L735.1 353.5L735.9 354L736.6 354.4L737.3 355L738.1 355.6L738.9 356.3L739.9 357L741.1 357.6L742.3 358L743.4 358.3L744.5 358.4L745.4 358.5L746.2 358.5L746.7 358.6L747.7 354.9L747.2 354.7L746.5 354.3L745.8 354L745 353.6L744.4 353.1L743.9 352.8L743.5 352.3L743 351.7L742.4 351L741.6 350.2L740.7 349.3L739.6 348.5L738.4 347.8L737.3 347.2L736.1 346.7L734.8 346.2L733.6 345.8L732.5 345.5L731.3 345.2L730.1 345L728.9 344.9L727.9 344.9L727 344.8L726.4 344.8Z" fill="#5c9fdc" stroke="#5c9fdc" stroke-width="0.3" stroke-linejoin="round" opacity="0.6"/>
<path d="M744.9 333.6L745.1 334.5L745.3 335.6L745.6 337L745.8 338.5L746.1 339.9L746.2 341.4L746.4 342.8L746.5 344.3L746.5 345.9L746.6 347.6L746.7 349.2L746.8 350.7L746.8 352.1L746.8 353.4L746.9 354.8L746.9 356.3L747.1 357.7L747.4 359.2L747.9 360.6L748.5 361.8L749.2 362.9L749.9 363.9L750.6 364.8L751.3 365.5L752 366.3L752.8 367L753.6 367.5L754.3 367.9L754.9 368.3L755.2 368.5L758 365.5L757.7 365.1L757.3 364.5L756.9 364L756.5 363.4L756.1 362.8L755.7 362.1L755.3 361.4L754.8 360.6L754.3 359.8L753.9 359L753.5 358.2L753.3 357.5L753.1 356.6L752.9 355.6L752.8 354.4L752.6 353.1L752.5 351.7L752.3 350.2L752.2 348.7L752 347.2L751.9 345.5L751.7 343.9L751.5 342.2L751.3 340.7L751 339.1L750.7 337.5L750.3 336L749.9 334.6L749.7 333.5L749.4 332.7Z" fill="#5c9fdc" stroke="#5c9fdc" stroke-width="0.3" stroke-linejoin="round" opacity="0.6"/>
<path d="M732.2 363.1L732.8 362.9L733.6 362.6L734.4 362.3L735.1 362.1L735.6 362.1L735.7 362.1L736 362.3L736.6 362.7L737.2 363.2L737.8 363.8L738.3 364.5L738.7 365.1L739 365.8L739.4 366.7L739.6 367.7L739.8 368.7L739.9 369.8L739.9 370.8L739.8 371.8L739.6 373L739.2 374.2L738.8 375.4L738.4 376.5L737.9 377.6L737.4 378.4L736.8 379.3L736.1 380.1L735.4 380.9L734.6 381.8L733.9 382.6L733.1 383.3L732.2 384.1L731.2 384.9L730.3 385.7L729.5 386.3L728.9 386.8L730.8 389.6L731.5 389.3L732.4 388.8L733.5 388.2L734.6 387.6L735.8 386.8L736.9 386L737.9 385.2L738.8 384.4L739.8 383.4L740.7 382.4L741.6 381.2L742.4 380L743 378.6L743.6 377.2L744.1 375.7L744.6 374.1L744.9 372.6L745 371L745 369.5L744.9 368L744.6 366.6L744.3 365.1L743.7 363.8L743.1 362.5L742.3 361.4L741.4 360.3L740.3 359.4L739.2 358.7L738 358.1L736.6 357.6L735.1 357.6L733.8 358L732.7 358.6L731.8 359.1L731.1 359.6L730.7 359.8Z" fill="#5c9fdc" stroke="#5c9fdc" stroke-width="0.3" stroke-linejoin="round" opacity="0.6"/>
<path d="M760.7 330.4L760.8 331.4L761 332.9L761.2 334.6L761.5 336.5L761.7 338.3L762 339.9L762.2 341.3L762.5 342.7L762.8 344L763 345.3L763.3 346.5L763.6 347.9L764 349.3L764.5 350.7L764.9 352L765.3 353.1L765.4 354L765.4 354.7L765.2 355.4L764.7 356.1L764 357L763.2 357.9L762.2 358.9L761.3 359.9L760.3 360.8L759.1 361.8L757.9 362.8L756.8 363.7L755.7 364.4L755 365L758.3 368.9L758.9 368.3L759.9 367.5L761.1 366.5L762.3 365.3L763.5 364.2L764.6 363.1L765.5 362.1L766.5 361L767.5 359.9L768.5 358.7L769.3 357.3L769.9 355.7L770.1 353.9L769.9 352.2L769.6 350.7L769.2 349.2L768.8 347.9L768.6 346.7L768.3 345.5L768.1 344.2L767.8 343L767.6 341.7L767.3 340.4L767 339L766.7 337.4L766.4 335.7L766 333.8L765.7 332.1L765.4 330.7L765.2 329.6Z" fill="#5c9fdc" stroke="#5c9fdc" stroke-width="0.3" stroke-linejoin="round" opacity="0.6"/>
<path d="M755.7 369.6L756.7 369.9L758.2 370.4L759.9 371L761.8 371.6L763.7 372.1L765.4 372.6L767.1 373L768.7 373.3L770.4 373.7L772 373.9L773.7 374.1L775.4 374.2L777.1 374.2L778.8 374.2L780.4 374L782.1 373.8L783.8 373.5L785.4 373.2L787.2 372.7L788.8 372.2L790.5 371.6L792 371L793.6 370.4L795 370L796.6 369.6L798.2 369.2L799.8 368.8L801.5 368.5L803.1 368.1L804.6 367.6L806 367L807.4 366.2L808.6 365.5L809.6 364.9L810.4 364.3L811 363.9L809.2 360.6L808.5 360.9L807.6 361.3L806.6 361.8L805.4 362.3L804.2 362.8L803.1 363.2L801.8 363.6L800.4 363.9L798.8 364.3L797.1 364.7L795.4 365.1L793.7 365.6L792.1 366.1L790.5 366.7L788.9 367.3L787.4 367.8L785.9 368.3L784.5 368.7L783 368.9L781.5 369.1L780 369.2L778.6 369.2L777.1 369.2L775.6 369.1L774.2 369L772.7 368.9L771.2 368.6L769.7 368.4L768.2 368L766.7 367.7L765.1 367.2L763.4 366.6L761.7 365.9L760 365.3L758.6 364.7L757.6 364.3Z" fill="#5c9fdc" stroke="#5c9fdc" stroke-width="0.3" stroke-linejoin="round" opacity="0.6"/>
<path d="M752.8 377.3L753.2 377.6L753.9 378L754.7 378.6L755.7 379.1L757 379.6L758.4 379.7L759.9 379.4L761.1 378.7L761.9 378.1L762.5 377.6L762.9 377.2L763.4 377.1L764.1 377L764.8 377L765.6 377.1L766.3 377.3L767.2 377.5L768.1 377.9L769.3 378.6L770.8 379.6L772.5 380.7L774.1 381.9L775.8 383.1L777.3 384.1L778.5 384.8L779.5 385.5L780.6 386.1L781.7 386.7L782.9 387.2L784.4 387.5L786.1 387.8L788 387.9L789.9 388L791.7 387.9L793.2 387.9L794.3 387.9L794.5 383.8L793.4 383.7L791.9 383.5L790.2 383.4L788.4 383.1L786.8 382.9L785.5 382.6L784.6 382.3L783.8 381.9L783 381.6L782.2 381.1L781.2 380.5L780 379.8L778.7 378.9L777.1 377.8L775.4 376.5L773.7 375.3L772 374.2L770.3 373.3L768.8 372.7L767.3 372.4L766 372.3L764.8 372.3L763.6 372.4L762.5 372.6L761.2 372.9L760 373.5L759.1 374L758.4 374.4L758 374.6L758 374.7L757.8 374.7L757.2 374.7L756.4 374.5L755.6 374.3L754.8 374.1L754.2 374Z" fill="#5c9fdc" stroke="#5c9fdc" stroke-width="0.3" stroke-linejoin="round" opacity="0.6"/>
<path d="M753.3 389.7L754.3 389.8L755.7 390L757.4 390.3L759.2 390.5L761.1 390.7L762.9 390.8L764.6 390.8L766.2 390.7L767.8 390.7L769.5 390.5L771.2 390.3L772.9 389.9L774.7 389.4L776.6 388.7L778.5 388L780.1 387.2L781.5 386.6L782.5 386.2L781.1 382.3L780.1 382.7L778.6 383.1L776.9 383.6L775.1 384.2L773.4 384.6L771.8 384.9L770.4 385.2L768.9 385.3L767.5 385.5L766 385.6L764.5 385.6L763 385.7L761.4 385.6L759.6 385.6L757.9 385.5L756.2 385.3L754.8 385.2L753.7 385.1Z" fill="#5c9fdc" stroke="#5c9fdc" stroke-width="0.3" stroke-linejoin="round" opacity="0.6"/>
<path d="M744.7 405.6L745.6 405.3L746.9 404.8L748.3 404.3L749.8 403.8L751.3 403.4L752.6 403L753.9 402.7L755.1 402.4L756.3 402.1L757.4 401.9L758.6 401.8L759.8 401.8L761 401.9L762.4 402.1L763.9 402.4L765.5 402.7L767.2 403.1L768.9 403.3L770.4 403.5L772 403.8L773.7 404L775.3 404.1L777.1 404.2L778.9 404.1L780.7 403.9L782.4 403.6L784.2 403.2L785.9 402.7L787.6 402.2L789.1 401.6L790.5 400.9L791.8 400.2L792.9 399.5L793.9 398.8L794.9 398.1L795.8 397.4L796.8 396.7L798 395.8L799.1 395L800.2 394.2L801.1 393.5L801.7 393L799.7 389.7L799 390.1L797.9 390.6L796.8 391.2L795.5 391.8L794.2 392.5L793 393.1L791.9 393.8L790.9 394.5L790 395.2L789.1 395.8L788.2 396.4L787.1 396.9L785.9 397.3L784.4 397.8L782.9 398.2L781.4 398.6L779.9 398.9L778.5 399L777.1 399.1L775.7 399L774.2 398.9L772.7 398.7L771.1 398.5L769.6 398.3L768.1 398L766.5 397.7L764.9 397.4L763.3 397L761.5 396.8L759.8 396.7L758.2 396.8L756.6 397L755.2 397.3L753.8 397.7L752.5 398.1L751.2 398.6L749.8 399.2L748.2 399.9L746.7 400.6L745.3 401.3L744.2 401.9L743.4 402.3Z" fill="#5c9fdc" stroke="#5c9fdc" stroke-width="0.3" stroke-linejoin="round" opacity="0.6"/>
<path d="M786 330.9L786.3 331.8L786.9 332.9L787.5 334.3L788.1 335.8L788.6 337.2L789 338.5L789.3 339.7L789.5 341L789.7 342.5L789.9 344L790.2 345.4L790.8 346.9L791.7 348L792.8 348.9L794 349.3L795.1 349.6L796 349.6L796.9 349.6L798 349.4L799 349L799.9 348.5L800.6 348L801.2 347.7L801.5 347.4L799.9 344L799.4 344.2L798.7 344.5L798.1 344.7L797.4 344.9L796.9 345L796.6 345L796.2 345L795.7 344.9L795.3 344.9L795.1 344.8L794.9 344.7L794.8 344.6L794.6 344.1L794.4 343.2L794.3 341.9L794.1 340.4L793.8 338.8L793.5 337.2L792.9 335.7L792.3 334.1L791.7 332.6L791.1 331.1L790.6 329.9L790.2 329.1Z" fill="#5c9fdc" stroke="#5c9fdc" stroke-width="0.3" stroke-linejoin="round" opacity="0.6"/>
<path d="M717.9 338.6L718.5 339L719.2 339.4L720 339.9L720.8 340.5L721.6 341.1L722.1 341.7L722.7 342.4L723.4 343.3L724 344.4L724.7 345.4L725.2 346.3L725.6 347L729.4 344.5L729 343.9L728.4 343L727.7 342L726.9 340.8L726 339.8L725 338.8L724 338L723 337.3L722 336.7L721.1 336.2L720.3 335.8L719.8 335.5Z" fill="#5c9fdc" stroke="#5c9fdc" stroke-width="0.3" stroke-linejoin="round" opacity="0.6"/>
<path d="M748.2 313.8L749 314.1L750.1 314.4L751.5 314.8L753.1 315.2L754.8 315.5L756.5 315.7L758.1 315.8L759.9 315.8L761.7 315.7L763.4 315.5L765.2 315.2L766.9 314.8L768.4 314.3L769.8 313.6L771.1 312.9L772.3 312L773.4 311.1L774.5 310.1L775.4 308.9L776.1 307.6L776.7 306.3L777.2 305.1L777.6 303.9L777.9 302.8L778.3 301.5L778.5 300.2L778.7 298.9L778.9 297.7L779 296.8L779.1 296.1L775.1 295.2L774.9 295.9L774.6 296.8L774.3 297.9L773.9 299L773.5 300.1L773.1 301.1L772.7 302.1L772.2 303.1L771.8 304.1L771.3 305L770.8 305.7L770.3 306.3L769.6 307L768.9 307.6L768.1 308.1L767.2 308.7L766.3 309.1L765.3 309.5L764.1 309.7L762.8 309.9L761.3 310.1L759.7 310.1L758.2 310.2L756.8 310.1L755.5 310L754.1 309.8L752.7 309.6L751.4 309.3L750.2 309.1L749.4 308.9Z" fill="#5c9fdc" stroke="#5c9fdc" stroke-width="0.3" stroke-linejoin="round" opacity="0.6"/>
<path d="M775.1 297.6L775.1 298.1L775.1 299L775.1 300.2L775.3 301.6L775.7 303.1L776.5 304.5L777.6 305.7L778.8 306.6L780.2 307.4L781.6 308.1L783.1 308.6L784.7 308.9L786.4 308.8L787.9 308.6L789.4 308.1L790.7 307.4L792 306.5L793.2 305.5L794.2 304.1L794.9 302.6L795.4 301.1L795.8 299.8L796.1 298.7L796.3 298L792.5 296.4L792.1 297.1L791.6 298.2L791 299.3L790.4 300.3L789.8 301.1L789.3 301.5L788.8 301.8L788 302.2L787.2 302.5L786.4 302.7L785.7 302.8L785.2 302.8L784.6 302.7L783.8 302.5L782.9 302.1L782 301.7L781.3 301.2L780.8 300.9L780.5 300.7L780.2 300.1L779.8 299.3L779.6 298.4L779.3 297.5L779.1 296.8Z" fill="#5c9fdc" stroke="#5c9fdc" stroke-width="0.3" stroke-linejoin="round" opacity="0.6"/>
<path d="M771.7 303.9L771.8 304.6L772 305.5L772.2 306.7L772.5 308L772.9 309.4L773.4 310.8L774.2 312.1L775 313.3L775.8 314.5L776.8 315.6L777.6 316.6L778.5 317.6L779.4 318.5L780.4 319.5L781.4 320.3L782.3 321.1L783.1 321.7L783.6 322.2L786.3 319.4L785.8 318.9L785.1 318.2L784.4 317.3L783.5 316.4L782.7 315.5L782 314.6L781.2 313.6L780.3 312.6L779.5 311.6L778.7 310.6L778.1 309.6L777.6 308.8L777.2 307.9L776.9 306.9L776.7 305.8L776.5 304.7L776.3 303.8L776.2 303Z" fill="#5c9fdc" stroke="#5c9fdc" stroke-width="0.3" stroke-linejoin="round" opacity="0.6"/>
<path d="M762.2 313.4L762.4 314.2L762.6 315.4L762.8 316.8L763.1 318.4L763.3 319.9L763.6 321.3L763.8 322.6L764.1 323.8L764.4 325L764.6 326.2L764.9 327.5L765.1 329L765.4 331L765.7 333.3L766 335.8L766.3 338.1L766.5 340.1L766.7 341.6L771.8 340.9L771.6 339.5L771.3 337.5L771.1 335.1L770.8 332.7L770.5 330.3L770.2 328.3L769.9 326.6L769.6 325.2L769.4 323.9L769.1 322.7L768.8 321.5L768.6 320.3L768.3 318.9L767.9 317.4L767.6 315.9L767.2 314.5L767 313.3L766.8 312.5Z" fill="#5c9fdc" stroke="#5c9fdc" stroke-width="0.3" stroke-linejoin="round" opacity="0.6"/>
<path d="M745.3 341.5L745.3 340.8L745.4 339.8L745.5 338.7L745.6 337.5L745.8 336.5L746 335.7L746.2 334.9L746.5 334.1L746.8 333.4L747 332.9L747.2 332.6L747.4 332.4L747.5 332.3L747.9 332.1L748.4 331.9L748.9 331.8L749.2 331.8L749.4 331.8L749.6 331.9L749.8 332.1L750.1 332.4L750.5 332.9L750.8 333.6L751.1 334.3L751.4 335.2L751.7 336.5L752 338L752.2 339.5L752.4 340.8L752.5 341.7L757.6 340.8L757.4 339.9L757.2 338.7L757 337.1L756.7 335.5L756.3 333.9L755.9 332.5L755.4 331.3L754.8 330.3L754.1 329.3L753.3 328.4L752.4 327.7L751.3 327.1L750 326.7L748.7 326.6L747.5 326.7L746.3 326.9L745.1 327.3L743.9 328L742.9 329L742.2 330L741.6 331.1L741.2 332.1L740.9 333.2L740.6 334.3L740.3 335.5L740.1 336.8L739.9 338.1L739.8 339.3L739.8 340.3L739.7 341Z" fill="#5c9fdc" stroke="#5c9fdc" stroke-width="0.3" stroke-linejoin="round" opacity="0.6"/>
<ellipse cx="740" cy="350" rx="7" ry="14" fill="#c8ecfc" opacity="0.7"/>
<ellipse cx="775" cy="385" rx="16" ry="5" fill="#c8ecfc" opacity="0.7"/>
<ellipse cx="770" cy="400" rx="18" ry="4" fill="#c8ecfc" opacity="0.7"/>
<ellipse cx="790" cy="365" rx="12" ry="5" fill="#c8ecfc" opacity="0.7"/>
<ellipse cx="760" cy="325" rx="8" ry="10" fill="#c8ecfc" opacity="0.7"/>
<ellipse cx="745" cy="300" rx="8" ry="6" fill="#c8ecfc" opacity="0.7"/>
<ellipse cx="790" cy="335" rx="6" ry="10" fill="#c8ecfc" opacity="0.7"/>
<ellipse cx="735" cy="385" rx="7" ry="12" fill="#c8ecfc" opacity="0.7"/>
<path d="M725.8 347.1L726.4 347.4L727.1 347.9L728 348.3L728.9 348.9L729.9 349.4L730.8 349.9L731.7 350.5L732.6 351.1L733.6 351.7L734.6 352.3L735.5 352.9L736.3 353.4L737 353.9L737.8 354.4L738.6 355L739.5 355.7L740.4 356.3L741.5 356.9L742.6 357.2L743.7 357.4L744.8 357.5L745.7 357.5L746.5 357.5L747 357.5L747.4 356L746.9 355.7L746.2 355.4L745.5 354.9L744.7 354.5L744 354L743.5 353.5L743 353L742.5 352.3L741.9 351.6L741.1 350.7L740.2 349.9L739.2 349.1L738.1 348.4L736.9 347.9L735.7 347.4L734.5 346.9L733.3 346.6L732.2 346.3L731 346.1L729.8 345.9L728.6 345.9L727.6 345.9L726.7 345.9L726.1 345.9Z" fill="#2a0410" stroke="#2a0410" stroke-width="0.3" stroke-linejoin="round" />
<path d="M745.9 333.4L746.1 334.3L746.3 335.4L746.5 336.8L746.8 338.3L747 339.8L747.2 341.2L747.3 342.7L747.4 344.2L747.4 345.9L747.5 347.5L747.5 349.1L747.6 350.6L747.7 352L747.7 353.4L747.7 354.8L747.7 356.2L747.9 357.6L748.2 359L748.6 360.3L749.2 361.5L749.9 362.5L750.6 363.5L751.3 364.3L751.9 365L752.7 365.7L753.5 366.3L754.3 366.8L755 367.2L755.6 367.5L756 367.7L757.3 366.3L757 365.8L756.7 365.3L756.2 364.7L755.8 364L755.4 363.3L755 362.6L754.6 361.9L754.1 361L753.6 360.2L753.2 359.4L752.8 358.5L752.5 357.7L752.3 356.8L752.1 355.7L752 354.5L751.8 353.2L751.7 351.8L751.5 350.3L751.3 348.8L751.2 347.2L751 345.6L750.8 344L750.6 342.3L750.4 340.8L750.1 339.3L749.7 337.7L749.3 336.2L749 334.8L748.7 333.7L748.5 332.9Z" fill="#2a0410" stroke="#2a0410" stroke-width="0.3" stroke-linejoin="round" />
<path d="M731.7 362.1L732.3 361.9L733.1 361.6L733.9 361.3L734.8 361.1L735.5 361.1L735.9 361.2L736.4 361.4L737.1 361.9L737.8 362.5L738.5 363.2L739 363.9L739.5 364.6L739.9 365.5L740.2 366.4L740.5 367.5L740.7 368.6L740.9 369.7L740.9 370.8L740.7 371.9L740.5 373.2L740.1 374.5L739.7 375.7L739.2 376.9L738.7 378L738.1 379L737.5 379.9L736.8 380.8L736.1 381.6L735.3 382.5L734.5 383.3L733.7 384.1L732.8 385L731.9 385.9L730.9 386.6L730.2 387.3L729.6 387.8L730.2 388.6L730.8 388.3L731.8 387.9L732.8 387.3L734 386.7L735.2 386L736.3 385.3L737.2 384.5L738.1 383.7L739.1 382.8L740 381.8L740.8 380.7L741.5 379.5L742.2 378.3L742.8 376.9L743.3 375.4L743.7 373.9L743.9 372.4L744.1 371L744.1 369.6L744 368.1L743.7 366.8L743.4 365.4L742.9 364.2L742.3 363L741.6 362L740.7 361L739.7 360.2L738.7 359.5L737.6 358.9L736.4 358.6L735.2 358.7L734.1 359L733.1 359.6L732.3 360.1L731.7 360.6L731.2 360.9Z" fill="#2a0410" stroke="#2a0410" stroke-width="0.3" stroke-linejoin="round" />
<path d="M761.6 330.2L761.8 331.3L762 332.7L762.2 334.5L762.4 336.3L762.7 338.1L762.9 339.7L763.1 341.2L763.4 342.5L763.7 343.8L763.9 345.1L764.2 346.3L764.5 347.7L764.9 349.1L765.4 350.4L765.8 351.7L766.2 352.9L766.4 354L766.4 354.9L766.1 355.8L765.6 356.7L764.8 357.7L763.9 358.6L763 359.6L762 360.6L761 361.5L759.8 362.5L758.5 363.5L757.4 364.4L756.3 365.2L755.6 365.7L757.7 368.2L758.4 367.6L759.3 366.8L760.4 365.7L761.6 364.6L762.8 363.5L763.9 362.4L764.8 361.4L765.8 360.4L766.7 359.3L767.6 358.1L768.4 356.9L768.9 355.4L769.1 353.9L769 352.4L768.7 350.9L768.3 349.5L767.9 348.2L767.7 346.9L767.4 345.7L767.2 344.4L766.9 343.1L766.7 341.9L766.4 340.5L766.1 339.1L765.8 337.6L765.4 335.8L765.1 334L764.7 332.3L764.4 330.8L764.2 329.8Z" fill="#2a0410" stroke="#2a0410" stroke-width="0.3" stroke-linejoin="round" />
<path d="M756 368.8L757 369.1L758.5 369.6L760.2 370.1L762 370.7L763.9 371.2L765.7 371.7L767.3 372.1L768.9 372.4L770.5 372.8L772.1 373L773.8 373.2L775.4 373.3L777.1 373.3L778.7 373.2L780.4 373.1L782 372.8L783.6 372.5L785.2 372.2L786.9 371.7L788.5 371.2L790.1 370.6L791.7 370L793.2 369.5L794.8 369L796.3 368.6L798 368.2L799.6 367.9L801.2 367.5L802.8 367.1L804.3 366.6L805.6 366L806.9 365.3L808.1 364.6L809.1 363.9L809.9 363.3L810.5 362.9L809.8 361.6L809.1 361.9L808.2 362.3L807.1 362.8L805.9 363.3L804.6 363.7L803.4 364.2L802.1 364.5L800.6 364.9L799 365.3L797.4 365.7L795.7 366.1L794 366.5L792.4 367L790.8 367.6L789.2 368.2L787.7 368.8L786.2 369.3L784.7 369.6L783.2 369.9L781.6 370L780.1 370.1L778.6 370.2L777.1 370.1L775.6 370.1L774.1 370L772.6 369.8L771.1 369.6L769.6 369.3L768 368.9L766.5 368.5L764.9 368.1L763.1 367.4L761.4 366.8L759.7 366.1L758.3 365.5L757.3 365.1Z" fill="#2a0410" stroke="#2a0410" stroke-width="0.3" stroke-linejoin="round" />
<path d="M753.2 376.2L753.7 376.5L754.3 377L755.1 377.6L756 378.2L757.1 378.7L758.4 378.8L759.6 378.5L760.6 377.9L761.3 377.3L762 376.7L762.6 376.3L763.2 376.1L764 376L764.8 376L765.7 376.1L766.5 376.3L767.5 376.6L768.5 377.1L769.8 377.8L771.3 378.8L773 380L774.7 381.2L776.3 382.3L777.8 383.3L779 384L780 384.7L781 385.3L782.1 385.8L783.2 386.3L784.6 386.6L786.2 386.9L788.1 387L790 387L791.8 386.9L793.3 386.8L794.3 386.8L794.4 384.9L793.4 384.7L791.9 384.6L790.1 384.4L788.3 384.1L786.7 383.8L785.3 383.5L784.3 383.1L783.4 382.8L782.6 382.4L781.7 381.9L780.7 381.3L779.5 380.5L778.2 379.6L776.6 378.5L774.9 377.3L773.2 376.1L771.5 375L769.9 374.2L768.5 373.6L767.1 373.4L765.9 373.3L764.8 373.3L763.7 373.4L762.7 373.6L761.5 373.9L760.5 374.3L759.6 374.8L758.9 375.2L758.4 375.5L758.1 375.6L757.6 375.6L756.9 375.6L756 375.5L755.1 375.3L754.3 375.1L753.7 375Z" fill="#2a0410" stroke="#2a0410" stroke-width="0.3" stroke-linejoin="round" />
<path d="M753.4 388.7L754.4 388.9L755.8 389.1L757.5 389.3L759.3 389.6L761.2 389.7L762.9 389.8L764.5 389.8L766.1 389.8L767.8 389.7L769.4 389.6L771.1 389.4L772.7 389L774.5 388.5L776.3 387.8L778.1 387L779.8 386.3L781.1 385.6L782.1 385.2L781.5 383.4L780.4 383.7L779 384.1L777.2 384.6L775.4 385.1L773.6 385.5L772 385.8L770.5 386.1L769 386.2L767.5 386.4L766 386.5L764.5 386.5L762.9 386.6L761.3 386.6L759.6 386.5L757.8 386.4L756.1 386.3L754.7 386.2L753.6 386.1Z" fill="#2a0410" stroke="#2a0410" stroke-width="0.3" stroke-linejoin="round" />
<path d="M744.3 404.5L745.2 404.2L746.4 403.8L747.9 403.3L749.4 402.9L750.9 402.4L752.3 402L753.6 401.7L754.9 401.4L756.1 401.2L757.3 401L758.5 400.9L759.8 400.8L761.1 400.9L762.5 401.2L764.1 401.5L765.7 401.8L767.3 402.1L769 402.4L770.6 402.6L772.2 402.8L773.8 403.1L775.4 403.2L777.1 403.3L778.8 403.2L780.5 403L782.3 402.7L784 402.3L785.7 401.8L787.2 401.3L788.7 400.7L790.1 400.1L791.3 399.4L792.4 398.7L793.4 398L794.3 397.3L795.3 396.7L796.3 395.9L797.5 395L798.6 394.1L799.6 393.3L800.5 392.5L801.1 392L800.3 390.7L799.5 391L798.5 391.5L797.3 392.1L796 392.7L794.7 393.3L793.5 393.9L792.4 394.6L791.4 395.3L790.5 396L789.6 396.6L788.6 397.2L787.5 397.7L786.2 398.2L784.7 398.7L783.2 399.1L781.6 399.5L780 399.8L778.5 400L777.1 400L775.6 400L774.1 399.8L772.6 399.6L771 399.4L769.5 399.2L767.9 398.9L766.4 398.6L764.7 398.3L763.1 397.9L761.4 397.7L759.8 397.6L758.2 397.7L756.8 397.9L755.4 398.2L754.1 398.6L752.8 399.1L751.5 399.6L750.1 400.1L748.6 400.8L747.1 401.6L745.8 402.3L744.6 402.9L743.8 403.3Z" fill="#2a0410" stroke="#2a0410" stroke-width="0.3" stroke-linejoin="round" />
<path d="M786.9 330.5L787.3 331.4L787.8 332.6L788.4 333.9L789 335.4L789.6 336.9L790 338.2L790.3 339.5L790.5 340.9L790.7 342.4L790.9 343.8L791.2 345.2L791.7 346.4L792.4 347.3L793.3 348L794.3 348.4L795.2 348.6L796 348.6L796.8 348.6L797.7 348.4L798.6 348L799.4 347.6L800.1 347.1L800.6 346.7L801 346.4L800.3 345L799.9 345.2L799.2 345.4L798.5 345.7L797.8 345.9L797.2 346L796.7 346L796.1 346L795.5 345.9L795 345.8L794.6 345.7L794.3 345.5L794 345.1L793.7 344.4L793.5 343.4L793.3 342L793.1 340.5L792.9 339L792.5 337.5L792 336L791.4 334.5L790.8 332.9L790.2 331.5L789.7 330.3L789.3 329.5Z" fill="#2a0410" stroke="#2a0410" stroke-width="0.3" stroke-linejoin="round" />
<path d="M718.5 337.6L719.1 338L719.8 338.4L720.6 339L721.4 339.6L722.2 340.2L722.9 340.9L723.5 341.7L724.2 342.7L724.9 343.8L725.5 344.9L726.1 345.8L726.5 346.5L728.6 345L728.2 344.4L727.6 343.6L726.8 342.5L726 341.5L725.1 340.4L724.3 339.5L723.4 338.8L722.4 338.2L721.4 337.6L720.5 337.2L719.7 336.8L719.2 336.5Z" fill="#2a0410" stroke="#2a0410" stroke-width="0.3" stroke-linejoin="round" />
<path d="M748.4 312.9L749.2 313.2L750.3 313.5L751.7 313.9L753.3 314.3L754.9 314.7L756.5 314.9L758.1 314.9L759.8 314.9L761.6 314.8L763.3 314.7L765 314.4L766.6 314L768.1 313.5L769.4 312.9L770.7 312.2L771.8 311.4L772.9 310.5L773.8 309.5L774.7 308.4L775.4 307.2L775.9 306L776.3 304.8L776.7 303.6L777.1 302.5L777.4 301.2L777.6 299.9L777.7 298.7L777.9 297.5L778 296.5L778 295.8L776.1 295.4L775.9 296.1L775.6 297L775.3 298.1L774.9 299.2L774.4 300.4L774 301.4L773.5 302.4L773.1 303.4L772.6 304.5L772.1 305.4L771.5 306.2L770.9 306.9L770.2 307.6L769.4 308.2L768.6 308.9L767.6 309.4L766.6 309.9L765.5 310.3L764.3 310.6L762.9 310.8L761.3 310.9L759.7 311L758.2 311L756.8 311L755.4 310.9L754 310.7L752.5 310.5L751.2 310.2L750 309.9L749.1 309.8Z" fill="#2a0410" stroke="#2a0410" stroke-width="0.3" stroke-linejoin="round" />
<path d="M776.1 297.4L776.1 298L776.1 298.9L776.1 300L776.2 301.3L776.5 302.7L777.2 304L778.1 305L779.3 305.9L780.5 306.7L781.9 307.4L783.3 307.9L784.8 308.1L786.3 308.1L787.7 307.8L789.1 307.3L790.4 306.7L791.5 305.9L792.6 304.9L793.5 303.6L794.1 302.2L794.5 300.8L794.9 299.4L795.1 298.3L795.3 297.6L793.5 296.8L793.1 297.5L792.5 298.5L791.9 299.6L791.2 300.7L790.5 301.6L789.9 302.1L789.2 302.5L788.4 302.9L787.5 303.2L786.6 303.4L785.8 303.6L785.1 303.6L784.4 303.5L783.5 303.2L782.5 302.8L781.6 302.3L780.7 301.8L780.2 301.4L779.7 301L779.3 300.4L778.9 299.5L778.6 298.5L778.3 297.7L778 297Z" fill="#2a0410" stroke="#2a0410" stroke-width="0.3" stroke-linejoin="round" />
<path d="M772.7 303.7L772.8 304.4L773 305.3L773.2 306.5L773.4 307.8L773.8 309.1L774.3 310.4L775 311.5L775.8 312.7L776.6 313.9L777.5 314.9L778.4 316L779.3 316.9L780.2 317.9L781.2 318.7L782.2 319.6L783.1 320.3L783.9 320.9L784.4 321.4L785.5 320.2L785 319.7L784.4 319L783.6 318.1L782.8 317.1L782 316.2L781.2 315.2L780.4 314.3L779.6 313.2L778.7 312.2L777.9 311.2L777.2 310.2L776.7 309.2L776.3 308.2L776 307.1L775.7 306L775.5 304.9L775.4 303.9L775.2 303.2Z" fill="#2a0410" stroke="#2a0410" stroke-width="0.3" stroke-linejoin="round" />
<path d="M763.2 313.2L763.4 314L763.5 315.2L763.8 316.7L764 318.2L764.2 319.7L764.5 321.1L764.7 322.4L765 323.6L765.3 324.8L765.5 326L765.8 327.4L766 328.9L766.3 330.9L766.6 333.2L766.9 335.6L767.2 338L767.4 340L767.6 341.4L770.8 341.1L770.7 339.6L770.4 337.6L770.1 335.3L769.8 332.8L769.5 330.4L769.3 328.4L769 326.8L768.7 325.4L768.5 324.1L768.2 322.9L767.9 321.7L767.7 320.5L767.4 319.1L767 317.6L766.6 316.1L766.3 314.7L766 313.5L765.8 312.7Z" fill="#2a0410" stroke="#2a0410" stroke-width="0.3" stroke-linejoin="round" />
<path d="M744.4 341.4L744.5 340.7L744.6 339.7L744.7 338.6L744.8 337.4L745 336.3L745.2 335.4L745.4 334.6L745.7 333.8L746 333.1L746.3 332.5L746.6 332L746.8 331.8L747.1 331.5L747.6 331.3L748.2 331.1L748.8 330.9L749.4 330.9L749.8 331L750.1 331.1L750.5 331.4L750.9 331.9L751.2 332.4L751.6 333.2L752 333.9L752.3 335L752.6 336.3L752.9 337.8L753.1 339.3L753.3 340.6L753.5 341.5L756.7 341L756.5 340.1L756.3 338.8L756.1 337.3L755.8 335.7L755.4 334.1L755 332.8L754.5 331.7L754 330.8L753.4 329.9L752.7 329.1L751.9 328.4L750.9 327.9L749.9 327.6L748.8 327.5L747.6 327.5L746.5 327.7L745.4 328.1L744.4 328.7L743.6 329.5L742.9 330.5L742.4 331.4L742 332.4L741.7 333.4L741.4 334.5L741.1 335.6L740.9 336.9L740.8 338.2L740.7 339.4L740.6 340.4L740.5 341.1Z" fill="#2a0410" stroke="#2a0410" stroke-width="0.3" stroke-linejoin="round" />
<ellipse cx="785" cy="294.5" rx="4.6" ry="5.2" fill="#fff" stroke="#2a0410" stroke-width="1.4"/>
<circle cx="786.5" cy="295.9" r="1.9" fill="#7cbcec"/>
<path d="M778.7 310.6C779.7 309 785.2 308.3 788.1 308.2C791 308.1 795.7 307.9 796 309.8C796.2 311.6 791.4 317 789.7 319.2C788 321.5 787.1 323.4 785.7 323.2C784.4 322.9 783 319.7 781.8 317.6C780.6 315.6 777.6 312.1 778.7 310.6Z" fill="#e4f4fc"/>
<path d="M794.4 327.1C795.2 327.9 798.1 330 799.1 331.8C800.2 333.6 800.4 337.1 800.7 338.1" fill="none" stroke="#fff" stroke-width="1.8" stroke-linecap="round" stroke-linejoin="round" />
<path d="M721.2 339.4C720.6 341.8 718.1 348.6 717.3 353.6C716.5 358.6 716.7 366.7 716.5 369.3" fill="none" stroke="#fff" stroke-width="1.5" stroke-linecap="round" stroke-linejoin="round" />
<path d="M719.7 399.2C720.3 398.2 722.9 394 723.6 392.9" fill="none" stroke="#fff" stroke-width="1.8" stroke-linecap="round" stroke-linejoin="round" />
<path d="M787.3 363.8C788.4 362.9 797.6 358.1 800.7 356.4C803.8 354.7 805.5 353.3 805.7 353.6C806 353.9 804.1 356.9 802.3 358.3C800.4 359.8 796.9 361.3 794.4 362.3C791.9 363.2 786.3 364.8 787.3 363.8Z" fill="#fff"/>
<path d="M751.9 352C752.3 351 753.8 347.8 754.3 345.7C754.8 343.6 754.9 340.5 755.1 339.4" fill="none" stroke="#fff" stroke-width="1.3" stroke-linecap="round" stroke-linejoin="round" />
<path d="M792.8 381.9C793.6 383 796.2 386.6 797.5 388.2C798.9 389.8 800.2 390.8 800.7 391.4" fill="none" stroke="#fff" stroke-width="1.5" stroke-linecap="round" stroke-linejoin="round" />
<path d="M779.4 345.7C780.4 346.3 783.5 348.2 785 348.9C786.4 349.5 787.6 349.5 788.1 349.7" fill="none" stroke="#fff" stroke-width="1.8" stroke-linecap="round" stroke-linejoin="round" />
</g>
<path d="M586 334C586.6 333 588.2 331.1 589.6 328C591 324.9 591.9 319.1 594.3 315.5C596.6 311.9 600 309 603.7 306.1C607.4 303.2 611.9 300.1 616.3 298.2C620.7 296.3 626.1 294.9 630 294.5C633.9 294.1 636.8 294.5 639.4 296C642 297.5 642 302.2 645.7 303.5C649.4 304.8 656.8 302.5 661.5 303.5C666.2 304.5 669.8 307.4 674 309.5C678.2 311.6 683.5 313.8 686.6 316C689.8 318.2 690.7 320.7 692.9 322.5C695.1 324.3 697.4 325 700 327C702.6 329 707.2 333.4 708.7 334.7" fill="none" stroke="#2a0410" stroke-width="2.6" stroke-linecap="round" stroke-linejoin="round" />
<path d="M709 333C709.6 335.1 712.2 340.9 712.8 345.7C713.4 350.4 712.6 356.8 712.5 361.5C712.4 366.2 712 370.1 712 374C712 377.9 712.7 381.1 712.5 385C712.3 388.9 711.9 394.5 711 397.7C710.1 400.9 707.7 402.9 707 404" fill="none" stroke="#2a0410" stroke-width="4.6" stroke-linecap="round" stroke-linejoin="round" />
<path d="M714 327C715.6 326.2 720.7 323.9 723.6 322.3C726.5 320.7 729.1 319.6 731.5 317.5C733.9 315.4 735.2 311.9 737.8 310C740.4 308.1 745.1 307.3 747.2 306C749.3 304.7 748.2 304 750.3 302C752.4 300 756.6 296.7 759.8 294C762.9 291.3 766.1 288.7 769.2 286C772.4 283.3 776.6 280.3 778.7 278C780.8 275.7 781.5 273 782 272" fill="none" stroke="#2a0410" stroke-width="2.6" stroke-linecap="round" stroke-linejoin="round" />
<path d="M704 405C706.3 405.5 712 407.2 718 408C724 408.8 733.5 409.3 740 410C746.5 410.7 754.2 411.7 757 412" fill="none" stroke="#2a0410" stroke-width="1.6" stroke-linecap="round" stroke-linejoin="round" />
<path d="M452.3 394.1L452.7 392.8L453.1 390.9L453.7 388.7L454.5 386.5L455.5 384.5L456.7 382.9L458.4 381.9L460.5 381.1L463 380.4L465.6 379.8L468.1 379.1L470.4 378.2L472.2 377.1L473.8 375.8L475.3 374.5L476.7 373.2L478.2 371.9L480 370.6L482 369.4L484.2 368.1L486.6 366.7L489.1 365.4L491.6 364.2L494.1 363L496.6 361.9L499.1 360.8L501.8 359.8L504.4 358.8L507.1 357.8L509.7 356.8L512.3 355.9L515 355L517.6 354.1L520.2 353.2L522.9 352.3L525.5 351.4L528.2 350.5L530.8 349.6L533.4 348.7L536 347.8L538.6 346.9L541.3 346L543.9 345.1L546.6 344.2L549.2 343.3L551.9 342.4L554.5 341.5L557 340.6L559.5 339.8L562 338.9L564.4 338L566.7 337.2L569 336.5L571.1 335.9L573.2 335.5L575.4 335.1L577.5 334.8L579.4 334.5L581 334.3L582.2 334.2L581.8 330.8L580.6 331L579 331.2L577 331.5L574.8 331.9L572.6 332.3L570.3 332.9L568.1 333.5L565.7 334.3L563.4 335.1L560.9 336L558.5 336.9L556 337.8L553.5 338.7L550.9 339.6L548.3 340.5L545.6 341.5L543 342.4L540.3 343.4L537.7 344.3L535.1 345.2L532.5 346.2L529.9 347.1L527.3 348L524.7 349L522.1 349.9L519.4 350.8L516.8 351.7L514.2 352.6L511.5 353.6L508.9 354.6L506.2 355.6L503.6 356.6L500.9 357.6L498.3 358.7L495.7 359.8L493.1 361L490.6 362.2L488.1 363.5L485.6 364.9L483.2 366.3L480.9 367.6L478.8 369L477 370.4L475.4 371.8L474 373.2L472.7 374.5L471.3 375.7L469.6 376.8L467.6 377.7L465.2 378.4L462.7 379.1L460.1 379.8L457.8 380.8L455.9 382.1L454.5 383.9L453.5 386.1L452.9 388.4L452.4 390.7L452 392.6L451.7 393.9Z" fill="#3a0008" stroke="#3a0008" stroke-width="0.3" stroke-linejoin="round" />
<path d="M629.1 165.9L628.9 166.7L628.6 167.9L628.3 169.2L627.9 170.6L627.5 172L627.1 173.3L626.5 174.5L625.7 175.8L624.8 177.2L624 178.5L623.4 179.9L623 181.4L623.2 182.9L623.7 184.1L624.5 185.1L625.1 186L625.5 186.9L625.5 187.7L625.2 188.7L624.5 189.8L623.5 191.1L622.5 192.4L621.5 193.7L620.6 195.1L620 196.6L619.5 198L619.1 199.3L618.7 200.6L618.2 201.7L617.4 202.8L616.3 203.8L614.9 204.8L613.3 205.9L611.6 206.9L609.9 207.8L608.2 208.8L606.6 209.6L605.1 210.5L603.5 211.3L602 212L600.4 212.7L598.8 213.4L597.3 214L595.8 214.6L594.2 215.1L592.7 215.6L591.1 216.1L589.5 216.6L587.9 217L586.1 217.5L584.3 218L582.6 218.5L581 219L579.7 219.7L578.7 220.5L577.9 221.5L577.4 222.5L577.1 223.6L577.1 224.7L577.2 225.9L577.8 227.1L578.6 228.3L579.5 229.3L580.3 230.3L580.9 231.2L581.2 232L581.3 233.1L581.1 234.5L580.8 236L580.5 237.5L580.1 238.8L579.9 239.7L582.1 240.3L582.3 239.4L582.7 238.1L583.2 236.6L583.6 234.9L583.8 233.2L583.8 231.6L583.3 230L582.5 228.7L581.6 227.6L580.8 226.6L580.2 225.7L580 225.1L579.9 224.5L579.9 223.9L580 223.4L580.2 222.9L580.5 222.4L581.1 221.9L582.1 221.4L583.4 220.9L585 220.4L586.8 219.9L588.6 219.4L590.3 218.8L591.8 218.3L593.4 217.8L595 217.3L596.6 216.8L598.2 216.2L599.8 215.6L601.4 214.9L603 214.2L604.6 213.4L606.2 212.6L607.8 211.7L609.4 210.8L611 209.9L612.8 208.9L614.5 207.8L616.2 206.7L617.7 205.5L619 204.2L620 202.8L620.7 201.4L621.1 200L621.5 198.6L621.9 197.3L622.4 196.1L623.1 194.8L624 193.5L625 192.1L625.9 190.7L626.6 189.3L627.1 187.9L627.1 186.5L626.6 185.3L626 184.2L625.4 183.2L625.1 182.4L625 181.6L625.2 180.6L625.8 179.4L626.5 178.1L627.2 176.7L628 175.3L628.5 173.9L628.9 172.4L629.2 170.9L629.5 169.4L629.6 168.1L629.8 166.9L629.9 166.1Z" fill="#4a0006" stroke="#4a0006" stroke-width="0.3" stroke-linejoin="round" />
<g clip-path="url(#ccl)">
<path d="M600 440C600.2 436.7 602.8 434.5 607 432C611.2 429.5 617 428 625 425C633 422 644.2 417.3 655 414C665.8 410.7 679.2 406.8 690 405C700.8 403.2 708.3 402.5 720 403C731.7 403.5 752.5 405.2 760 408C767.5 410.8 768.3 418.5 765 420C761.7 421.5 748.8 418 740 417C731.2 416 720.3 414.2 712 414C703.7 413.8 698.7 414.7 690 416C681.3 417.3 669.2 419.7 660 422C650.8 424.3 642.5 427 635 430C627.5 433 619.8 436.3 615 440C610.2 443.7 608.5 452 606 452C603.5 452 599.8 443.3 600 440Z" fill="#a45a0c" opacity="0.85"/>
<path d="M609.4 463.6C611.3 462.9 616.8 461 620.5 459.7C624.1 458.4 626.2 457.4 631.5 455.7C636.7 454 645.4 451.3 651.9 449.4C658.5 447.6 663.7 446 670.8 444.7C677.9 443.4 685.2 442.4 694.4 441.6C703.6 440.8 716.7 440.1 725.9 440C735 439.9 743.8 440.4 749.5 440.8C755.1 441.2 758.2 442.1 760 442.4" fill="none" stroke="#b01a3c" stroke-width="2.1" stroke-linecap="round" stroke-linejoin="round" />
<path d="M614.2 460.1C614.4 462 613.9 467.2 615.7 471.5C617.6 475.7 620.7 481.7 625.2 485.6C629.6 489.6 636.2 492.6 642.5 495.1C648.8 497.6 657.4 499.5 662.9 500.6C668.4 501.7 673.4 501.5 675.5 501.7" fill="none" stroke="#b01a3c" stroke-width="1.9" stroke-linecap="round" stroke-linejoin="round" />
<path d="M620.5 459.2C621 461.2 621.2 467.5 623.6 471.5C626 475.5 629.6 479.7 634.6 483.3C639.6 486.8 646.7 490.3 653.5 492.7C660.3 495.1 668.7 496.6 675.5 497.4C682.3 498.2 691.2 497.4 694.4 497.4" fill="none" stroke="#b01a3c" stroke-width="1.9" stroke-linecap="round" stroke-linejoin="round" />
<path d="M627.5 458.1C628.6 460.2 630.5 466.9 633.8 470.7C637.1 474.5 641.8 478 647.2 480.9C652.6 483.8 659.3 486.1 666.1 488C672.9 489.8 680.8 491.4 688.1 491.9C695.4 492.4 706.5 491.3 710.1 491.1" fill="none" stroke="#b01a3c" stroke-width="1.9" stroke-linecap="round" stroke-linejoin="round" />
<path d="M635.4 455.7C637.1 457.8 641 464.6 645.6 468.3C650.2 472 656.9 475.1 662.9 477.8C669 480.4 675.3 482.5 681.8 484.1C688.4 485.6 695.4 486.9 702.3 487.2C709.1 487.5 719.3 485.9 722.7 485.6" fill="none" stroke="#b01a3c" stroke-width="1.9" stroke-linecap="round" stroke-linejoin="round" />
<path d="M645.6 453.4C647.7 455.1 653.2 460.3 658.2 463.6C663.2 466.9 669.2 470.4 675.5 473C681.8 475.7 689.2 477.9 696 479.3C702.8 480.8 710.1 481.7 716.4 481.7C722.7 481.7 730.8 479.7 733.7 479.3" fill="none" stroke="#b01a3c" stroke-width="1.9" stroke-linecap="round" stroke-linejoin="round" />
<path d="M656.6 450.7C659 452.1 665.6 456.1 670.8 458.9C676 461.7 681.8 465 688.1 467.5C694.4 470 702 472.5 708.6 473.8C715.1 475.1 721.9 475.5 727.4 475.4C732.9 475.3 739.2 473.4 741.6 473" fill="none" stroke="#b01a3c" stroke-width="1.9" stroke-linecap="round" stroke-linejoin="round" />
<path d="M669.2 447.9C671.6 449 677.9 452.5 683.4 454.9C688.9 457.4 696 460.6 702.3 462.8C708.6 465 715.4 467.3 721.1 468.3C726.9 469.4 732.2 469.4 736.9 469.1C741.6 468.8 747.4 467.1 749.5 466.7" fill="none" stroke="#b01a3c" stroke-width="1.9" stroke-linecap="round" stroke-linejoin="round" />
<path d="M683.4 445.5C685.7 446.4 692 448.9 697.5 451C703 453.1 710.4 456.3 716.4 458.1C722.5 459.9 728.7 461.4 733.7 462C738.7 462.7 742.6 462.4 746.3 462C750 461.6 754.2 460.1 755.8 459.7" fill="none" stroke="#b01a3c" stroke-width="1.9" stroke-linecap="round" stroke-linejoin="round" />
<path d="M697.5 443.5C700.2 444.2 708 446.2 713.3 447.9C718.5 449.5 723.8 452.1 729 453.4C734.3 454.7 740 455.5 744.7 455.7C749.5 456 755.2 455.1 757.3 454.9" fill="none" stroke="#b01a3c" stroke-width="1.9" stroke-linecap="round" stroke-linejoin="round" />
<path d="M711.7 441.9C714.1 442.5 720.9 444.3 725.9 445.5C730.8 446.7 736.9 448.4 741.6 449.1C746.3 449.8 752.1 449.6 754.2 449.8" fill="none" stroke="#b01a3c" stroke-width="1.9" stroke-linecap="round" stroke-linejoin="round" />
<path d="M725.9 440.8C728 441.2 734.3 442.7 738.4 443.5C742.6 444.2 748.9 445.2 751 445.5" fill="none" stroke="#b01a3c" stroke-width="1.9" stroke-linecap="round" stroke-linejoin="round" />
<path d="M607.2 447.2C611.1 445.9 623.5 442.2 630.8 439.3C638.1 436.4 646 432.8 651.2 429.9C656.5 427 659.4 423.9 662.3 422C665.1 420.2 667.5 419.4 668.6 418.9" fill="none" stroke="#b01a3c" stroke-width="1.9" stroke-linecap="round" stroke-linejoin="round" />
<path d="M610.3 453.5C614.5 452.2 627.6 448.5 635.5 445.6C643.4 442.7 651.8 440.4 657.5 436.2C663.3 432 668 423.1 670.1 420.5" fill="none" stroke="#b01a3c" stroke-width="1.9" stroke-linecap="round" stroke-linejoin="round" />
<path d="M616.6 458.2C620.8 457.2 634.2 454 641.8 451.9C649.4 449.8 654.9 447.7 662.3 445.6C669.6 443.5 676.2 440.9 685.9 439.3C695.5 437.8 714.3 436.7 720 436.2" fill="none" stroke="#b01a3c" stroke-width="1.9" stroke-linecap="round" stroke-linejoin="round" />
<path d="M670.1 425.2C674.1 424.4 685.4 421.5 693.7 420.5C702 419.4 712.2 418.7 720 418.9C727.8 419 734 419.5 740.6 421.2C747.2 422.9 756.3 427.8 759.5 429.1" fill="none" stroke="#b01a3c" stroke-width="1.9" stroke-linecap="round" stroke-linejoin="round" />
<path d="M667 433C671.4 432.3 684.9 429.2 693.7 428.3C702.6 427.4 712.1 427.4 720 427.5C727.9 427.7 734.3 427.8 740.9 429.1C747.6 430.4 756.7 434.3 759.8 435.4" fill="none" stroke="#b01a3c" stroke-width="1.9" stroke-linecap="round" stroke-linejoin="round" />
<path d="M660.7 440.9C664.9 440 676 436.6 685.9 435.4C695.7 434.2 710.8 433.8 720 433.8C729.2 433.8 734.3 434.2 740.9 435.4C747.5 436.6 756.4 440.2 759.5 441.2" fill="none" stroke="#b01a3c" stroke-width="1.9" stroke-linecap="round" stroke-linejoin="round" />
</g>
<g clip-path="url(#rcl)">
<path d="M360.3 390.8C362.2 390.3 374 393.4 379.2 393.3C384.5 393.1 387.6 391.7 391.8 390C396 388.3 399.7 384.8 404.4 383.2C409.1 381.7 414.8 381.4 420 380.7C425.2 380 430.6 379.5 435.9 378.9C441.1 378.4 446.2 378.7 451.5 377.4C456.7 376.1 461.5 373.3 467.3 371.1C473.1 368.9 479.3 367.1 486.2 364.3C493.1 361.5 502.6 357.8 508.9 354.3C515.2 350.7 516.8 346.9 524 342.9C531.1 338.9 545.4 329.9 551.7 330.3C557.9 330.8 564.2 340 561.7 345.4C559.2 350.9 546.6 358.5 536.5 363.1C526.5 367.7 510.5 369.4 501.3 373.1C492.1 376.9 487 381.9 481.2 385.7C475.3 389.5 471.1 392.4 466.1 395.8C461 399.1 456.8 403.3 451 405.9C445.1 408.4 437.5 410.9 430.8 410.9C424.1 410.9 418.2 407.5 410.7 405.9C403.1 404.2 392.6 402.5 385.5 400.8C378.4 399.1 372.1 397.5 367.9 395.8C363.7 394.1 358.5 391.2 360.3 390.8Z" fill="#a50000" />
<path d="M404.4 384.5C406.1 383 414.7 382.7 420.8 381.9C426.8 381.2 435 380.8 440.9 380.2C446.8 379.6 451 379.6 456 378.2C461 376.8 466.1 373.8 471.1 371.9C476.1 370 484.5 366.4 486.2 366.8C487.9 367.3 484.9 371.9 481.2 374.4C477.4 376.9 469.4 379.6 463.5 381.9C457.7 384.3 452.2 387 445.9 388.7C439.6 390.5 431.7 392.2 425.8 392.5C419.9 392.9 414.3 392.1 410.7 390.8C407.1 389.4 402.7 385.9 404.4 384.5Z" fill="#6e0000" />
<path d="M451 317.8C452.6 316.7 460.2 320.3 466.1 320.3C471.9 320.3 479.1 318.6 486.2 317.8C493.3 316.9 504.7 314.2 508.9 315.2C513.1 316.3 514.3 322.2 511.4 324.1C508.4 325.9 498 325.7 491.2 326.6C484.5 327.4 477 329.1 471.1 329.1C465.2 329.1 459.4 328.5 456 326.6C452.6 324.7 449.3 318.8 451 317.8Z" fill="#7a0000" />
<path d="M461 355.5C463.5 354.7 474.5 357 481.2 356.8C487.9 356.6 496.3 355.3 501.3 354.3C506.3 353.2 510.1 349.4 511.4 350.5C512.6 351.5 513.1 358.2 508.9 360.6C504.7 362.9 493.3 364.1 486.2 364.3C479.1 364.5 470.3 363.3 466.1 361.8C461.9 360.3 458.5 356.4 461 355.5Z" fill="#7a0000" />
<path d="M393.1 327.8C395.2 327.8 401 333.7 403.1 337.9C405.2 342.1 406.5 351.7 405.7 353C404.8 354.3 400.6 348 398.1 345.4C395.6 342.9 391.4 340.8 390.6 337.9C389.7 335 391 327.8 393.1 327.8Z" fill="#8a0000" />
<path d="M445.9 310.2C453.1 304.3 465.2 296.4 476.1 295.1C487 293.8 505.5 291.3 511.4 302.7C517.3 314 515.6 352.4 511.4 363.1C507.2 373.8 494.6 366.4 486.2 366.8C477.8 367.3 468.6 367.5 461 365.6C453.5 363.7 445.5 361.4 440.9 355.5C436.3 349.6 432.5 337.9 433.3 330.3C434.2 322.8 438.8 316.1 445.9 310.2Z" fill="#8c0000" />
<path d="M508.9 275C515.6 269.9 541.4 269.1 549.1 275C556.9 280.8 554.8 299.3 555.4 310.2C556.1 321.1 556.1 334.3 552.9 340.4C549.8 346.5 542.6 344.6 536.5 346.7C530.5 348.8 520.6 355.7 516.4 353C512.2 350.3 512.6 338.3 511.4 330.3C510.1 322.4 509.3 314.4 508.9 305.2C508.4 295.9 502.1 280 508.9 275Z" fill="#d40000" />
<path d="M511.4 290.1L521.4 325.3L513.9 350.5L508.9 317.8Z" fill="#a40000"/>
<path d="M521.4 325.3L536.5 310.2L551.7 340.4L518.9 351.7Z" fill="#b80000"/>
<path d="M516.4 280L536.5 282.5L536.5 310.2L521.4 325.3Z" fill="#f01818"/>
<path d="M536.5 282.5L549.1 280L555.4 312.7L551.7 340.4L536.5 310.2Z" fill="#c00000"/>
<path d="M373.9 320.5C377.1 320.2 388.9 324.9 394.4 328.3C399.9 331.7 405.4 337.8 407 340.9C408.6 344.1 407 347.5 403.8 347.2C400.7 346.9 392.8 342.2 388.1 339.3C383.4 336.4 377.9 333 375.5 329.9C373.2 326.7 370.8 320.7 373.9 320.5Z" fill="#7a0000" />
<path d="M403.8 344.1C407 345.1 414.3 354.5 419.6 359.8C424.8 365 434.3 372.4 435.3 375.5C436.3 378.7 430.1 380.2 425.9 378.7C421.7 377.1 414.3 370.3 410.1 366.1C405.9 361.9 401.7 357.2 400.7 353.5C399.6 349.8 400.7 343 403.8 344.1Z" fill="#8a0000" />
<path d="M432.2 328.3C436.9 327.3 453.1 331.2 463.6 331.5C474.1 331.7 486.2 328.8 495.1 329.9C504 330.9 518.2 335.7 517.1 337.8C516.1 339.9 498.8 342.1 488.8 342.5C478.8 342.9 466.2 341.1 457.3 340.3C448.4 339.5 439.5 339.8 435.3 337.8C431.1 335.8 427.4 329.4 432.2 328.3Z" fill="#6a0000" />
<path d="M353.5 347.2C355.1 345.9 365.6 349.3 372.4 351.9C379.2 354.5 389.2 358.5 394.4 362.9C399.6 367.4 405.4 377.4 403.8 378.7C402.3 380 391.8 373.9 385 370.8C378.1 367.6 368.2 363.7 362.9 359.8C357.7 355.9 351.9 348.5 353.5 347.2Z" fill="#c00000" />
<path d="M418.1 229C418.6 224.9 420.8 221.2 423.9 218.8C427.1 216.3 432 214.6 437.1 214.4C442.2 214.2 449.7 214.9 454.6 217.3C459.5 219.8 464.6 225.1 466.3 229C468 232.9 466.8 237.8 464.8 240.7C462.9 243.6 457 244.1 454.6 246.5C452.2 249 449.2 252.8 450.2 255.3C451.2 257.7 456.8 258.7 460.4 261.1C464.1 263.6 469.7 266 472.1 269.9C474.6 273.8 476.5 280.1 475 284.5C473.6 288.9 467.3 293.2 463.4 296.2C459.5 299.1 455.6 301.5 451.7 302C447.8 302.5 442.9 301 440 299.1C437.1 297.1 434.6 293.7 434.2 290.3C433.7 286.9 435.6 282 437.1 278.6C438.5 275.2 443.4 272.8 442.9 269.9C442.4 267 436.6 264 434.2 261.1C431.7 258.2 430.5 255.3 428.3 252.4C426.1 249.4 422.7 247.5 421 243.6C419.3 239.7 417.6 233.1 418.1 229Z" fill="url(#gr)" stroke="#a80000" stroke-width="0.9"/>
<path d="M464.1 238.4C465.6 235.5 469.7 231.8 474.4 229.6C479 227.5 486 225.3 491.9 225.3C497.7 225.3 505.5 227 509.4 229.6C513.3 232.3 515.7 237.4 515.2 241.3C514.8 245.2 509.4 250.1 506.5 253C503.6 255.9 498.7 255.9 497.7 258.8C496.8 261.8 501.6 266.6 500.6 270.5C499.7 274.4 495.3 279.8 491.9 282.2C488.5 284.6 483.1 286.1 480.2 285.1C477.3 284.2 474.9 279.8 474.4 276.4C473.9 273 477.8 268.6 477.3 264.7C476.8 260.8 473.4 255.9 471.4 253C469.5 250.1 466.8 249.6 465.6 247.2C464.4 244.7 462.7 241.3 464.1 238.4Z" fill="url(#gr)" stroke="#a80000" stroke-width="0.9"/>
<path d="M433.3 200.7C435.2 197.3 442.5 192.2 447.9 189C453.2 185.9 459.1 183.7 465.4 181.7C471.7 179.8 479.5 177.6 485.8 177.3C492.2 177.1 500 177.8 503.4 180.3C506.8 182.7 507.3 188 506.3 191.9C505.3 195.8 501.4 200.5 497.5 203.6C493.6 206.8 488.3 209 482.9 210.9C477.6 212.9 471.2 214.8 465.4 215.3C459.6 215.8 452.8 214.8 447.9 213.8C443 212.9 438.6 211.6 436.2 209.5C433.8 207.3 431.3 204.1 433.3 200.7Z" fill="url(#gr2)" stroke="#a80000" stroke-width="0.9"/>
<path d="M493 207.5C494.5 203.1 500.3 199.5 504.7 195.8C509.1 192.2 514.4 187.6 519.3 185.6C524.2 183.7 530.5 182.4 533.9 184.1C537.3 185.8 539.7 191 539.7 195.8C539.7 200.7 536.3 208 533.9 213.3C531.5 218.7 528.1 224.3 525.1 227.9C522.2 231.6 519.8 234.8 516.4 235.2C513 235.7 508.1 233.1 504.7 230.9C501.3 228.7 497.9 226 495.9 222.1C494 218.2 491.6 211.9 493 207.5Z" fill="url(#gr2)" stroke="#a80000" stroke-width="0.9"/>
<path d="M518 180.4C518 177.5 529.6 173.6 535.5 171.6C541.3 169.7 548.1 168.2 553 168.7C557.9 169.2 564.7 171.6 564.7 174.6C564.7 177.5 557.9 183.8 553 186.2C548.1 188.7 541.3 190.1 535.5 189.2C529.6 188.2 518 183.3 518 180.4Z" fill="url(#gr2)" stroke="#a80000" stroke-width="0.9"/>
<path d="M370.4 235.9C371.6 233 376 228.3 380.6 225.7C385.2 223 391.8 221 398.1 219.8C404.4 218.6 413.7 217.4 418.5 218.4C423.4 219.3 426.8 222.2 427.3 225.7C427.8 229.1 424.9 235.4 421.5 238.8C418.1 242.2 412.7 244.9 406.9 246.1C401 247.3 392 246.6 386.4 246.1C380.8 245.6 376 244.9 373.3 243.2C370.6 241.5 369.1 238.8 370.4 235.9Z" fill="url(#gr2)" stroke="#a80000" stroke-width="0.9"/>
<path d="M378.6 265.8C379.6 262 384.2 255.6 388.9 252.7C393.5 249.8 401 248.3 406.4 248.3C411.7 248.3 418.1 249.8 421 252.7C423.9 255.6 425.4 261.7 423.9 265.8C422.4 270 417.1 275.1 412.2 277.5C407.4 280 399.6 280.7 394.7 280.4C389.8 280.2 385.7 278.5 383 276.1C380.3 273.6 377.7 269.7 378.6 265.8Z" fill="url(#gr)" stroke="#a80000" stroke-width="0.9"/>
<path d="M326.9 270.9C328.3 267 333.7 261.9 338.5 259.2C343.4 256.5 350.2 255.1 356.1 254.8C361.9 254.6 370.2 255.6 373.6 257.7C377 259.9 378.5 264.3 376.5 268C374.6 271.6 367.7 276.5 361.9 279.6C356.1 282.8 346.8 286.5 341.5 286.9C336.1 287.4 332.2 285.2 329.8 282.6C327.4 279.9 325.4 274.8 326.9 270.9Z" fill="url(#gr2)" stroke="#a80000" stroke-width="0.9"/>
<path d="M337.3 291.2C338.3 285.8 344.9 280 350.5 276.6C356.1 273.2 364.6 270.7 370.9 270.7C377.2 270.7 384.5 273.2 388.4 276.6C392.3 280 394.7 285.8 394.3 291.2C393.8 296.5 393.8 305.8 385.5 308.7C377.2 311.6 352.7 311.6 344.6 308.7C336.6 305.8 336.3 296.5 337.3 291.2Z" fill="url(#gr)" stroke="#a80000" stroke-width="0.9"/>
<path d="M390.8 290.5C392.2 285.8 398.1 281.7 402.5 280.2C406.8 278.8 413.7 279.5 417.1 281.7C420.5 283.9 422.9 289 422.9 293.4C422.9 297.8 421.9 305.5 417.1 308C412.2 310.4 398.1 310.9 393.7 308C389.3 305.1 389.3 295.1 390.8 290.5Z" fill="url(#gr2)" stroke="#a80000" stroke-width="0.9"/>
<path d="M508.3 259C510 252.1 513.2 245.8 517.1 241.4C521 237.1 526.8 233.7 531.7 232.7C536.6 231.7 542.9 232.2 546.3 235.6C549.7 239 551.6 246.3 552.1 253.1C552.6 259.9 550.7 268.7 549.2 276.5C547.8 284.3 545.3 293 543.4 299.8C541.4 306.6 542.9 314.4 537.5 317.4C532.2 320.3 516.4 323.2 511.3 317.4C506.1 311.5 507.4 292 506.9 282.3C506.4 272.6 506.6 265.8 508.3 259Z" fill="url(#gr)" stroke="#a80000" stroke-width="0.9"/>
<path d="M384.8 221C385.7 218.3 394 213.2 399.4 210.8C404.7 208.4 411.5 206.7 416.9 206.4C422.2 206.2 430 207.1 431.5 209.3C432.9 211.5 429.5 217.4 425.6 219.6C421.7 221.7 413.5 221.3 408.1 222.5C402.8 223.7 397.4 227.1 393.5 226.9C389.6 226.6 383.8 223.7 384.8 221Z" fill="url(#gr2)" stroke="#a80000" stroke-width="0.9"/>
<path d="M544.9 209.8C547.1 205 552.9 198.1 556.6 195.2C560.4 192.3 565 189.9 567.4 192.3C569.9 194.7 571.6 204 571.2 209.8C570.9 215.7 568.8 223 565.4 227.3C562 231.7 554.4 236.6 550.8 236.1C547.1 235.6 544.5 228.8 543.5 224.4C542.5 220 542.7 214.7 544.9 209.8Z" fill="url(#gr2)" stroke="#a80000" stroke-width="0.9"/>
<path d="M348.1 303.2C349.6 298.6 353.7 293 358.3 290.1C362.9 287.2 371 285 375.8 285.7C380.7 286.4 386.1 290.6 387.5 294.5C389 298.4 386.5 305.2 384.6 309.1C382.6 313 375.8 314.4 375.8 317.8C375.8 321.2 381.2 325.9 384.6 329.5C388 333.2 395.8 336.8 396.3 339.7C396.8 342.6 391.9 346.8 387.5 347C383.1 347.3 374.9 343.6 370 341.2C365.1 338.8 361.7 336.3 358.3 332.4C354.9 328.5 351.3 322.7 349.6 317.8C347.9 313 346.6 307.8 348.1 303.2Z" fill="url(#gr)" stroke="#a80000" stroke-width="0.9"/>
<path d="M387 300.1C387.3 295 390.7 288.7 394.3 285.5C398 282.3 405.1 280.2 408.9 281.1C412.8 282.1 416.5 286.7 417.7 291.3C418.9 296 418.2 304.2 416.2 308.9C414.3 313.5 409.9 317.9 406 319.1C402.1 320.3 396.1 319.3 392.9 316.2C389.7 313 386.8 305.2 387 300.1Z" fill="url(#gr)" stroke="#a80000" stroke-width="0.9"/>
<path d="M428.6 315.7C429.1 311.9 434.2 305.8 438.8 302.6C443.4 299.4 450.5 297.3 456.3 296.8C462.2 296.3 470 297.5 473.8 299.7C477.7 301.9 480.7 306.5 479.7 309.9C478.7 313.3 472.9 317.4 468 320.1C463.1 322.8 455.8 325 450.5 326C445.1 326.9 439.5 327.7 435.9 326C432.2 324.3 428.1 319.6 428.6 315.7Z" fill="url(#gr)" stroke="#a80000" stroke-width="0.9"/>
<path d="M402.1 339.6C403.5 335.7 408.2 330.1 412.3 328C416.4 325.8 422.8 325 426.9 326.5C431 328 435.7 332.1 437.1 336.7C438.6 341.3 437.8 349.4 435.7 354.2C433.5 359.1 428.4 364.9 424 365.9C419.6 366.9 412.8 362.5 409.4 360.1C406 357.6 404.8 354.7 403.5 351.3C402.3 347.9 400.6 343.5 402.1 339.6Z" fill="url(#gr)" stroke="#a80000" stroke-width="0.9"/>
<path d="M434.4 343.2C435.1 339 437.5 332 441.7 328.6C445.8 325.2 453.8 322.7 459.2 322.7C464.5 322.7 471.1 325.2 473.8 328.6C476.5 332 476.7 338.8 475.3 343.2C473.8 347.5 469.7 352.4 465 354.8C460.4 357.3 452.1 358 447.5 357.8C442.9 357.5 439.5 355.8 437.3 353.4C435.1 350.9 433.6 347.3 434.4 343.2Z" fill="url(#gr)" stroke="#a80000" stroke-width="0.9"/>
<path d="M472.3 340.5C473.7 336.1 477.9 329.5 482.5 325.9C487.1 322.2 495.2 318.6 500 318.6C504.9 318.6 510.2 321.8 511.7 325.9C513.2 330 511.2 338.5 508.8 343.4C506.4 348.3 501.5 352.7 497.1 355.1C492.7 357.5 486.4 358.5 482.5 358C478.6 357.5 475.4 355.1 473.7 352.2C472 349.2 470.8 344.9 472.3 340.5Z" fill="url(#gr2)" stroke="#a80000" stroke-width="0.9"/>
<path d="M321.7 294.6C322.1 290.5 327.7 285.4 331.9 284.4C336 283.4 343.1 286.1 346.5 288.8C349.9 291.4 352.8 296.5 352.3 300.4C351.8 304.3 347.5 310.7 343.6 312.1C339.7 313.6 332.6 312.1 329 309.2C325.3 306.3 321.2 298.7 321.7 294.6Z" fill="url(#gr2)" stroke="#a80000" stroke-width="0.9"/>
<path d="M323.8 324.7C325.2 320.1 329.9 314 334 311.6C338.1 309.2 344.2 308.7 348.6 310.1C353 311.6 357.8 316.5 360.3 320.4C362.7 324.2 364.6 329.4 363.2 333.5C361.7 337.6 356.4 343 351.5 345.2C346.6 347.4 338.4 347.6 334 346.6C329.6 345.7 326.9 343 325.2 339.3C323.5 335.7 322.3 329.4 323.8 324.7Z" fill="url(#gr)" stroke="#a80000" stroke-width="0.9"/>
<path d="M344.3 369.3C345.8 366.9 352.6 363.5 358.9 362C365.2 360.5 375.9 359.8 382.3 360.5C388.6 361.3 395.9 364 396.9 366.4C397.8 368.8 393.5 373.2 388.1 375.1C382.8 377.1 371.1 377.8 364.7 378.1C358.4 378.3 353.6 378.1 350.1 376.6C346.7 375.1 342.8 371.7 344.3 369.3Z" fill="url(#gr)" stroke="#a80000" stroke-width="0.9"/>
<path d="M363.4 384.7C363.4 382.2 371 378.8 376.6 377.4C382.2 375.9 391.7 375.4 397 375.9C402.4 376.4 408.7 378.1 408.7 380.3C408.7 382.5 402.4 387.1 397 389C391.7 391 382.2 392.7 376.6 392C371 391.2 363.4 387.1 363.4 384.7Z" fill="url(#gr)" stroke="#a80000" stroke-width="0.9"/>
<path d="M328.4 352.7C329.9 350.1 339.1 346.7 345.9 345.4C352.7 344.2 362 344.2 369.3 345.4C376.6 346.7 387.3 350.1 389.7 352.7C392.1 355.4 388.7 359.8 383.9 361.5C379 363.2 368.3 363 360.5 363C352.7 363 342.5 363.2 337.2 361.5C331.8 359.8 326.9 355.4 328.4 352.7Z" fill="url(#gr2)" stroke="#a80000" stroke-width="0.9"/>
<path d="M418 204.4L419 205.2L420.4 206.5L422.1 208L424 209.5L426 211L427.9 212.2L429.8 213.3L431.7 214.4L433.7 215.3L435.8 216.2L438.2 216.9L440.8 217.4L443.8 217.7L447 217.7L450.5 217.7L454.1 217.5L457.7 217.1L461.2 216.6L464.6 216L468.1 215.1L471.6 214.1L475.1 213L478.3 212L481.4 211.1L484.2 210.2L486.9 209.4L489.4 208.7L491.9 207.9L494.2 207L496.6 206L499 204.7L501.5 203.3L503.8 201.7L506 200.3L507.8 199.1L509.1 198.2L508.6 197.3L507.2 198.2L505.4 199.3L503.2 200.7L500.8 202.1L498.3 203.5L496 204.6L493.7 205.6L491.4 206.4L489 207.2L486.5 208L483.8 208.8L481 209.6L477.9 210.6L474.6 211.6L471.2 212.7L467.7 213.6L464.3 214.5L460.9 215.1L457.5 215.6L454 216L450.5 216.2L447.1 216.2L443.9 216.2L441 215.9L438.5 215.4L436.3 214.8L434.3 213.9L432.4 213L430.5 212L428.7 211L426.8 209.8L424.8 208.5L422.8 207.1L421.1 205.7L419.6 204.6L418.5 203.7Z" fill="#8e0000" stroke="#8e0000" stroke-width="0.3" stroke-linejoin="round" />
<path d="M417.8 228.1L418 229.2L418.2 230.7L418.6 232.5L419 234.5L419.5 236.4L420.1 238.3L420.7 240L421.5 241.8L422.3 243.6L423.2 245.4L424.2 247L425.2 248.5L426.3 249.9L427.5 251.2L428.8 252.3L430 253.3L431 254.2L431.7 254.8L432.4 254L431.7 253.4L430.8 252.5L429.7 251.4L428.5 250.2L427.4 249L426.4 247.7L425.5 246.2L424.6 244.7L423.7 243L422.9 241.2L422.1 239.5L421.5 237.8L420.9 236L420.3 234.1L419.8 232.2L419.4 230.5L419 228.9L418.7 227.9Z" fill="#8e0000" stroke="#8e0000" stroke-width="0.3" stroke-linejoin="round" />
<path d="M463.1 231.9L463.4 233L463.9 234.5L464.5 236.4L465.2 238.3L465.9 240.3L466.6 242.1L467.4 243.8L468.3 245.6L469.2 247.3L470.1 249L470.9 250.6L471.7 252.2L472.4 253.8L473.2 255.3L473.9 256.8L474.6 258.2L475.1 259.5L475.4 260.8L475.5 262.1L475.4 263.5L475.1 264.9L474.8 266.2L474.6 267.3L474.4 268.1L475.4 268.4L475.6 267.6L475.9 266.5L476.4 265.2L476.7 263.7L476.9 262.1L476.9 260.6L476.5 259.1L476 257.6L475.3 256.1L474.6 254.6L473.8 253.1L473 251.5L472.3 249.9L471.4 248.3L470.5 246.6L469.6 244.9L468.8 243.2L468 241.5L467.2 239.7L466.5 237.8L465.7 235.9L465 234.2L464.4 232.7L464 231.6Z" fill="#8e0000" stroke="#8e0000" stroke-width="0.3" stroke-linejoin="round" />
<path d="M495.9 219.5L497 220.5L498.5 221.9L500.3 223.5L502.2 225.1L504.1 226.7L505.9 228.1L507.6 229.2L509.3 230.4L511.1 231.5L512.8 232.4L514.6 233L516.4 233.2L518.2 233L519.9 232.4L521.5 231.5L523.1 230.4L524.5 229.2L525.8 228L526.9 226.6L527.9 225L528.8 223.3L529.6 221.7L530.2 220.3L530.7 219.4L529.8 218.9L529.3 219.9L528.6 221.2L527.7 222.7L526.8 224.3L525.8 225.7L524.7 226.9L523.5 228L522.1 229.1L520.7 230.2L519.3 231L517.8 231.5L516.4 231.7L515 231.5L513.5 231L511.8 230.1L510.2 229.1L508.5 228L506.8 226.8L505 225.6L503 224.1L501.1 222.5L499.3 221L497.7 219.7L496.6 218.8Z" fill="#8e0000" stroke="#8e0000" stroke-width="0.3" stroke-linejoin="round" />
<path d="M372.6 237.2L373.9 238.1L375.6 239.4L377.6 241L380 242.6L382.5 244L385.3 245L388.4 245.7L391.9 246.2L395.5 246.5L399.2 246.6L402.7 246.5L405.7 246.3L408.5 245.8L411.1 245L413.5 244L415.5 243L417.2 242.1L418.4 241.5L418 240.6L416.7 241.1L415 241.9L413 242.8L410.7 243.7L408.2 244.4L405.6 244.8L402.6 245L399.2 245L395.6 244.9L392 244.7L388.7 244.2L385.7 243.6L383.1 242.7L380.6 241.4L378.3 240L376.3 238.5L374.5 237.2L373.2 236.4Z" fill="#8e0000" stroke="#8e0000" stroke-width="0.3" stroke-linejoin="round" />
<path d="M380 267.2L380.5 268.2L381.1 269.7L381.8 271.4L382.7 273.2L383.8 275L385 276.3L386.4 277.4L388 278.3L389.6 279.1L391.5 279.7L393.4 280.1L395.5 280.3L397.9 280.3L400.5 280.2L403.3 279.9L406 279.3L408.6 278.6L411 277.7L413.2 276.4L415.2 274.8L417.1 272.9L418.7 271.2L420.1 269.6L421.1 268.6L420.4 267.9L419.3 268.9L417.9 270.4L416.2 272L414.3 273.7L412.4 275.2L410.4 276.4L408.2 277.2L405.7 277.8L403 278.3L400.4 278.7L397.8 278.8L395.6 278.8L393.7 278.6L391.9 278.2L390.2 277.7L388.7 277L387.3 276.1L386 275.2L384.9 274.1L383.9 272.6L382.9 270.9L382.1 269.2L381.5 267.8L380.9 266.8Z" fill="#8e0000" stroke="#8e0000" stroke-width="0.3" stroke-linejoin="round" />
<path d="M509.2 198.1L510.1 197.3L511.3 196.2L512.7 194.8L514.2 193.4L515.6 192L516.9 190.7L518.1 189.6L519.3 188.6L520.5 187.6L521.6 186.5L522.6 185.4L523.4 184.3L523.9 183L524.2 181.7L524.3 180.4L524.4 179.3L524.4 178.4L524.5 177.7L523.5 177.6L523.4 178.3L523.3 179.2L523.1 180.3L522.9 181.4L522.5 182.5L522.1 183.5L521.4 184.5L520.5 185.4L519.4 186.4L518.3 187.4L517.1 188.5L515.9 189.7L514.6 191L513.2 192.4L511.8 193.9L510.5 195.3L509.3 196.5L508.5 197.4Z" fill="#8e0000" stroke="#8e0000" stroke-width="0.3" stroke-linejoin="round" />
<path d="M537.1 217.8L536.9 218.6L536.7 219.8L536.4 221.1L536.1 222.4L535.6 223.7L535.2 224.9L534.5 226L533.8 227.2L533 228.4L532.1 229.6L531.2 230.7L530.3 231.7L529.3 232.7L528 233.8L526.7 234.8L525.4 235.8L524.3 236.6L523.4 237.2L524.5 238.9L525.4 238.5L526.6 237.9L528.2 237.2L529.8 236.3L531.3 235.4L532.7 234.3L533.9 233L534.9 231.7L535.9 230.3L536.7 228.9L537.4 227.4L537.9 226L538.3 224.5L538.5 222.9L538.6 221.3L538.6 219.9L538.5 218.8L538.6 218Z" fill="#5a0000" stroke="#5a0000" stroke-width="0.3" stroke-linejoin="round" />
<path d="M510.9 243L510.5 244.9L510 247.5L509.3 250.7L508.7 254L508.2 257.5L507.9 260.6L507.8 263.7L507.9 266.6L508.1 269.6L508.4 272.6L508.6 275.5L508.9 278.4L509.1 281.4L509.3 284.5L509.5 287.7L509.7 290.7L509.9 293.5L510.1 296L510.4 298.3L510.7 300.4L511 302.2L511.2 303.8L511.5 305.1L511.6 306.1L513.6 305.9L513.5 304.8L513.4 303.5L513.2 301.9L513 300.1L512.8 298L512.6 295.8L512.4 293.3L512.2 290.5L512 287.5L511.8 284.4L511.6 281.2L511.4 278.2L511.1 275.3L510.7 272.3L510.4 269.4L510.1 266.5L509.9 263.6L509.9 260.7L510 257.6L510.3 254.3L510.8 250.9L511.2 247.7L511.6 245.1L511.9 243.1Z" fill="#6a0000" stroke="#6a0000" stroke-width="0.3" stroke-linejoin="round" />
<path d="M545.9 243.2L546.2 245.1L546.6 247.7L547.1 250.8L547.6 254.1L548 257.5L548.1 260.7L548.1 263.8L548 267L547.7 270.2L547.3 273.5L547 277L546.6 280.7L546.2 284.9L545.8 289.7L545.3 294.5L544.8 299.2L544.4 303.1L544.1 305.9L546.6 306.1L546.9 303.3L547.3 299.4L547.8 294.8L548.3 289.9L548.8 285.1L549.1 280.9L549.4 277.3L549.7 273.8L550 270.4L550.1 267.1L550.2 263.9L550.1 260.6L549.9 257.3L549.4 253.8L548.8 250.5L548.2 247.4L547.7 244.8L547.4 242.9Z" fill="#4a0000" stroke="#4a0000" stroke-width="0.3" stroke-linejoin="round" />
<path d="M445.5 260.9L445.9 261.8L446.5 263L447.2 264.5L448 266.1L449.1 267.7L450.3 269L451.8 270.1L453.4 271.2L455.3 272.2L457.2 273L459.1 273.7L461 274L462.9 274L464.9 273.5L466.9 272.9L468.7 272.2L470.2 271.6L471.3 271.2L470.9 270.3L469.8 270.6L468.3 271.2L466.5 271.8L464.6 272.3L462.8 272.6L461.1 272.5L459.5 272.1L457.8 271.5L456.1 270.6L454.5 269.6L452.9 268.5L451.6 267.5L450.5 266.4L449.4 265.1L448.5 263.8L447.6 262.4L446.9 261.3L446.4 260.4Z" fill="#8e0000" stroke="#8e0000" stroke-width="0.3" stroke-linejoin="round" />
<path d="M335.3 258.7L337.2 258.2L339.9 257.5L343 256.7L346.4 255.9L349.7 255.3L352.8 255L355.8 255L359 255.2L362.1 255.6L365.2 256.2L367.9 256.8L370.2 257.5L372 258.3L373.6 259.4L374.9 260.6L376 261.8L376.9 262.8L377.6 263.6L378.3 262.9L377.6 262.1L376.8 261.1L375.7 259.8L374.3 258.5L372.6 257.3L370.6 256.4L368.2 255.6L365.4 255L362.3 254.4L359.1 254L355.9 253.8L352.8 253.8L349.6 254.1L346.1 254.8L342.7 255.6L339.6 256.4L337 257.2L335 257.7Z" fill="#8e0000" stroke="#8e0000" stroke-width="0.3" stroke-linejoin="round" />
<path d="M325.4 286.3L326.9 285.3L329 283.8L331.4 282.1L333.9 280.5L336.1 279.3L337.7 278.9L338.8 279.2L339.8 280L340.6 281.3L341.3 282.8L341.8 284.4L342.1 285.9L342.1 287.4L341.8 289.3L341.3 291.2L340.6 293L340.1 294.6L339.7 295.8L340.7 296.1L341.1 295L341.6 293.4L342.3 291.5L342.9 289.5L343.3 287.6L343.3 285.8L343 284.1L342.5 282.4L341.7 280.7L340.7 279.2L339.3 278.1L337.7 277.7L335.7 278.2L333.3 279.5L330.8 281.2L328.3 282.9L326.3 284.4L324.8 285.4Z" fill="#8e0000" stroke="#8e0000" stroke-width="0.3" stroke-linejoin="round" />
<path d="M470.8 278.7L471.9 279.6L473.3 280.9L475 282.4L476.9 283.9L478.8 285.4L480.6 286.7L482.3 287.8L484 289L485.7 290.1L487.5 291L489.3 291.6L491.2 291.9L493.2 291.7L495.1 291.1L497.1 290.2L498.9 289.1L500.6 287.9L502 286.5L503.3 284.9L504.4 282.9L505.3 280.9L506 278.9L506.6 277.2L507 276.1L505.7 275.5L505.1 276.7L504.5 278.3L503.7 280.2L502.7 282.1L501.7 283.8L500.6 285.2L499.3 286.3L497.8 287.4L496.1 288.4L494.4 289.2L492.8 289.7L491.2 289.9L489.8 289.7L488.3 289.1L486.7 288.3L485.1 287.2L483.4 286.1L481.7 285L479.9 283.9L478 282.6L476 281.2L474.1 279.9L472.5 278.7L471.4 277.9Z" fill="#8e0000" stroke="#8e0000" stroke-width="0.3" stroke-linejoin="round" />
<path d="M421 301.4L422.1 300.8L423.7 299.9L425.5 298.9L427.4 297.9L429.3 297.1L431 296.7L432.5 296.5L434.1 296.6L435.7 296.8L437.4 297.1L439 297.5L440.7 297.9L442.5 298.4L444.4 299L446.3 299.7L448.1 300.4L449.7 301L450.8 301.4L451.1 300.5L450.1 300L448.6 299.4L446.8 298.6L444.9 297.8L442.9 297L441.1 296.5L439.4 296L437.7 295.6L436 295.2L434.2 295L432.5 295L430.7 295.2L428.8 295.8L426.8 296.7L424.9 297.8L423.1 298.9L421.6 299.9L420.5 300.5Z" fill="#8e0000" stroke="#8e0000" stroke-width="0.3" stroke-linejoin="round" />
<path d="M512 176.1L512.2 176.7L512.4 177.6L512.7 178.5L513 179.5L513.2 180.6L513.3 181.5L513.2 182.4L512.9 183.5L512.5 184.6L512.2 185.9L512.2 187.1L512.8 188.3L514 189L515.6 189.2L517.4 189.3L519.1 189.4L520.5 189.7L521.3 190.1L521.8 190.8L522.2 191.9L522.6 193.3L522.8 194.7L523 196.2L523.3 197.4L523.6 198.4L523.9 199.3L524.1 200.1L524.3 200.9L524.5 201.5L524.7 202L525.5 201.9L525.5 201.4L525.5 200.7L525.5 200L525.5 199L525.4 198L525.3 197L525.1 195.8L524.9 194.4L524.6 192.9L524.2 191.3L523.6 189.8L522.5 188.5L521 187.8L519.2 187.6L517.4 187.6L515.7 187.6L514.4 187.5L513.8 187.2L513.6 186.8L513.6 186.1L513.9 185.1L514.3 183.9L514.7 182.7L514.8 181.5L514.6 180.3L514.3 179.2L513.9 178.1L513.5 177.2L513.2 176.4L513 175.8Z" fill="#8e0000" stroke="#8e0000" stroke-width="0.3" stroke-linejoin="round" />
<path d="M525.5 188.6L526.4 188.2L527.5 187.5L528.9 186.8L530.4 186L531.9 185.2L533.2 184.5L534.5 184L535.9 183.5L537.2 183L538.6 182.5L539.9 182L541.2 181.3L542.4 180.5L543.6 179.6L544.8 178.6L545.9 177.7L546.8 176.9L547.4 176.3L546.8 175.6L546.1 176.1L545.2 176.8L544 177.6L542.8 178.5L541.6 179.3L540.4 180L539.3 180.6L538 181.1L536.7 181.6L535.4 182.1L534 182.6L532.6 183.1L531.2 183.8L529.6 184.5L528.1 185.2L526.7 185.9L525.5 186.5L524.6 186.9Z" fill="#8e0000" stroke="#8e0000" stroke-width="0.3" stroke-linejoin="round" />
<path d="M560.8 170.2L560.4 170.9L559.8 171.7L559.1 172.7L558.3 173.8L557.5 174.9L556.8 176L556 177.1L555.1 178.3L554.2 179.6L553.3 181L552.5 182.5L551.8 183.9L551.2 185.4L550.8 186.9L550.6 188.4L550.4 189.9L550.3 191.2L550.3 192.5L550.5 193.7L550.9 194.9L551.4 195.8L551.8 196.6L552.2 197.2L552.5 197.6L554.3 196.8L554.1 196.3L553.9 195.6L553.6 194.8L553.4 194L553.3 193.3L553.3 192.4L553.4 191.5L553.6 190.3L553.8 189.1L554.2 187.8L554.6 186.5L555 185.3L555.6 184.1L556.3 182.8L557.1 181.5L557.9 180.2L558.7 178.8L559.4 177.5L560 176.2L560.4 174.8L560.9 173.5L561.2 172.4L561.5 171.4L561.7 170.7Z" fill="#6a0000" stroke="#6a0000" stroke-width="0.3" stroke-linejoin="round" />
<path d="M555.3 198.1L556.3 197.8L557.7 197.4L559.4 196.9L561.3 196.3L563.1 195.8L564.8 195.2L566.4 194.7L568 194.2L569.6 193.7L571.1 193.2L572.7 192.8L574.2 192.4L575.8 192L577.4 191.7L579 191.4L580.6 191.2L582 191L583.3 190.8L584.5 190.7L585.7 190.7L586.8 190.7L587.9 190.8L588.8 190.8L589.4 190.9L589.7 189.4L589.1 189.2L588.2 188.9L587.2 188.5L586 188.2L584.6 187.9L583.2 187.8L581.7 187.9L580.1 188.1L578.5 188.3L576.8 188.7L575.1 189L573.5 189.5L571.8 189.9L570.2 190.5L568.7 191.1L567.1 191.7L565.5 192.3L564 192.9L562.3 193.5L560.5 194.1L558.7 194.8L557.1 195.4L555.7 195.9L554.6 196.2Z" fill="#6a0000" stroke="#6a0000" stroke-width="0.3" stroke-linejoin="round" />
<path d="M585.2 175.3L585.3 176L585.5 177L585.8 178.1L586 179.3L586.2 180.5L586.2 181.5L586.1 182.5L586 183.7L585.8 184.8L585.5 185.9L585.3 186.9L585.2 187.6L587.7 188L587.7 187.3L587.9 186.3L588.1 185.2L588.2 183.9L588.3 182.6L588.2 181.4L588 180.2L587.6 178.9L587.2 177.7L586.7 176.6L586.4 175.7L586.1 175Z" fill="#6a0000" stroke="#6a0000" stroke-width="0.3" stroke-linejoin="round" />
<path d="M532.9 220.8C534.5 218.2 537.4 218.4 539.2 219.2C541.1 220 542.6 223.4 543.9 225.5C545.3 227.6 547.9 230.1 547.1 231.8C546.3 233.5 542.1 235.2 539.2 235.7C536.3 236.3 530.8 237.4 529.8 235C528.7 232.5 531.4 223.4 532.9 220.8Z" fill="#5a0000" />
<path d="M494.8 223.8L495.4 224.2L496.3 224.7L497.3 225.4L498.5 226.1L499.8 226.9L501 227.7L502.4 228.7L503.9 229.8L505.5 231L507.2 232.2L508.9 233.2L510.6 234.1L512.3 234.7L514 235.2L515.8 235.6L517.5 235.7L519.1 235.7L520.5 235.4L521.8 234.8L522.8 233.7L523.7 232.5L524.5 231.3L525.2 230L525.7 229L526.2 228L526.5 227L526.8 226.1L526.9 225.2L527 224.6L527.1 224.1L526.2 223.8L526 224.3L525.8 225L525.5 225.7L525.2 226.6L524.9 227.4L524.4 228.3L523.9 229.4L523.3 230.6L522.7 231.9L521.9 233L521.1 233.9L520.2 234.5L519 234.7L517.6 234.6L516 234.4L514.4 233.9L512.8 233.3L511.2 232.7L509.7 231.9L508.1 230.9L506.4 229.8L504.8 228.6L503.3 227.4L501.9 226.5L500.6 225.6L499.3 224.8L498.1 224.1L497.1 223.4L496.2 222.9L495.6 222.5Z" fill="#8e0000" stroke="#8e0000" stroke-width="0.3" stroke-linejoin="round" />
<path d="M470.1 212.1L471.1 212L472.5 211.8L474.2 211.6L476.1 211.3L477.9 211L479.7 210.5L481.3 209.9L483 209.3L484.7 208.5L486.3 207.7L487.9 206.7L489.4 205.6L490.7 204.3L492 202.8L493.1 201.2L494.1 199.7L495 198.4L495.6 197.5L494.8 196.9L494.1 197.8L493.2 199L492.1 200.5L490.9 202L489.7 203.3L488.4 204.5L487.1 205.4L485.6 206.3L484 207.1L482.4 207.9L480.8 208.5L479.2 209.1L477.6 209.5L475.8 209.9L474 210.1L472.4 210.3L470.9 210.5L469.9 210.6Z" fill="#8e0000" stroke="#8e0000" stroke-width="0.3" stroke-linejoin="round" />
<path d="M506.5 252.6L506.3 254.5L506 257.3L505.6 260.5L505.3 264.1L505 267.8L504.9 271.5L505 275.3L505.2 279.4L505.4 283.6L505.7 287.7L506 291.7L506.3 295.2L506.5 298.2L506.8 300.9L507 303.3L507.3 305.7L507.6 308.1L507.8 310.9L508.1 314.3L508.4 318.1L508.7 322.1L509 325.9L509.2 329.1L509.4 331.4L512.4 331.1L512.2 328.9L512 325.7L511.7 321.9L511.4 317.9L511.1 314L510.8 310.7L510.6 307.8L510.3 305.3L510.1 303L509.8 300.6L509.5 297.9L509.3 294.9L508.9 291.4L508.6 287.5L508.2 283.4L507.9 279.2L507.6 275.2L507.4 271.4L507.3 267.8L507.3 264.2L507.3 260.6L507.4 257.4L507.4 254.6L507.5 252.6Z" fill="#6a0000" stroke="#6a0000" stroke-width="0.3" stroke-linejoin="round" />
<path d="M378.7 268.4L378.8 269.3L378.8 270.5L378.8 272L378.9 273.7L379.3 275.3L380 276.8L381 277.9L382.3 278.9L383.7 279.8L385.2 280.6L386.8 281.2L388.3 281.8L390 282.4L391.8 282.9L393.7 283.2L395.4 283.5L396.9 283.8L397.9 284L398.3 282.5L397.2 282.3L395.8 281.9L394.1 281.5L392.3 281.1L390.5 280.5L389 280L387.6 279.4L386.1 278.7L384.7 278L383.5 277.2L382.4 276.4L381.6 275.6L381 274.6L380.6 273.3L380.3 271.9L380 270.4L379.9 269.2L379.7 268.3Z" fill="#8e0000" stroke="#8e0000" stroke-width="0.3" stroke-linejoin="round" />
<path d="M418.1 273.1L418.1 274.3L418.1 276.1L418.1 278.1L418.2 280.4L418.4 282.5L419 284.5L419.7 286.2L420.6 287.9L421.7 289.4L423 290.8L424.3 292L425.8 293L427.6 293.7L429.5 294.1L431.4 294.2L433.2 294.2L434.7 294.2L435.8 294.2L435.9 292.7L434.9 292.6L433.4 292.4L431.6 292.2L429.9 291.9L428.3 291.4L427 290.8L425.9 290L424.9 289L423.8 287.8L422.9 286.4L422 285L421.3 283.6L420.7 282L420.2 280.1L419.8 278L419.5 276L419.3 274.2L419.1 273Z" fill="#6a0000" stroke="#6a0000" stroke-width="0.3" stroke-linejoin="round" />
<path d="M385 298.3L385.2 299.5L385.3 301.3L385.5 303.3L385.8 305.6L386.3 307.7L387 309.6L387.9 311.3L389 312.9L390.2 314.4L391.5 315.8L393 316.9L394.4 317.9L395.9 318.8L397.6 319.5L399.3 320L401 320.4L402.8 320.4L404.6 320.2L406.4 319.4L408.3 318.1L410.2 316.6L411.9 315.1L413.3 313.8L414.3 312.9L413.3 311.8L412.3 312.7L410.9 314L409.2 315.5L407.5 316.9L405.7 318.1L404.2 318.7L402.8 318.9L401.3 318.7L399.8 318.4L398.3 317.8L396.8 317.1L395.5 316.2L394.2 315.3L393 314.2L391.8 313L390.6 311.6L389.6 310.2L388.8 308.8L388.1 307.2L387.5 305.2L387 303.1L386.6 301.1L386.3 299.4L386 298.1Z" fill="#8e0000" stroke="#8e0000" stroke-width="0.3" stroke-linejoin="round" />
<path d="M336.3 292.1L336.5 292.9L336.8 294.2L337.1 295.7L337.6 297.4L338.4 298.9L339.4 300.3L340.8 301.4L342.6 302.4L344.5 303.3L346.4 304.1L347.9 304.7L349 305.2L349.6 303.8L348.5 303.3L346.9 302.7L345.1 301.9L343.3 301.1L341.6 300.2L340.4 299.3L339.6 298.2L338.9 296.8L338.3 295.4L337.9 293.9L337.5 292.7L337.2 291.8Z" fill="#8e0000" stroke="#8e0000" stroke-width="0.3" stroke-linejoin="round" />
<path d="M375.6 314.2L376.1 315.1L376.7 316.5L377.4 318.1L378.2 319.7L379 321.3L379.8 322.6L380.7 323.6L381.8 324.5L382.7 325.2L383.7 325.8L384.4 326.2L384.9 326.5L386.1 324.9L385.6 324.5L384.9 324L384.2 323.3L383.3 322.6L382.5 321.8L381.8 321L380.9 320L379.9 318.6L378.9 317.2L377.9 315.8L377.1 314.6L376.5 313.7Z" fill="#6a0000" stroke="#6a0000" stroke-width="0.3" stroke-linejoin="round" />
<path d="M420.8 235.5C421.2 237.2 421.6 242.6 423.3 245.6C425 248.6 429.6 252.3 430.8 253.6" fill="none" stroke="#ffffff" stroke-width="2" stroke-linecap="round" stroke-linejoin="round" opacity="0.95"/>
<path d="M486.2 233.5C484.5 233.8 479 234.7 476.1 235.5C473.3 236.4 469.6 236.4 469.1 238.5C468.6 240.6 471.7 244.8 473.1 248.1C474.5 251.4 476.7 256.5 477.4 258.2" fill="none" stroke="#ffffff" stroke-width="1.6" stroke-linecap="round" stroke-linejoin="round" opacity="0.95"/>
<path d="M466.1 190.2C468.6 189.2 476.6 185.6 481.2 184.2C485.8 182.7 491.7 182.1 493.8 181.6" fill="none" stroke="#ffffff" stroke-width="1.8" stroke-linecap="round" stroke-linejoin="round" opacity="0.95"/>
<path d="M483.7 205.3C485.4 204.7 491.4 202.8 493.8 201.5C496.1 200.3 496.9 198.4 497.5 197.8" fill="none" stroke="#ffffff" stroke-width="1.2" stroke-linecap="round" stroke-linejoin="round" opacity="0.95"/>
<path d="M373.4 236C374 235.3 375.1 233.1 376.7 231.7C378.3 230.4 382 228.6 383 228" fill="none" stroke="#ffffff" stroke-width="2" stroke-linecap="round" stroke-linejoin="round" opacity="0.95"/>
<path d="M383.5 265.7C384.3 264.5 386.1 260.2 388.5 258.2C391 256.2 396.5 254.4 398.1 253.6" fill="none" stroke="#ffffff" stroke-width="1.8" stroke-linecap="round" stroke-linejoin="round" opacity="0.95"/>
<path d="M342.7 278.3C344.4 277.5 349.6 274.3 352.8 273.3C355.9 272.2 360.1 272.2 361.6 272" fill="none" stroke="#ffffff" stroke-width="1.8" stroke-linecap="round" stroke-linejoin="round" opacity="0.95"/>
<path d="M325.6 294.7C325.9 295.8 327.3 300.3 327.6 301.5" fill="none" stroke="#ffffff" stroke-width="1.5" stroke-linecap="round" stroke-linejoin="round" opacity="0.95"/>
<path d="M357.8 297.2C359.5 296.1 366.2 291.9 367.9 290.9" fill="none" stroke="#ffffff" stroke-width="1.5" stroke-linecap="round" stroke-linejoin="round" opacity="0.95"/>
<path d="M531.5 177.6C532.8 177 537.8 174.5 539.1 173.8" fill="none" stroke="#ffffff" stroke-width="1.3" stroke-linecap="round" stroke-linejoin="round" opacity="0.95"/>
<path d="M388 219.4C389.7 218.5 394.3 215.6 398.1 214.1C401.9 212.6 408.6 211 410.7 210.3" fill="none" stroke="#ffffff" stroke-width="1" stroke-linecap="round" stroke-linejoin="round" opacity="0.95"/>
<path d="M548.7 212.9C550.2 211.6 554.2 207 558.1 205.1C562 203.1 567 202.4 572.3 201.1C577.5 199.8 586.7 197.9 589.6 197.2" fill="none" stroke="#ffffff" stroke-width="2.3" stroke-linecap="round" stroke-linejoin="round" opacity="0.95"/>
<path d="M594.3 181.5C594.3 180.2 593.2 175.8 594.3 173.6C595.3 171.4 598 169.4 600.6 168.1C603.2 166.8 608.4 166.1 610 165.7" fill="none" stroke="#ffffff" stroke-width="2.3" stroke-linecap="round" stroke-linejoin="round" opacity="0.95"/>
<path d="M499.1 223.9C500.5 225.3 504.5 230.1 507.8 231.8C511 233.5 515.9 235 518.8 234.2C521.7 233.4 524 228.3 525.1 227.1" fill="none" stroke="#ffffff" stroke-width="1.6" stroke-linecap="round" stroke-linejoin="round" opacity="0.95"/>
<path d="M510.1 258.9C510.4 261 510.8 267.3 511.7 271.5C512.6 275.7 515 282 515.6 284.1" fill="none" stroke="#ffffff" stroke-width="2.4" stroke-linecap="round" stroke-linejoin="round" opacity="0.95"/>
<path d="M352.8 305.2C353.6 303.7 355.5 298.5 357.8 296.4C360.1 294.2 365.2 292.8 366.6 292.1" fill="none" stroke="#ffffff" stroke-width="1.8" stroke-linecap="round" stroke-linejoin="round" opacity="0.95"/>
<path d="M325.1 295.1C325.2 296.4 325.5 301.4 325.6 302.7" fill="none" stroke="#ffffff" stroke-width="1.5" stroke-linecap="round" stroke-linejoin="round" opacity="0.95"/>
<path d="M435.9 307.7C437.5 306.9 441.7 303.7 445.9 302.7C450.1 301.6 456.8 301.2 461 301.4C465.2 301.6 469.4 303.5 471.1 303.9" fill="none" stroke="#ffffff" stroke-width="1.6" stroke-linecap="round" stroke-linejoin="round" opacity="0.95"/>
<path d="M405.7 340.4C406.3 339.4 407.8 335.8 409.4 334.1C411.1 332.4 414.7 331 415.7 330.3" fill="none" stroke="#ffffff" stroke-width="1.8" stroke-linecap="round" stroke-linejoin="round" opacity="0.95"/>
<path d="M327.6 325.3C327.8 327.4 328.7 335.8 328.9 337.9" fill="none" stroke="#ffffff" stroke-width="1.3" stroke-linecap="round" stroke-linejoin="round" opacity="0.95"/>
</g>
<path d="M334.5 235.2H424.5" stroke="#050505" stroke-width="3" stroke-linecap="round" fill="none"/>
<path d="M702.5 222.3H792.8" stroke="#050505" stroke-width="2.3" stroke-linecap="round" fill="none"/>
<path d="M781.5 330.7H838.3" stroke="#050505" stroke-width="2.3" stroke-linecap="round" fill="none"/>
<path d="M388 428.2H496.5" stroke="#050505" stroke-width="3" stroke-linecap="round" fill="none"/>
<path d="M717.6 459H808" stroke="#050505" stroke-width="2.5" stroke-linecap="round" fill="none"/>
<path d="M549.5 507.3H640" stroke="#050505" stroke-width="2.6" stroke-linecap="round" fill="none"/>
</svg>
</body></html>
